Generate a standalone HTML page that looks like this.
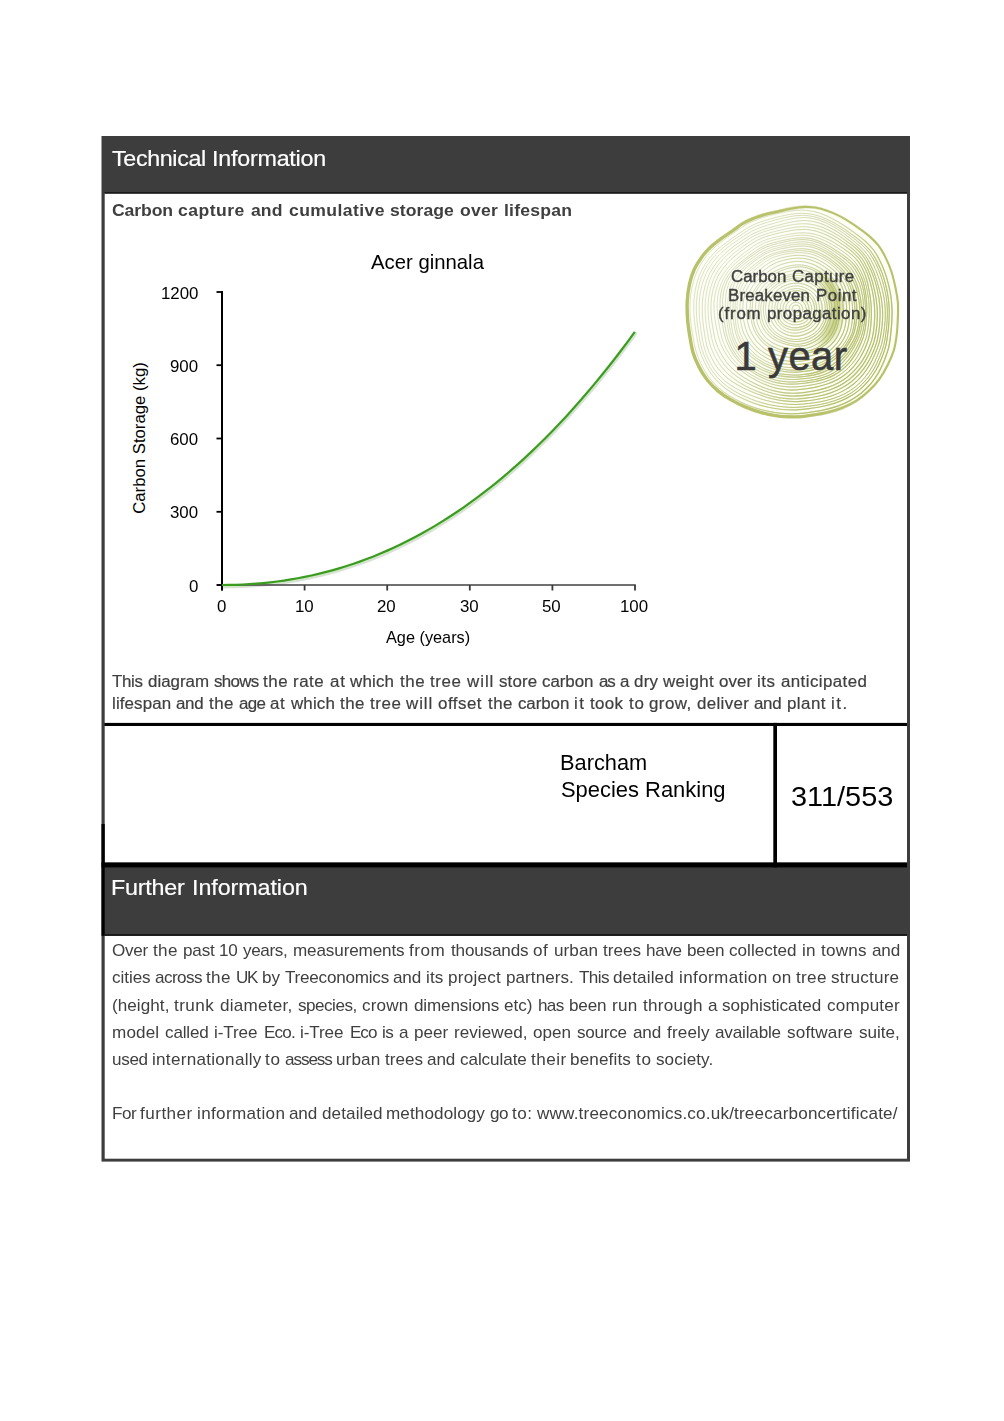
<!DOCTYPE html>
<html><head><meta charset="utf-8"><title>Technical Information</title>
<style>
html,body{margin:0;padding:0;background:#fff;}
body{width:1004px;height:1421px;position:relative;overflow:hidden;font-family:"Liberation Sans", sans-serif;}
.b{position:absolute;}
.t{position:absolute;white-space:nowrap;font-family:"Liberation Sans", sans-serif;}
</style></head><body>
<svg class="b" style="left:0;top:0" width="1004" height="1421" viewBox="0 0 1004 1421">
<rect x="101.50" y="136.00" width="808.50" height="1025.60" fill="#3d3d3d"/>
<rect x="104.70" y="193.60" width="802.30" height="529.40" fill="#fff"/>
<rect x="104.70" y="726.00" width="668.80" height="136.60" fill="#fff"/>
<rect x="777.00" y="726.00" width="130.00" height="136.60" fill="#fff"/>
<rect x="104.70" y="935.80" width="802.30" height="222.90" fill="#fff"/>
<rect x="104.70" y="192.00" width="802.30" height="1.60" fill="#1a1a1a"/>
<rect x="104.70" y="722.90" width="802.30" height="3.10" fill="#000"/>
<rect x="773.50" y="722.90" width="3.50" height="144.50" fill="#000"/>
<rect x="101.50" y="862.50" width="805.50" height="4.90" fill="#000"/>
<rect x="101.50" y="824.00" width="3.20" height="111.80" fill="#000"/>
<rect x="104.70" y="934.20" width="802.30" height="1.60" fill="#111"/>
</svg>
<div class="t" style="left:111.60px;top:148.47px;font-size:22.6px;line-height:22.6px;color:#fff;letter-spacing:-0.340px;transform-origin:0 0;transform:scaleX(1.03);-webkit-text-stroke:0.2px #fff;">Technical</div>
<div class="t" style="left:212.05px;top:148.47px;font-size:22.6px;line-height:22.6px;color:#fff;letter-spacing:-0.211px;transform-origin:0 0;transform:scaleX(1.03);-webkit-text-stroke:0.2px #fff;">Information</div>
<div class="t" style="left:111.20px;top:876.67px;font-size:22.6px;line-height:22.6px;color:#fff;letter-spacing:-0.189px;transform-origin:0 0;transform:scaleX(1.03);-webkit-text-stroke:0.2px #fff;">Further</div>
<div class="t" style="left:191.51px;top:876.67px;font-size:22.6px;line-height:22.6px;color:#fff;letter-spacing:-0.067px;transform-origin:0 0;transform:scaleX(1.03);-webkit-text-stroke:0.2px #fff;">Information</div>
<div class="t" style="left:111.60px;top:203.15px;font-size:16.6px;line-height:16.6px;color:#3f3f3f;letter-spacing:-0.086px;transform-origin:0 0;transform:scaleX(1.06);font-weight:bold;">Carbon</div>
<div class="t" style="left:178.47px;top:203.15px;font-size:16.6px;line-height:16.6px;color:#3f3f3f;letter-spacing:0.445px;transform-origin:0 0;transform:scaleX(1.06);font-weight:bold;">capture</div>
<div class="t" style="left:251.16px;top:203.15px;font-size:16.6px;line-height:16.6px;color:#3f3f3f;letter-spacing:0.077px;transform-origin:0 0;transform:scaleX(1.06);font-weight:bold;">and</div>
<div class="t" style="left:288.52px;top:203.15px;font-size:16.6px;line-height:16.6px;color:#3f3f3f;letter-spacing:0.377px;transform-origin:0 0;transform:scaleX(1.06);font-weight:bold;">cumulative</div>
<div class="t" style="left:390.26px;top:203.15px;font-size:16.6px;line-height:16.6px;color:#3f3f3f;letter-spacing:0.043px;transform-origin:0 0;transform:scaleX(1.06);font-weight:bold;">storage</div>
<div class="t" style="left:459.98px;top:203.15px;font-size:16.6px;line-height:16.6px;color:#3f3f3f;letter-spacing:0.190px;transform-origin:0 0;transform:scaleX(1.06);font-weight:bold;">over</div>
<div class="t" style="left:503.78px;top:203.15px;font-size:16.6px;line-height:16.6px;color:#3f3f3f;letter-spacing:0.216px;transform-origin:0 0;transform:scaleX(1.06);font-weight:bold;">lifespan</div>
<div class="t" style="left:371.20px;top:251.60px;font-size:20.2px;line-height:20.2px;color:#000;transform-origin:0 0;transform:scaleX(1.0063);">Acer ginnala</div>
<svg class="b" style="left:0;top:0" width="1004" height="1421" viewBox="0 0 1004 1421">
<path d="M222.00,585.00 L228.88,584.95 L235.77,584.79 L242.65,584.52 L249.53,584.14 L256.42,583.65 L263.30,583.05 L270.18,582.33 L277.07,581.49 L283.95,580.54 L290.83,579.46 L297.72,578.26 L304.60,576.93 L311.48,575.48 L318.37,573.90 L325.25,572.19 L332.13,570.34 L339.02,568.37 L345.90,566.25 L352.78,564.00 L359.67,561.61 L366.55,559.08 L373.43,556.40 L380.32,553.58 L387.20,550.62 L394.08,547.50 L400.97,544.24 L407.85,540.82 L414.73,537.25 L421.62,533.53 L428.50,529.65 L435.38,525.60 L442.27,521.40 L449.15,517.04 L456.03,512.51 L462.92,507.82 L469.80,502.96 L476.68,497.93 L483.57,492.73 L490.45,487.35 L497.33,481.81 L504.22,476.08 L511.10,470.18 L517.98,464.10 L524.87,457.84 L531.75,451.39 L538.63,444.77 L545.52,437.95 L552.40,430.95 L559.28,423.76 L566.17,416.38 L573.05,408.80 L579.93,401.04 L586.82,393.07 L593.70,384.91 L600.58,376.55 L607.47,367.99 L614.35,359.22 L621.23,350.26 L628.12,341.08 L634.80,331.80" transform="translate(1.0,2.2)" stroke="#dedede" stroke-width="2.4" fill="none" stroke-linecap="round"/>
<path d="M222.00,585.00 L228.88,584.95 L235.77,584.79 L242.65,584.52 L249.53,584.14 L256.42,583.65 L263.30,583.05 L270.18,582.33 L277.07,581.49 L283.95,580.54 L290.83,579.46 L297.72,578.26 L304.60,576.93 L311.48,575.48 L318.37,573.90 L325.25,572.19 L332.13,570.34 L339.02,568.37 L345.90,566.25 L352.78,564.00 L359.67,561.61 L366.55,559.08 L373.43,556.40 L380.32,553.58 L387.20,550.62 L394.08,547.50 L400.97,544.24 L407.85,540.82 L414.73,537.25 L421.62,533.53 L428.50,529.65 L435.38,525.60 L442.27,521.40 L449.15,517.04 L456.03,512.51 L462.92,507.82 L469.80,502.96 L476.68,497.93 L483.57,492.73 L490.45,487.35 L497.33,481.81 L504.22,476.08 L511.10,470.18 L517.98,464.10 L524.87,457.84 L531.75,451.39 L538.63,444.77 L545.52,437.95 L552.40,430.95 L559.28,423.76 L566.17,416.38 L573.05,408.80 L579.93,401.04 L586.82,393.07 L593.70,384.91 L600.58,376.55 L607.47,367.99 L614.35,359.22 L621.23,350.26 L628.12,341.08 L634.80,331.80" transform="translate(0.5,1.2)" stroke="#cfe8c4" stroke-width="2.6" fill="none" stroke-linecap="round"/>
<path d="M217.0,585.0 H635.8 " stroke="#404040" stroke-width="1.7" fill="none"/>
<path d="M222.0,585.0 V590.5" stroke="#3a3a3a" stroke-width="1.8" fill="none"/>
<path d="M304.6,585.0 V590.5" stroke="#3a3a3a" stroke-width="1.8" fill="none"/>
<path d="M387.2,585.0 V590.5" stroke="#3a3a3a" stroke-width="1.8" fill="none"/>
<path d="M469.8,585.0 V590.5" stroke="#3a3a3a" stroke-width="1.8" fill="none"/>
<path d="M552.4,585.0 V590.5" stroke="#3a3a3a" stroke-width="1.8" fill="none"/>
<path d="M635.0,585.0 V590.5" stroke="#3a3a3a" stroke-width="1.8" fill="none"/>
<path d="M222.0,291.1 V590.5" stroke="#000" stroke-width="2" fill="none"/>
<path d="M216.5,585.0 H222.0" stroke="#000" stroke-width="1.8" fill="none"/>
<path d="M216.5,511.8 H222.0" stroke="#000" stroke-width="1.8" fill="none"/>
<path d="M216.5,438.5 H222.0" stroke="#000" stroke-width="1.8" fill="none"/>
<path d="M216.5,365.2 H222.0" stroke="#000" stroke-width="1.8" fill="none"/>
<path d="M216.5,292.0 H222.0" stroke="#000" stroke-width="1.8" fill="none"/>
<path d="M222.00,585.00 L228.88,584.95 L235.77,584.79 L242.65,584.52 L249.53,584.14 L256.42,583.65 L263.30,583.05 L270.18,582.33 L277.07,581.49 L283.95,580.54 L290.83,579.46 L297.72,578.26 L304.60,576.93 L311.48,575.48 L318.37,573.90 L325.25,572.19 L332.13,570.34 L339.02,568.37 L345.90,566.25 L352.78,564.00 L359.67,561.61 L366.55,559.08 L373.43,556.40 L380.32,553.58 L387.20,550.62 L394.08,547.50 L400.97,544.24 L407.85,540.82 L414.73,537.25 L421.62,533.53 L428.50,529.65 L435.38,525.60 L442.27,521.40 L449.15,517.04 L456.03,512.51 L462.92,507.82 L469.80,502.96 L476.68,497.93 L483.57,492.73 L490.45,487.35 L497.33,481.81 L504.22,476.08 L511.10,470.18 L517.98,464.10 L524.87,457.84 L531.75,451.39 L538.63,444.77 L545.52,437.95 L552.40,430.95 L559.28,423.76 L566.17,416.38 L573.05,408.80 L579.93,401.04 L586.82,393.07 L593.70,384.91 L600.58,376.55 L607.47,367.99 L614.35,359.22 L621.23,350.26 L628.12,341.08 L634.80,331.80" stroke="#3c9c22" stroke-width="2.2" fill="none" stroke-linecap="butt"/>
</svg>
<div class="t" style="left:188.92px;top:577.50px;font-size:16.3px;line-height:16.3px;color:#000;transform-origin:0 0;transform:scaleX(1.0350);">0</div>
<div class="t" style="left:170.15px;top:504.25px;font-size:16.3px;line-height:16.3px;color:#000;transform-origin:0 0;transform:scaleX(1.0350);">300</div>
<div class="t" style="left:170.15px;top:431.00px;font-size:16.3px;line-height:16.3px;color:#000;transform-origin:0 0;transform:scaleX(1.0350);">600</div>
<div class="t" style="left:170.15px;top:357.75px;font-size:16.3px;line-height:16.3px;color:#000;transform-origin:0 0;transform:scaleX(1.0350);">900</div>
<div class="t" style="left:160.77px;top:284.50px;font-size:16.3px;line-height:16.3px;color:#000;transform-origin:0 0;transform:scaleX(1.0350);">1200</div>
<div class="t" style="left:216.71px;top:598.10px;font-size:16.3px;line-height:16.3px;color:#000;transform-origin:0 0;transform:scaleX(1.0350);">0</div>
<div class="t" style="left:294.62px;top:598.10px;font-size:16.3px;line-height:16.3px;color:#000;transform-origin:0 0;transform:scaleX(1.0350);">10</div>
<div class="t" style="left:377.22px;top:598.10px;font-size:16.3px;line-height:16.3px;color:#000;transform-origin:0 0;transform:scaleX(1.0350);">20</div>
<div class="t" style="left:459.82px;top:598.10px;font-size:16.3px;line-height:16.3px;color:#000;transform-origin:0 0;transform:scaleX(1.0350);">30</div>
<div class="t" style="left:542.42px;top:598.10px;font-size:16.3px;line-height:16.3px;color:#000;transform-origin:0 0;transform:scaleX(1.0350);">50</div>
<div class="t" style="left:620.33px;top:598.10px;font-size:16.3px;line-height:16.3px;color:#000;transform-origin:0 0;transform:scaleX(1.0350);">100</div>
<div class="t" style="left:385.70px;top:628.89px;font-size:16.2px;line-height:16.2px;color:#000;transform-origin:0 0;transform:scaleX(1.0056);">Age (years)</div>
<div class="t" style="left:139.6px;top:438.3px;font-size:16.0px;line-height:16.0px;color:#000;transform:translate(-50%,-50%) rotate(-90deg) scaleX(1.0451);">Carbon Storage (kg)</div>
<svg class="b" style="left:0;top:0" width="1004" height="1421" viewBox="0 0 1004 1421">
<defs><linearGradient id="lg" gradientUnits="userSpaceOnUse" x1="715" y1="255" x2="885" y2="355"><stop offset="0" stop-color="#000"/><stop offset="0.25" stop-color="#0a0a0a"/><stop offset="0.5" stop-color="#555"/><stop offset="0.72" stop-color="#ccc"/><stop offset="1" stop-color="#fff"/></linearGradient>
<radialGradient id="rg" gradientUnits="userSpaceOnUse" cx="796" cy="309" r="60"><stop offset="0.50" stop-color="#b3bd63" stop-opacity="0"/><stop offset="0.68" stop-color="#b3bd63" stop-opacity="0.75"/><stop offset="0.84" stop-color="#b3bd63" stop-opacity="0"/></radialGradient>
<mask id="mk" maskUnits="userSpaceOnUse" x="680" y="200" width="230" height="225"><rect x="680" y="200" width="230" height="225" fill="url(#lg)"/></mask>
<linearGradient id="lo" gradientUnits="userSpaceOnUse" x1="700" y1="330" x2="890" y2="280"><stop offset="0" stop-color="#fff"/><stop offset="0.45" stop-color="#ddd"/><stop offset="0.75" stop-color="#222"/><stop offset="1" stop-color="#000"/></linearGradient>
<mask id="mo" maskUnits="userSpaceOnUse" x="680" y="200" width="230" height="225"><rect x="680" y="200" width="230" height="225" fill="url(#lo)"/></mask>
<mask id="mb" maskUnits="userSpaceOnUse" x="680" y="200" width="230" height="225"><path d="M818,309 L822,268 L846,272 L858,309 L846,348 L822,346 Z" fill="#fff" filter="url(#bl)"/></mask>
<filter id="bl" x="-50%" y="-50%" width="200%" height="200%"><feGaussianBlur stdDeviation="6"/></filter></defs>
<path d="M799.5,207.2C796.0,207.6 791.6,208.4 787.6,209.2C783.6,210.0 779.6,211.1 775.6,212.0C771.6,212.9 767.7,213.7 763.7,214.9C759.7,216.1 755.3,217.6 751.7,219.1C748.1,220.6 745.1,222.1 742.1,223.9C739.1,225.7 737.2,227.5 733.8,229.9C730.4,232.3 725.8,235.2 721.8,238.2C717.8,241.2 713.3,244.6 709.9,247.8C706.5,251.0 704.1,253.8 701.5,257.4C698.9,261.0 696.3,264.9 694.3,269.3C692.3,273.7 690.8,278.3 689.6,283.7C688.4,289.1 687.5,295.7 687.2,301.6C686.9,307.5 687.2,313.8 687.6,319.3C688.0,324.9 688.7,329.3 689.6,334.9C690.5,340.5 691.5,347.4 693.1,352.8C694.7,358.2 696.7,362.5 699.1,367.1C701.5,371.7 704.3,376.3 707.5,380.3C710.7,384.3 714.4,387.9 718.2,391.1C722.0,394.3 725.8,396.8 730.2,399.4C734.6,402.0 739.3,404.4 744.5,406.6C749.7,408.8 756.1,411.1 761.3,412.6C766.5,414.1 771.2,414.9 775.6,415.6C780.0,416.3 783.6,416.5 787.6,416.7C791.6,416.9 796.0,416.9 799.5,416.7C803.0,416.5 804.4,416.3 808.9,415.6C813.4,414.9 821.2,413.9 826.8,412.6C832.4,411.3 837.4,409.8 842.4,407.8C847.4,405.8 852.3,403.4 856.7,400.6C861.1,397.8 864.9,394.7 868.7,391.1C872.5,387.5 876.2,383.5 879.4,379.1C882.6,374.7 885.4,369.6 887.8,364.8C890.2,360.0 892.3,355.4 893.8,350.4C895.3,345.4 896.0,340.5 896.7,334.9C897.4,329.3 897.7,322.4 897.9,317.0C898.1,311.6 898.3,307.4 897.9,302.6C897.5,297.8 896.7,293.4 895.6,288.2C894.5,283.0 893.1,276.7 891.4,271.5C889.7,266.3 887.6,261.5 885.4,257.1C883.2,252.7 881.0,248.8 878.2,245.2C875.4,241.6 872.3,238.7 868.7,235.6C865.1,232.5 860.7,229.5 856.7,226.7C852.7,223.9 848.8,221.2 844.8,218.9C840.8,216.6 836.8,214.6 832.8,212.9C828.8,211.2 824.9,209.7 820.9,208.7C816.9,207.7 812.5,207.2 808.9,207.0C805.3,206.8 803.0,206.8 799.5,207.2Z" fill="#fdfef5" stroke="none"/>
<g fill="none" stroke="#ccd0a8">
<path d="M799.9,309.0C799.9,309.2 799.9,309.3 799.9,309.5C799.9,309.7 799.9,309.9 799.9,310.0C799.8,310.2 799.8,310.4 799.7,310.5C799.6,310.7 799.6,310.9 799.5,311.0C799.4,311.2 799.3,311.3 799.2,311.4C799.1,311.6 799.0,311.7 798.8,311.8C798.7,311.9 798.6,312.1 798.4,312.2C798.3,312.3 798.1,312.4 798.0,312.4C797.8,312.5 797.7,312.6 797.5,312.6C797.3,312.7 797.2,312.8 797.0,312.8C796.8,312.8 796.7,312.9 796.5,312.9C796.3,312.9 796.2,312.9 796.0,313.0C795.8,313.0 795.7,313.0 795.5,312.9C795.3,312.9 795.1,312.9 795.0,312.8C794.8,312.8 794.6,312.7 794.5,312.7C794.3,312.6 794.2,312.5 794.0,312.4C793.9,312.3 793.7,312.3 793.6,312.2C793.4,312.1 793.3,312.0 793.1,311.9C793.0,311.8 792.9,311.6 792.7,311.5C792.6,311.4 792.5,311.2 792.4,311.1C792.3,310.9 792.3,310.7 792.2,310.6C792.2,310.4 792.1,310.2 792.1,310.0C792.1,309.9 792.0,309.7 792.0,309.5C792.0,309.3 792.0,309.2 792.0,309.0C792.0,308.8 792.0,308.7 792.1,308.5C792.1,308.3 792.1,308.1 792.2,308.0C792.3,307.8 792.3,307.7 792.4,307.5C792.5,307.4 792.6,307.2 792.6,307.1C792.7,306.9 792.8,306.8 792.9,306.6C793.0,306.5 793.1,306.4 793.3,306.3C793.4,306.1 793.5,306.0 793.6,305.9C793.8,305.8 793.9,305.7 794.0,305.6C794.2,305.5 794.4,305.5 794.5,305.4C794.7,305.4 794.8,305.3 795.0,305.3C795.2,305.2 795.3,305.2 795.5,305.2C795.7,305.2 795.8,305.1 796.0,305.1C796.2,305.1 796.3,305.1 796.5,305.1C796.7,305.1 796.9,305.1 797.0,305.2C797.2,305.2 797.3,305.3 797.5,305.4C797.7,305.4 797.8,305.5 798.0,305.6C798.1,305.7 798.2,305.8 798.4,305.9C798.5,306.0 798.6,306.1 798.8,306.2C798.9,306.4 799.0,306.5 799.1,306.6C799.2,306.8 799.3,306.9 799.3,307.1C799.4,307.2 799.5,307.4 799.5,307.5C799.6,307.7 799.6,307.9 799.7,308.0C799.7,308.2 799.8,308.3 799.8,308.5C799.8,308.7 799.9,308.8 799.9,309.0Z" stroke-width="0.72"/>
<path d="M802.7,309.0C802.8,309.3 802.8,309.6 802.7,309.9C802.7,310.2 802.7,310.5 802.6,310.8C802.5,311.1 802.5,311.4 802.3,311.6C802.2,311.9 802.1,312.2 801.9,312.4C801.8,312.7 801.6,312.9 801.4,313.2C801.3,313.4 801.1,313.6 800.9,313.9C800.7,314.1 800.4,314.3 800.2,314.5C800.0,314.6 799.7,314.8 799.4,315.0C799.2,315.1 798.9,315.2 798.6,315.3C798.3,315.4 798.1,315.5 797.8,315.6C797.5,315.7 797.2,315.7 796.9,315.7C796.6,315.8 796.3,315.8 796.0,315.8C795.7,315.8 795.4,315.8 795.1,315.8C794.8,315.8 794.5,315.7 794.2,315.6C793.9,315.5 793.7,315.4 793.4,315.3C793.1,315.2 792.8,315.1 792.6,315.0C792.3,314.8 792.0,314.7 791.8,314.5C791.5,314.3 791.3,314.2 791.0,314.0C790.8,313.8 790.6,313.5 790.4,313.3C790.2,313.1 790.0,312.8 789.9,312.5C789.7,312.3 789.6,312.0 789.5,311.7C789.4,311.4 789.4,311.1 789.3,310.8C789.3,310.5 789.2,310.2 789.2,309.9C789.2,309.6 789.2,309.3 789.2,309.0C789.2,308.7 789.2,308.4 789.2,308.1C789.3,307.8 789.3,307.5 789.4,307.2C789.5,306.9 789.6,306.7 789.7,306.4C789.8,306.1 790.0,305.9 790.1,305.6C790.3,305.4 790.5,305.1 790.6,304.9C790.8,304.7 791.0,304.4 791.2,304.2C791.5,304.0 791.7,303.9 791.9,303.7C792.1,303.5 792.4,303.3 792.6,303.2C792.9,303.1 793.2,302.9 793.4,302.8C793.7,302.7 794.0,302.7 794.3,302.6C794.6,302.5 794.8,302.5 795.1,302.4C795.4,302.4 795.7,302.3 796.0,302.3C796.3,302.3 796.6,302.3 796.9,302.3C797.2,302.3 797.5,302.4 797.8,302.5C798.0,302.5 798.3,302.6 798.6,302.8C798.8,302.9 799.1,303.0 799.4,303.2C799.6,303.3 799.8,303.5 800.1,303.7C800.3,303.9 800.5,304.1 800.7,304.3C800.9,304.5 801.1,304.7 801.3,304.9C801.5,305.2 801.6,305.4 801.8,305.7C801.9,305.9 802.0,306.2 802.1,306.5C802.2,306.7 802.3,307.0 802.4,307.3C802.5,307.6 802.6,307.8 802.6,308.1C802.7,308.4 802.7,308.7 802.7,309.0Z" stroke-width="0.60"/>
<path d="M806.2,309.0C806.2,309.4 806.2,309.9 806.2,310.3C806.1,310.8 806.0,311.2 805.9,311.7C805.8,312.1 805.7,312.5 805.5,312.9C805.4,313.4 805.1,313.8 804.9,314.2C804.7,314.5 804.5,314.9 804.2,315.3C803.9,315.7 803.7,316.0 803.3,316.3C803.0,316.7 802.7,317.0 802.3,317.3C802.0,317.5 801.6,317.8 801.2,318.0C800.8,318.2 800.4,318.4 800.0,318.6C799.5,318.7 799.1,318.8 798.7,319.0C798.2,319.1 797.8,319.1 797.3,319.2C796.9,319.3 796.4,319.3 796.0,319.3C795.6,319.3 795.1,319.3 794.6,319.3C794.2,319.2 793.8,319.1 793.3,319.0C792.9,318.9 792.4,318.8 792.0,318.6C791.6,318.4 791.2,318.2 790.8,318.0C790.4,317.8 790.0,317.6 789.6,317.4C789.2,317.1 788.8,316.8 788.5,316.5C788.1,316.2 787.8,315.9 787.5,315.5C787.2,315.1 787.0,314.7 786.8,314.3C786.6,313.9 786.4,313.5 786.3,313.0C786.1,312.6 786.0,312.1 786.0,311.7C785.9,311.2 785.8,310.8 785.8,310.3C785.7,309.9 785.7,309.4 785.7,309.0C785.7,308.6 785.7,308.1 785.8,307.7C785.8,307.2 785.9,306.8 786.0,306.3C786.1,305.9 786.3,305.5 786.5,305.0C786.6,304.6 786.9,304.2 787.1,303.9C787.3,303.5 787.6,303.1 787.9,302.8C788.2,302.4 788.5,302.1 788.8,301.8C789.1,301.5 789.5,301.2 789.8,301.0C790.2,300.7 790.6,300.5 791.0,300.3C791.3,300.1 791.8,299.9 792.2,299.7C792.6,299.6 793.0,299.5 793.4,299.4C793.8,299.2 794.3,299.1 794.7,299.1C795.1,299.0 795.6,298.9 796.0,298.9C796.4,298.9 796.9,298.8 797.3,298.9C797.8,298.9 798.2,299.0 798.6,299.1C799.1,299.3 799.5,299.4 799.9,299.6C800.3,299.8 800.7,300.0 801.0,300.3C801.4,300.5 801.8,300.7 802.1,301.0C802.5,301.3 802.8,301.6 803.1,301.9C803.5,302.2 803.8,302.5 804.0,302.8C804.3,303.2 804.5,303.6 804.7,304.0C805.0,304.3 805.1,304.7 805.3,305.1C805.5,305.6 805.6,306.0 805.7,306.4C805.9,306.8 806.0,307.2 806.0,307.7C806.1,308.1 806.2,308.6 806.2,309.0Z" stroke-width="0.70"/>
<path d="M809.0,309.0C809.0,309.6 809.0,310.1 808.9,310.7C808.9,311.3 808.7,311.8 808.6,312.4C808.4,312.9 808.2,313.5 808.0,314.0C807.8,314.5 807.5,315.0 807.2,315.5C806.9,316.0 806.6,316.5 806.3,316.9C806.0,317.4 805.6,317.8 805.3,318.3C804.9,318.7 804.5,319.1 804.0,319.4C803.6,319.8 803.1,320.1 802.6,320.4C802.1,320.6 801.5,320.9 801.0,321.1C800.5,321.2 799.9,321.4 799.4,321.5C798.8,321.7 798.3,321.8 797.7,321.8C797.1,321.9 796.6,322.0 796.0,322.0C795.4,322.0 794.9,322.0 794.3,321.9C793.7,321.9 793.2,321.8 792.6,321.6C792.1,321.5 791.5,321.3 791.0,321.2C790.4,321.0 789.9,320.7 789.4,320.5C788.8,320.3 788.3,320.0 787.8,319.7C787.3,319.4 786.8,319.0 786.4,318.6C785.9,318.2 785.5,317.8 785.2,317.3C784.8,316.8 784.6,316.3 784.3,315.7C784.1,315.2 783.9,314.6 783.8,314.1C783.6,313.5 783.5,312.9 783.4,312.4C783.3,311.8 783.2,311.2 783.2,310.7C783.1,310.1 783.1,309.6 783.1,309.0C783.0,308.4 783.1,307.9 783.1,307.3C783.2,306.7 783.3,306.2 783.4,305.6C783.5,305.1 783.7,304.5 783.9,304.0C784.2,303.5 784.4,303.0 784.7,302.5C785.0,302.0 785.4,301.5 785.7,301.1C786.1,300.7 786.5,300.3 786.9,299.9C787.3,299.5 787.7,299.2 788.2,298.8C788.7,298.5 789.1,298.2 789.6,298.0C790.1,297.7 790.6,297.5 791.2,297.3C791.7,297.1 792.2,297.0 792.7,296.8C793.3,296.7 793.8,296.5 794.3,296.4C794.9,296.3 795.4,296.2 796.0,296.1C796.6,296.1 797.1,296.1 797.7,296.2C798.2,296.2 798.8,296.4 799.3,296.5C799.9,296.7 800.4,297.0 800.9,297.2C801.4,297.5 801.8,297.8 802.3,298.1C802.8,298.4 803.2,298.7 803.7,299.0C804.1,299.4 804.5,299.7 804.9,300.1C805.3,300.4 805.7,300.8 806.1,301.3C806.4,301.7 806.7,302.2 807.0,302.6C807.3,303.1 807.5,303.6 807.8,304.1C808.0,304.6 808.2,305.2 808.4,305.7C808.5,306.2 808.7,306.8 808.8,307.3C808.9,307.9 809.0,308.4 809.0,309.0Z" stroke-width="0.63"/>
<path d="M811.8,309.0C811.8,309.7 811.7,310.4 811.6,311.1C811.5,311.7 811.3,312.4 811.2,313.1C811.0,313.7 810.7,314.4 810.5,315.0C810.2,315.6 809.9,316.2 809.6,316.8C809.3,317.4 808.9,318.0 808.5,318.6C808.2,319.2 807.7,319.8 807.3,320.3C806.8,320.8 806.3,321.3 805.7,321.7C805.2,322.1 804.6,322.5 804.0,322.8C803.4,323.1 802.7,323.4 802.1,323.6C801.4,323.9 800.7,324.0 800.1,324.2C799.4,324.4 798.7,324.5 798.1,324.6C797.4,324.7 796.7,324.8 796.0,324.8C795.3,324.8 794.6,324.8 793.9,324.8C793.2,324.7 792.5,324.6 791.9,324.4C791.2,324.3 790.5,324.1 789.9,323.8C789.2,323.6 788.5,323.4 787.9,323.1C787.2,322.7 786.6,322.4 786.0,322.0C785.4,321.6 784.8,321.2 784.3,320.7C783.8,320.2 783.3,319.6 782.9,319.0C782.5,318.4 782.2,317.8 781.9,317.1C781.7,316.5 781.4,315.8 781.3,315.1C781.1,314.4 780.9,313.7 780.8,313.1C780.7,312.4 780.6,311.7 780.5,311.0C780.4,310.4 780.3,309.7 780.2,309.0C780.2,308.3 780.2,307.6 780.3,306.9C780.3,306.2 780.4,305.5 780.6,304.9C780.8,304.2 781.0,303.5 781.3,302.9C781.6,302.3 781.9,301.7 782.3,301.1C782.6,300.5 783.0,299.9 783.5,299.4C783.9,298.9 784.4,298.4 784.9,297.9C785.5,297.5 786.0,297.1 786.6,296.7C787.1,296.3 787.7,295.9 788.3,295.6C788.9,295.3 789.5,295.1 790.1,294.8C790.8,294.6 791.4,294.4 792.0,294.2C792.7,294.0 793.3,293.8 794.0,293.7C794.6,293.6 795.3,293.4 796.0,293.4C796.7,293.4 797.4,293.4 798.0,293.5C798.7,293.6 799.4,293.7 800.0,294.0C800.7,294.2 801.3,294.5 801.9,294.8C802.5,295.1 803.1,295.5 803.6,295.8C804.2,296.2 804.7,296.5 805.3,296.9C805.8,297.3 806.4,297.7 806.9,298.1C807.4,298.6 807.9,299.0 808.3,299.6C808.7,300.1 809.1,300.6 809.5,301.2C809.8,301.8 810.1,302.4 810.4,303.0C810.7,303.7 810.9,304.3 811.1,305.0C811.3,305.6 811.5,306.3 811.6,306.9C811.7,307.6 811.8,308.3 811.8,309.0Z" stroke-width="0.55"/>
<path d="M814.6,309.0C814.6,309.8 814.5,310.6 814.4,311.4C814.2,312.2 814.0,313.0 813.8,313.8C813.6,314.6 813.4,315.3 813.1,316.1C812.8,316.8 812.4,317.6 812.1,318.3C811.7,319.0 811.3,319.7 810.9,320.4C810.4,321.1 809.9,321.8 809.4,322.4C808.8,323.0 808.2,323.6 807.6,324.1C806.9,324.6 806.2,325.0 805.4,325.3C804.7,325.7 803.9,326.0 803.2,326.3C802.4,326.6 801.6,326.8 800.8,327.0C800.0,327.2 799.2,327.3 798.4,327.5C797.6,327.6 796.8,327.8 796.0,327.8C795.2,327.8 794.4,327.8 793.5,327.8C792.7,327.7 791.9,327.6 791.1,327.4C790.3,327.2 789.5,327.0 788.7,326.7C787.9,326.4 787.1,326.1 786.3,325.7C785.6,325.3 784.8,324.9 784.1,324.5C783.4,324.0 782.8,323.4 782.2,322.8C781.6,322.2 781.1,321.5 780.6,320.8C780.2,320.1 779.8,319.3 779.5,318.5C779.1,317.8 778.9,317.0 778.6,316.2C778.4,315.4 778.2,314.6 778.0,313.8C777.9,313.0 777.7,312.2 777.5,311.4C777.4,310.6 777.3,309.8 777.2,309.0C777.2,308.2 777.2,307.3 777.2,306.5C777.3,305.7 777.5,304.9 777.7,304.1C777.9,303.3 778.2,302.5 778.5,301.8C778.8,301.0 779.3,300.3 779.7,299.6C780.1,298.9 780.6,298.2 781.2,297.6C781.7,297.0 782.3,296.4 782.9,295.9C783.5,295.4 784.2,294.9 784.8,294.4C785.5,294.0 786.2,293.5 786.9,293.2C787.6,292.8 788.3,292.5 789.0,292.2C789.8,291.9 790.5,291.7 791.3,291.4C792.1,291.2 792.8,291.0 793.6,290.9C794.4,290.7 795.2,290.6 796.0,290.6C796.8,290.5 797.6,290.6 798.4,290.7C799.2,290.8 800.0,291.1 800.7,291.3C801.5,291.6 802.2,292.0 802.9,292.3C803.6,292.7 804.3,293.0 805.0,293.4C805.7,293.8 806.3,294.2 807.0,294.7C807.7,295.1 808.3,295.5 809.0,296.0C809.6,296.6 810.2,297.1 810.7,297.7C811.2,298.3 811.7,299.0 812.1,299.7C812.5,300.4 812.8,301.1 813.2,301.9C813.5,302.6 813.7,303.4 813.9,304.2C814.2,305.0 814.3,305.8 814.5,306.6C814.6,307.4 814.6,308.2 814.6,309.0Z" stroke-width="0.64"/>
<path d="M816.7,309.0C816.6,309.9 816.6,310.8 816.4,311.7C816.3,312.6 816.1,313.5 815.9,314.3C815.7,315.2 815.5,316.1 815.2,316.9C814.9,317.8 814.5,318.6 814.1,319.5C813.7,320.3 813.3,321.1 812.7,321.8C812.2,322.6 811.7,323.3 811.0,324.0C810.4,324.7 809.7,325.3 808.9,325.9C808.2,326.4 807.4,326.9 806.6,327.3C805.8,327.7 804.9,328.1 804.0,328.4C803.2,328.7 802.3,329.0 801.4,329.2C800.5,329.5 799.6,329.7 798.7,329.8C797.8,330.0 796.9,330.1 796.0,330.1C795.1,330.2 794.1,330.2 793.2,330.1C792.3,330.0 791.4,329.8 790.5,329.6C789.6,329.4 788.7,329.1 787.8,328.8C786.9,328.5 786.1,328.1 785.2,327.7C784.4,327.2 783.6,326.7 782.8,326.2C782.1,325.6 781.3,325.0 780.7,324.3C780.0,323.7 779.4,322.9 778.9,322.1C778.4,321.4 777.9,320.5 777.5,319.7C777.1,318.8 776.8,318.0 776.5,317.1C776.2,316.2 775.9,315.3 775.7,314.4C775.5,313.5 775.3,312.7 775.1,311.7C775.0,310.8 774.8,309.9 774.8,309.0C774.8,308.1 774.8,307.1 774.9,306.2C775.0,305.3 775.2,304.4 775.4,303.5C775.7,302.6 776.0,301.7 776.4,300.9C776.8,300.0 777.3,299.2 777.8,298.5C778.3,297.7 778.8,297.0 779.4,296.3C780.0,295.6 780.7,295.0 781.4,294.4C782.1,293.8 782.8,293.3 783.5,292.7C784.3,292.2 785.0,291.7 785.8,291.3C786.6,290.9 787.4,290.5 788.2,290.2C789.0,289.9 789.9,289.6 790.7,289.4C791.6,289.1 792.5,288.9 793.3,288.8C794.2,288.6 795.1,288.5 796.0,288.5C796.9,288.5 797.8,288.5 798.7,288.6C799.6,288.8 800.4,289.0 801.3,289.3C802.1,289.5 803.0,289.9 803.8,290.2C804.6,290.6 805.4,291.0 806.2,291.4C806.9,291.8 807.7,292.3 808.4,292.8C809.2,293.3 809.9,293.8 810.6,294.4C811.3,295.0 812.0,295.6 812.5,296.3C813.1,297.0 813.6,297.8 814.0,298.6C814.5,299.4 814.8,300.2 815.2,301.1C815.5,301.9 815.8,302.8 816.0,303.6C816.2,304.5 816.4,305.4 816.5,306.3C816.6,307.2 816.7,308.1 816.7,309.0Z" stroke-width="0.56"/>
<path d="M819.3,309.0C819.3,310.0 819.2,311.0 819.1,312.0C818.9,313.0 818.7,314.0 818.5,315.0C818.3,316.0 818.0,317.0 817.7,318.0C817.4,319.0 817.0,319.9 816.5,320.8C816.1,321.8 815.6,322.7 815.0,323.6C814.4,324.4 813.8,325.3 813.0,326.0C812.3,326.8 811.5,327.5 810.6,328.1C809.8,328.7 808.9,329.2 807.9,329.7C807.0,330.2 806.1,330.6 805.1,330.9C804.1,331.3 803.1,331.7 802.1,331.9C801.2,332.2 800.1,332.5 799.1,332.7C798.1,332.9 797.0,333.1 796.0,333.1C795.0,333.2 793.9,333.2 792.8,333.1C791.8,333.0 790.7,332.8 789.7,332.5C788.7,332.3 787.7,331.9 786.7,331.5C785.7,331.1 784.7,330.7 783.8,330.1C782.9,329.6 781.9,329.1 781.1,328.4C780.2,327.8 779.4,327.1 778.7,326.3C778.0,325.5 777.3,324.7 776.7,323.8C776.1,322.9 775.6,322.0 775.2,321.0C774.7,320.1 774.3,319.1 773.9,318.1C773.6,317.2 773.3,316.2 773.0,315.2C772.7,314.2 772.4,313.2 772.2,312.1C772.0,311.1 771.9,310.0 771.8,309.0C771.8,308.0 771.9,306.9 772.0,305.8C772.1,304.8 772.4,303.8 772.7,302.7C773.0,301.7 773.3,300.7 773.8,299.8C774.2,298.8 774.8,297.9 775.3,297.1C775.9,296.2 776.5,295.4 777.2,294.6C777.9,293.8 778.7,293.1 779.4,292.4C780.2,291.8 781.0,291.1 781.8,290.6C782.7,290.0 783.5,289.4 784.4,288.9C785.3,288.4 786.2,288.0 787.2,287.7C788.1,287.3 789.1,287.0 790.0,286.8C791.0,286.5 792.0,286.3 793.0,286.2C794.0,286.0 795.0,285.9 796.0,285.9C797.0,285.9 798.0,285.9 799.0,286.1C800.0,286.2 801.0,286.5 802.0,286.8C802.9,287.1 803.8,287.5 804.8,287.8C805.7,288.2 806.6,288.6 807.5,289.1C808.4,289.5 809.3,290.0 810.2,290.5C811.0,291.1 811.9,291.6 812.7,292.3C813.5,293.0 814.2,293.7 814.9,294.5C815.5,295.3 816.0,296.2 816.5,297.1C817.0,298.1 817.4,299.0 817.8,300.0C818.1,301.0 818.4,301.9 818.6,302.9C818.9,303.9 819.1,304.9 819.2,305.9C819.3,307.0 819.3,308.0 819.3,309.0Z" stroke-width="0.60"/>
<path d="M822.2,309.0C822.2,310.1 822.1,311.3 822.0,312.4C821.8,313.6 821.6,314.7 821.4,315.8C821.2,316.9 820.9,318.1 820.5,319.2C820.2,320.3 819.7,321.3 819.2,322.4C818.7,323.4 818.1,324.5 817.4,325.4C816.7,326.4 816.0,327.3 815.2,328.2C814.3,329.0 813.4,329.8 812.5,330.5C811.5,331.2 810.5,331.8 809.5,332.4C808.5,332.9 807.4,333.4 806.3,333.8C805.2,334.3 804.1,334.7 803.0,335.0C801.8,335.3 800.7,335.6 799.5,335.8C798.4,336.0 797.2,336.2 796.0,336.2C794.8,336.2 793.6,336.2 792.4,336.0C791.3,335.9 790.1,335.7 788.9,335.4C787.8,335.0 786.7,334.7 785.6,334.2C784.5,333.8 783.4,333.2 782.3,332.7C781.3,332.1 780.3,331.5 779.3,330.8C778.3,330.1 777.4,329.3 776.6,328.4C775.7,327.6 775.0,326.7 774.3,325.7C773.6,324.7 772.9,323.7 772.4,322.6C771.8,321.6 771.3,320.5 770.9,319.4C770.5,318.3 770.1,317.2 769.8,316.0C769.5,314.9 769.3,313.7 769.1,312.5C768.9,311.4 768.8,310.2 768.8,309.0C768.8,307.8 768.8,306.6 769.0,305.4C769.2,304.3 769.4,303.1 769.8,302.0C770.1,300.8 770.5,299.7 771.0,298.6C771.5,297.6 772.1,296.5 772.7,295.6C773.4,294.6 774.1,293.7 774.9,292.8C775.6,291.9 776.5,291.1 777.4,290.4C778.2,289.6 779.2,288.9 780.1,288.3C781.0,287.6 782.0,287.0 783.0,286.4C784.0,285.9 785.0,285.5 786.1,285.1C787.1,284.7 788.2,284.4 789.3,284.1C790.4,283.8 791.5,283.6 792.6,283.4C793.7,283.2 794.9,283.1 796.0,283.1C797.1,283.0 798.3,283.1 799.4,283.2C800.5,283.3 801.6,283.6 802.7,283.9C803.8,284.2 804.9,284.5 806.0,285.0C807.0,285.4 808.1,285.8 809.1,286.4C810.1,286.9 811.1,287.5 812.0,288.1C813.0,288.7 814.0,289.4 814.8,290.2C815.7,291.0 816.5,291.8 817.2,292.7C817.9,293.7 818.5,294.7 819.0,295.7C819.5,296.8 820.0,297.8 820.3,298.9C820.7,300.0 821.0,301.1 821.3,302.2C821.6,303.3 821.8,304.5 822.0,305.6C822.1,306.7 822.2,307.9 822.2,309.0Z" stroke-width="0.74"/>
<path d="M825.3,309.0C825.3,310.3 825.3,311.6 825.1,312.8C825.0,314.1 824.8,315.4 824.5,316.6C824.3,317.9 824.0,319.2 823.6,320.4C823.2,321.7 822.6,322.9 822.0,324.0C821.4,325.2 820.8,326.4 820.0,327.4C819.3,328.5 818.4,329.6 817.5,330.5C816.6,331.4 815.6,332.3 814.5,333.1C813.5,333.9 812.3,334.6 811.2,335.3C810.0,335.9 808.8,336.5 807.6,337.0C806.4,337.5 805.1,337.9 803.8,338.3C802.6,338.6 801.3,338.9 800.0,339.1C798.7,339.3 797.3,339.5 796.0,339.5C794.7,339.5 793.3,339.4 792.0,339.3C790.7,339.1 789.4,338.8 788.1,338.5C786.8,338.1 785.6,337.7 784.3,337.2C783.1,336.7 781.9,336.1 780.7,335.5C779.5,334.9 778.4,334.2 777.3,333.4C776.2,332.6 775.1,331.8 774.2,330.8C773.2,329.9 772.3,328.9 771.5,327.8C770.7,326.7 770.0,325.6 769.4,324.4C768.7,323.2 768.1,322.0 767.7,320.7C767.2,319.5 766.8,318.2 766.5,316.9C766.2,315.6 765.9,314.3 765.7,313.0C765.6,311.7 765.5,310.3 765.5,309.0C765.5,307.7 765.6,306.3 765.8,305.0C765.9,303.7 766.2,302.4 766.6,301.1C766.9,299.8 767.4,298.6 767.9,297.4C768.5,296.2 769.1,295.0 769.9,293.9C770.6,292.8 771.4,291.8 772.3,290.8C773.2,289.8 774.1,289.0 775.1,288.1C776.1,287.3 777.2,286.5 778.2,285.8C779.3,285.1 780.3,284.4 781.4,283.8C782.6,283.2 783.7,282.7 784.9,282.2C786.1,281.8 787.3,281.5 788.5,281.2C789.8,280.8 791.0,280.6 792.2,280.4C793.5,280.2 794.7,280.0 796.0,279.9C797.3,279.9 798.6,279.9 799.8,280.0C801.1,280.1 802.4,280.4 803.6,280.7C804.8,281.0 806.0,281.4 807.2,281.9C808.4,282.4 809.6,282.9 810.7,283.5C811.9,284.1 813.0,284.8 814.0,285.5C815.1,286.3 816.1,287.0 817.1,287.9C818.0,288.8 818.9,289.8 819.7,290.8C820.5,291.9 821.1,293.0 821.7,294.2C822.3,295.3 822.8,296.5 823.2,297.7C823.6,298.9 824.0,300.2 824.3,301.4C824.6,302.7 824.9,303.9 825.0,305.2C825.2,306.4 825.3,307.7 825.3,309.0Z" stroke-width="0.60"/>
<path d="M827.4,309.0C827.4,310.4 827.3,311.7 827.2,313.1C827.0,314.5 826.8,315.8 826.6,317.2C826.3,318.5 826.0,319.9 825.5,321.2C825.1,322.5 824.5,323.8 823.9,325.1C823.2,326.3 822.5,327.6 821.7,328.7C820.9,329.9 820.0,331.0 819.0,332.0C818.0,333.0 817.0,334.0 815.8,334.8C814.7,335.7 813.5,336.5 812.3,337.2C811.1,337.9 809.8,338.5 808.5,339.1C807.1,339.6 805.8,340.1 804.4,340.4C803.1,340.8 801.7,341.1 800.2,341.3C798.8,341.5 797.4,341.6 796.0,341.6C794.6,341.6 793.2,341.5 791.7,341.3C790.3,341.1 788.9,340.8 787.6,340.4C786.2,340.0 784.9,339.6 783.5,339.1C782.2,338.5 780.9,338.0 779.7,337.3C778.4,336.6 777.2,335.9 776.0,335.1C774.8,334.3 773.7,333.4 772.6,332.4C771.6,331.4 770.6,330.3 769.7,329.2C768.8,328.0 768.1,326.8 767.4,325.5C766.7,324.3 766.1,323.0 765.6,321.6C765.1,320.3 764.7,318.9 764.4,317.5C764.0,316.1 763.8,314.7 763.6,313.3C763.4,311.9 763.3,310.4 763.3,309.0C763.4,307.6 763.5,306.1 763.7,304.7C763.9,303.3 764.1,301.9 764.5,300.6C764.9,299.2 765.4,297.8 765.9,296.6C766.5,295.3 767.2,294.0 768.0,292.8C768.8,291.7 769.7,290.5 770.6,289.5C771.6,288.5 772.6,287.6 773.7,286.7C774.8,285.8 775.9,285.0 777.0,284.2C778.1,283.5 779.3,282.7 780.5,282.1C781.7,281.4 782.9,280.9 784.2,280.5C785.4,280.0 786.7,279.6 788.0,279.3C789.3,278.9 790.6,278.7 792.0,278.4C793.3,278.2 794.6,278.0 796.0,277.9C797.4,277.8 798.7,277.8 800.1,277.9C801.4,278.0 802.8,278.3 804.1,278.6C805.5,278.9 806.8,279.4 808.1,279.9C809.3,280.4 810.6,281.0 811.8,281.6C813.0,282.3 814.2,283.0 815.3,283.9C816.4,284.7 817.5,285.5 818.5,286.5C819.5,287.4 820.5,288.5 821.3,289.6C822.1,290.7 822.8,292.0 823.4,293.2C824.0,294.4 824.5,295.7 825.0,297.0C825.5,298.3 825.9,299.6 826.2,300.9C826.6,302.2 826.9,303.6 827.1,304.9C827.2,306.3 827.3,307.6 827.4,309.0Z" stroke-width="0.71"/>
<path d="M829.7,309.0C829.8,310.5 829.6,311.9 829.5,313.4C829.3,314.9 829.1,316.3 828.8,317.8C828.5,319.2 828.2,320.7 827.7,322.1C827.2,323.5 826.6,324.9 825.9,326.3C825.3,327.6 824.5,329.0 823.7,330.2C822.8,331.5 821.8,332.7 820.8,333.8C819.7,334.9 818.6,335.9 817.4,336.9C816.2,337.8 814.9,338.7 813.6,339.5C812.3,340.2 810.9,341.0 809.5,341.6C808.1,342.2 806.6,342.7 805.1,343.1C803.7,343.5 802.1,343.8 800.6,344.0C799.1,344.1 797.5,344.2 796.0,344.2C794.5,344.2 792.9,343.9 791.4,343.7C789.9,343.4 788.4,343.0 787.0,342.6C785.5,342.2 784.1,341.7 782.7,341.2C781.3,340.6 779.9,340.0 778.5,339.3C777.1,338.6 775.8,337.9 774.5,337.0C773.2,336.2 772.0,335.2 770.8,334.2C769.7,333.1 768.6,332.0 767.7,330.7C766.7,329.5 765.9,328.2 765.1,326.8C764.4,325.5 763.7,324.1 763.1,322.6C762.6,321.2 762.2,319.7 761.8,318.2C761.5,316.7 761.2,315.1 761.0,313.6C760.8,312.1 760.8,310.5 760.8,309.0C760.8,307.5 761.0,305.9 761.2,304.4C761.4,302.9 761.7,301.4 762.1,299.9C762.5,298.4 763.0,297.0 763.6,295.6C764.2,294.2 764.9,292.8 765.7,291.5C766.6,290.3 767.5,289.1 768.6,288.0C769.6,286.9 770.8,285.9 772.0,285.0C773.1,284.0 774.4,283.2 775.6,282.4C776.9,281.6 778.1,280.9 779.4,280.2C780.7,279.6 782.0,279.0 783.4,278.5C784.7,278.0 786.1,277.6 787.5,277.2C788.9,276.9 790.3,276.5 791.7,276.2C793.1,276.0 794.5,275.7 796.0,275.6C797.5,275.5 798.9,275.4 800.4,275.5C801.9,275.6 803.4,275.9 804.8,276.2C806.2,276.5 807.7,277.0 809.1,277.5C810.4,278.0 811.8,278.6 813.1,279.3C814.4,280.1 815.7,280.9 816.9,281.8C818.1,282.7 819.2,283.7 820.3,284.7C821.3,285.8 822.3,286.9 823.1,288.2C824.0,289.4 824.7,290.7 825.3,292.1C826.0,293.4 826.6,294.7 827.1,296.1C827.6,297.5 828.1,298.9 828.5,300.3C828.9,301.7 829.2,303.2 829.4,304.6C829.6,306.1 829.7,307.5 829.7,309.0Z" stroke-width="0.64"/>
<path d="M831.8,309.0C831.8,310.6 831.6,312.1 831.5,313.7C831.3,315.2 831.0,316.8 830.7,318.3C830.4,319.8 830.1,321.4 829.6,322.9C829.1,324.4 828.4,325.9 827.7,327.3C827.0,328.8 826.3,330.2 825.4,331.5C824.5,332.9 823.5,334.2 822.4,335.4C821.3,336.5 820.0,337.7 818.8,338.7C817.5,339.7 816.2,340.7 814.8,341.5C813.4,342.3 811.9,343.1 810.4,343.7C808.9,344.3 807.3,344.9 805.7,345.3C804.1,345.6 802.5,345.9 800.9,346.0C799.3,346.2 797.6,346.2 796.0,346.2C794.4,346.1 792.8,345.8 791.2,345.5C789.6,345.2 788.0,344.9 786.5,344.4C785.0,344.0 783.4,343.5 781.9,343.0C780.4,342.4 778.9,341.8 777.4,341.1C776.0,340.4 774.5,339.7 773.1,338.8C771.8,337.9 770.4,336.9 769.2,335.8C768.0,334.7 766.8,333.4 765.8,332.1C764.8,330.8 763.9,329.4 763.1,328.0C762.3,326.5 761.6,325.0 761.0,323.5C760.5,321.9 760.1,320.3 759.7,318.7C759.3,317.1 759.1,315.5 758.9,313.9C758.7,312.3 758.6,310.6 758.7,309.0C758.7,307.4 758.8,305.7 759.1,304.1C759.3,302.5 759.6,300.9 760.0,299.4C760.4,297.8 760.9,296.2 761.5,294.7C762.2,293.2 762.9,291.8 763.8,290.4C764.7,289.1 765.8,287.8 766.9,286.7C768.0,285.5 769.3,284.5 770.6,283.6C771.9,282.7 773.2,281.8 774.5,281.0C775.8,280.2 777.1,279.4 778.5,278.7C779.8,278.0 781.3,277.4 782.7,276.8C784.1,276.3 785.5,275.8 787.0,275.4C788.4,274.9 789.9,274.5 791.4,274.2C792.9,273.9 794.5,273.6 796.0,273.4C797.5,273.3 799.1,273.2 800.7,273.3C802.3,273.4 803.8,273.6 805.4,274.0C806.9,274.3 808.4,274.8 809.9,275.4C811.4,276.0 812.8,276.7 814.2,277.5C815.6,278.3 816.9,279.2 818.1,280.2C819.4,281.2 820.6,282.2 821.6,283.4C822.7,284.5 823.8,285.7 824.6,287.0C825.5,288.3 826.3,289.7 827.0,291.1C827.7,292.5 828.4,293.9 829.0,295.4C829.5,296.8 830.0,298.3 830.5,299.8C830.9,301.3 831.2,302.8 831.5,304.3C831.7,305.9 831.8,307.4 831.8,309.0Z" stroke-width="0.58"/>
<path d="M835.0,309.0C835.0,310.7 834.8,312.4 834.7,314.1C834.5,315.8 834.2,317.5 833.9,319.2C833.6,320.8 833.2,322.6 832.7,324.2C832.2,325.9 831.5,327.5 830.7,329.0C830.0,330.6 829.1,332.2 828.1,333.6C827.1,335.1 826.0,336.5 824.8,337.8C823.6,339.1 822.3,340.3 820.9,341.4C819.5,342.5 818.0,343.5 816.4,344.4C814.9,345.3 813.3,346.0 811.6,346.7C809.9,347.3 808.2,347.8 806.5,348.2C804.8,348.6 803.0,348.8 801.3,349.0C799.5,349.2 797.8,349.3 796.0,349.2C794.2,349.2 792.5,349.0 790.8,348.8C789.0,348.6 787.3,348.2 785.6,347.8C783.9,347.4 782.2,346.9 780.5,346.3C778.9,345.8 777.2,345.1 775.6,344.3C774.0,343.5 772.4,342.7 770.9,341.7C769.4,340.7 768.0,339.6 766.6,338.4C765.3,337.1 764.1,335.8 763.0,334.3C761.9,332.9 761.0,331.3 760.1,329.7C759.3,328.1 758.5,326.5 757.9,324.8C757.3,323.1 756.9,321.3 756.5,319.6C756.2,317.8 755.9,316.1 755.7,314.3C755.5,312.5 755.4,310.8 755.4,309.0C755.4,307.2 755.5,305.5 755.7,303.7C755.9,301.9 756.3,300.2 756.7,298.5C757.2,296.8 757.7,295.0 758.4,293.4C759.2,291.8 760.1,290.3 761.1,288.8C762.1,287.4 763.3,286.1 764.5,284.8C765.7,283.6 767.1,282.5 768.5,281.5C769.8,280.4 771.2,279.5 772.6,278.5C774.0,277.6 775.4,276.6 776.8,275.8C778.3,275.0 779.8,274.3 781.4,273.7C782.9,273.1 784.5,272.6 786.1,272.1C787.7,271.6 789.3,271.2 791.0,270.9C792.6,270.6 794.3,270.2 796.0,270.1C797.7,270.0 799.4,269.9 801.1,270.0C802.8,270.2 804.6,270.5 806.2,270.9C807.9,271.3 809.5,271.9 811.1,272.6C812.7,273.3 814.2,274.1 815.7,274.9C817.1,275.8 818.5,276.8 819.9,277.9C821.2,278.9 822.6,280.0 823.8,281.2C825.0,282.4 826.2,283.7 827.2,285.1C828.2,286.4 829.1,287.9 829.9,289.4C830.7,290.9 831.4,292.5 832.0,294.1C832.7,295.7 833.2,297.3 833.6,298.9C834.1,300.6 834.4,302.2 834.6,303.9C834.9,305.6 835.0,307.3 835.0,309.0Z" stroke-width="0.63"/>
<path d="M837.9,309.0C837.9,310.8 837.7,312.6 837.6,314.5C837.4,316.3 837.1,318.1 836.8,319.9C836.5,321.8 836.1,323.6 835.6,325.4C835.0,327.2 834.3,328.9 833.5,330.7C832.7,332.4 831.8,334.1 830.7,335.7C829.7,337.2 828.5,338.8 827.2,340.2C825.9,341.6 824.4,342.9 822.9,344.1C821.4,345.2 819.8,346.3 818.1,347.2C816.4,348.2 814.6,349.0 812.8,349.6C811.0,350.3 809.2,350.8 807.3,351.2C805.4,351.6 803.5,351.8 801.7,352.0C799.8,352.1 797.9,352.2 796.0,352.2C794.1,352.2 792.2,352.0 790.4,351.7C788.5,351.5 786.6,351.2 784.8,350.8C783.0,350.4 781.1,349.9 779.3,349.3C777.5,348.7 775.7,348.0 774.0,347.2C772.2,346.4 770.5,345.4 768.9,344.4C767.3,343.3 765.7,342.1 764.3,340.7C762.9,339.4 761.5,337.9 760.4,336.3C759.2,334.8 758.2,333.1 757.3,331.4C756.4,329.6 755.5,327.8 754.9,326.0C754.3,324.2 753.8,322.3 753.4,320.4C753.0,318.5 752.7,316.6 752.5,314.7C752.3,312.8 752.2,310.9 752.2,309.0C752.2,307.1 752.3,305.2 752.5,303.3C752.8,301.4 753.1,299.5 753.6,297.6C754.1,295.8 754.7,293.9 755.5,292.2C756.3,290.5 757.3,288.8 758.4,287.3C759.5,285.8 760.8,284.3 762.2,283.0C763.5,281.7 765.0,280.6 766.5,279.5C767.9,278.3 769.4,277.3 770.9,276.3C772.4,275.3 773.9,274.2 775.4,273.4C777.0,272.5 778.6,271.7 780.3,271.0C781.9,270.3 783.6,269.7 785.3,269.2C787.0,268.6 788.8,268.2 790.6,267.8C792.4,267.4 794.2,267.1 796.0,267.0C797.8,266.8 799.7,266.8 801.5,266.9C803.4,267.1 805.2,267.4 807.0,267.9C808.8,268.4 810.5,269.1 812.2,269.8C813.9,270.5 815.6,271.4 817.1,272.4C818.7,273.3 820.2,274.4 821.7,275.6C823.1,276.7 824.5,277.9 825.9,279.1C827.2,280.4 828.4,281.8 829.5,283.3C830.6,284.7 831.6,286.3 832.5,287.9C833.3,289.6 834.1,291.2 834.8,292.9C835.5,294.6 836.1,296.4 836.5,298.1C837.0,299.9 837.4,301.7 837.6,303.5C837.8,305.3 837.9,307.2 837.9,309.0Z" stroke-width="0.74"/>
<path d="M839.8,309.0C839.8,310.9 839.6,312.8 839.5,314.7C839.3,316.6 839.1,318.5 838.7,320.5C838.4,322.4 838.1,324.3 837.5,326.2C837.0,328.1 836.3,330.0 835.4,331.8C834.6,333.6 833.6,335.3 832.5,337.0C831.4,338.7 830.1,340.2 828.7,341.7C827.3,343.2 825.8,344.5 824.2,345.7C822.6,347.0 820.9,348.1 819.1,349.0C817.3,349.9 815.5,350.7 813.6,351.4C811.7,352.1 809.7,352.6 807.8,353.0C805.8,353.4 803.9,353.6 801.9,353.8C799.9,354.0 798.0,354.1 796.0,354.1C794.0,354.1 792.1,353.9 790.1,353.7C788.2,353.5 786.2,353.2 784.3,352.8C782.3,352.5 780.4,352.0 778.5,351.4C776.6,350.7 774.7,350.0 772.8,349.1C771.0,348.3 769.2,347.3 767.5,346.1C765.8,345.0 764.2,343.7 762.7,342.3C761.3,340.8 759.9,339.3 758.7,337.6C757.5,336.0 756.4,334.2 755.4,332.4C754.5,330.6 753.6,328.7 752.9,326.8C752.3,324.9 751.8,322.9 751.4,321.0C751.0,319.0 750.6,317.0 750.4,315.0C750.2,313.0 750.1,311.0 750.1,309.0C750.1,307.0 750.2,305.0 750.5,303.0C750.7,301.0 751.1,299.0 751.6,297.1C752.1,295.2 752.8,293.3 753.6,291.5C754.5,289.7 755.6,287.9 756.8,286.3C757.9,284.8 759.3,283.3 760.7,281.9C762.1,280.6 763.7,279.4 765.2,278.2C766.7,277.0 768.2,275.9 769.8,274.8C771.3,273.7 772.8,272.6 774.4,271.6C776.0,270.7 777.7,269.8 779.5,269.1C781.2,268.3 783.0,267.7 784.8,267.1C786.6,266.6 788.4,266.1 790.3,265.7C792.2,265.4 794.1,265.1 796.0,264.9C797.9,264.8 799.9,264.8 801.8,265.0C803.7,265.2 805.6,265.5 807.5,266.0C809.4,266.6 811.2,267.3 813.0,268.1C814.7,268.9 816.4,269.8 818.1,270.8C819.7,271.8 821.3,272.9 822.8,274.1C824.3,275.3 825.8,276.5 827.2,277.8C828.6,279.1 829.9,280.5 831.1,282.1C832.3,283.6 833.3,285.3 834.2,286.9C835.1,288.6 836.0,290.4 836.7,292.2C837.4,293.9 838.0,295.8 838.4,297.6C838.9,299.5 839.3,301.4 839.5,303.3C839.7,305.2 839.8,307.1 839.8,309.0Z" stroke-width="0.73"/>
<path d="M843.2,309.0C843.2,311.1 843.1,313.1 842.9,315.2C842.7,317.2 842.6,319.3 842.2,321.4C841.9,323.5 841.6,325.6 841.0,327.7C840.5,329.7 839.7,331.7 838.7,333.7C837.8,335.6 836.8,337.5 835.5,339.3C834.3,341.1 832.9,342.8 831.4,344.4C829.8,345.9 828.2,347.3 826.4,348.6C824.7,349.9 822.8,351.1 820.9,352.1C819.0,353.1 816.9,353.9 814.9,354.6C812.9,355.3 810.8,355.9 808.7,356.3C806.6,356.8 804.5,357.0 802.4,357.2C800.2,357.5 798.1,357.6 796.0,357.6C793.9,357.7 791.8,357.6 789.6,357.4C787.5,357.2 785.4,356.9 783.3,356.5C781.2,356.1 779.0,355.6 777.0,354.9C774.9,354.3 772.9,353.4 770.9,352.5C768.9,351.5 767.0,350.4 765.2,349.2C763.4,347.9 761.6,346.5 760.1,344.9C758.5,343.4 757.0,341.7 755.7,339.9C754.4,338.2 753.2,336.3 752.2,334.3C751.1,332.4 750.2,330.4 749.4,328.3C748.7,326.2 748.2,324.1 747.7,321.9C747.3,319.8 746.9,317.6 746.7,315.5C746.5,313.3 746.3,311.2 746.4,309.0C746.4,306.8 746.5,304.7 746.8,302.5C747.1,300.4 747.5,298.2 748.1,296.2C748.7,294.1 749.4,292.0 750.4,290.1C751.3,288.2 752.5,286.3 753.8,284.6C755.0,282.9 756.5,281.3 758.0,279.9C759.5,278.4 761.2,277.1 762.8,275.8C764.4,274.5 766.1,273.3 767.7,272.1C769.3,270.9 770.9,269.6 772.7,268.6C774.4,267.5 776.2,266.6 778.1,265.7C779.9,264.9 781.9,264.2 783.9,263.7C785.8,263.1 787.8,262.6 789.8,262.2C791.9,261.9 793.9,261.6 796.0,261.4C798.1,261.3 800.2,261.3 802.2,261.6C804.3,261.8 806.4,262.2 808.4,262.8C810.4,263.3 812.4,264.1 814.2,264.9C816.1,265.8 818.0,266.8 819.8,267.8C821.5,268.9 823.2,270.1 824.9,271.4C826.5,272.6 828.1,273.9 829.6,275.4C831.2,276.8 832.6,278.3 833.9,279.9C835.2,281.6 836.2,283.4 837.2,285.2C838.3,287.0 839.1,288.9 839.9,290.8C840.6,292.7 841.2,294.7 841.7,296.7C842.2,298.7 842.6,300.8 842.8,302.8C843.1,304.9 843.1,306.9 843.2,309.0Z" stroke-width="0.72"/>
<path d="M846.7,309.0C846.7,311.2 846.6,313.4 846.5,315.6C846.3,317.9 846.1,320.1 845.8,322.3C845.4,324.6 845.1,326.9 844.4,329.1C843.8,331.2 842.9,333.4 841.8,335.5C840.8,337.5 839.7,339.6 838.3,341.5C837.0,343.4 835.4,345.2 833.8,346.8C832.2,348.5 830.4,350.0 828.5,351.4C826.7,352.8 824.7,354.0 822.6,355.1C820.6,356.2 818.4,357.1 816.2,357.9C814.1,358.7 811.8,359.3 809.6,359.8C807.4,360.3 805.1,360.6 802.8,360.9C800.6,361.1 798.3,361.4 796.0,361.4C793.7,361.5 791.4,361.4 789.1,361.2C786.8,361.0 784.5,360.7 782.3,360.2C780.0,359.8 777.7,359.2 775.5,358.4C773.3,357.7 771.1,356.7 769.0,355.7C767.0,354.6 764.9,353.4 763.0,352.1C761.0,350.7 759.1,349.2 757.4,347.6C755.7,345.9 754.1,344.1 752.7,342.2C751.3,340.3 750.0,338.3 748.9,336.2C747.7,334.1 746.7,332.0 746.0,329.7C745.2,327.5 744.7,325.2 744.2,322.9C743.7,320.6 743.3,318.3 743.1,316.0C742.9,313.6 742.8,311.3 742.8,309.0C742.8,306.7 743.0,304.4 743.3,302.1C743.6,299.8 744.1,297.5 744.7,295.3C745.3,293.0 746.1,290.8 747.1,288.7C748.1,286.7 749.3,284.7 750.7,282.8C752.0,281.0 753.6,279.3 755.2,277.7C756.8,276.1 758.5,274.7 760.3,273.3C762.0,271.8 763.7,270.5 765.5,269.2C767.2,267.9 769.0,266.5 770.8,265.4C772.7,264.3 774.7,263.3 776.7,262.5C778.8,261.7 780.9,261.0 783.0,260.4C785.1,259.9 787.3,259.4 789.4,259.0C791.6,258.7 793.8,258.3 796.0,258.2C798.2,258.1 800.5,258.1 802.7,258.3C804.9,258.5 807.1,258.9 809.3,259.5C811.4,260.1 813.5,260.9 815.5,261.8C817.6,262.7 819.6,263.8 821.5,264.9C823.4,266.0 825.2,267.3 827.0,268.6C828.7,270.0 830.5,271.3 832.1,272.9C833.8,274.4 835.4,276.0 836.7,277.8C838.1,279.5 839.2,281.5 840.3,283.4C841.4,285.4 842.3,287.4 843.1,289.5C843.9,291.6 844.5,293.7 845.0,295.9C845.5,298.0 845.9,300.2 846.2,302.4C846.5,304.6 846.6,306.8 846.7,309.0Z" stroke-width="0.75"/>
<path d="M849.6,309.0C849.7,311.3 849.6,313.7 849.5,316.0C849.4,318.4 849.2,320.8 848.9,323.2C848.5,325.5 848.1,328.0 847.4,330.3C846.7,332.6 845.7,334.9 844.6,337.1C843.5,339.3 842.2,341.4 840.8,343.4C839.3,345.3 837.7,347.2 835.9,348.9C834.2,350.7 832.3,352.3 830.3,353.7C828.4,355.2 826.3,356.5 824.1,357.7C821.9,358.8 819.7,359.8 817.4,360.6C815.1,361.5 812.7,362.1 810.4,362.7C808.0,363.2 805.6,363.6 803.2,363.9C800.8,364.2 798.4,364.5 796.0,364.6C793.6,364.6 791.1,364.6 788.7,364.4C786.3,364.2 783.8,363.9 781.4,363.4C779.0,362.9 776.6,362.2 774.3,361.4C772.0,360.6 769.7,359.6 767.4,358.5C765.2,357.3 763.1,356.0 761.0,354.6C759.0,353.2 757.0,351.6 755.2,349.8C753.3,348.1 751.6,346.2 750.1,344.2C748.6,342.2 747.2,340.1 746.0,337.9C744.8,335.7 743.7,333.4 742.9,331.0C742.1,328.6 741.5,326.2 741.1,323.7C740.6,321.3 740.2,318.8 740.0,316.4C739.8,313.9 739.7,311.4 739.8,309.0C739.8,306.6 740.0,304.1 740.4,301.7C740.7,299.3 741.2,296.8 741.8,294.5C742.5,292.1 743.3,289.8 744.3,287.6C745.4,285.4 746.7,283.3 748.1,281.4C749.5,279.4 751.2,277.6 752.8,275.9C754.5,274.2 756.3,272.6 758.1,271.1C759.9,269.6 761.8,268.2 763.6,266.8C765.5,265.4 767.3,263.9 769.3,262.7C771.3,261.6 773.4,260.5 775.6,259.7C777.7,258.8 780.0,258.2 782.2,257.6C784.5,257.0 786.8,256.6 789.0,256.2C791.3,255.8 793.7,255.5 796.0,255.4C798.3,255.3 800.7,255.3 803.0,255.5C805.4,255.7 807.7,256.1 810.0,256.8C812.3,257.4 814.5,258.2 816.7,259.1C818.8,260.1 820.9,261.2 822.9,262.4C824.9,263.6 826.9,264.9 828.7,266.3C830.6,267.7 832.5,269.2 834.2,270.8C835.9,272.4 837.6,274.1 839.1,276.0C840.5,277.8 841.7,279.9 842.8,282.0C843.9,284.0 844.9,286.2 845.7,288.4C846.6,290.6 847.2,292.9 847.8,295.1C848.3,297.4 848.8,299.7 849.1,302.0C849.4,304.3 849.5,306.7 849.6,309.0Z" stroke-width="0.70"/>
<path d="M852.6,309.0C852.7,311.5 852.7,313.9 852.5,316.4C852.4,318.9 852.2,321.5 851.8,324.0C851.5,326.5 851.0,329.0 850.3,331.5C849.5,333.9 848.4,336.3 847.2,338.6C846.0,340.8 844.6,343.1 843.1,345.1C841.5,347.2 839.8,349.1 838.0,351.0C836.1,352.8 834.1,354.5 832.1,356.0C830.0,357.6 827.8,359.0 825.6,360.2C823.3,361.5 820.9,362.5 818.5,363.4C816.1,364.3 813.7,365.1 811.2,365.7C808.7,366.2 806.2,366.6 803.6,367.0C801.1,367.3 798.6,367.6 796.0,367.7C793.4,367.8 790.9,367.7 788.3,367.5C785.7,367.3 783.1,366.9 780.6,366.4C778.1,365.9 775.5,365.2 773.1,364.3C770.6,363.4 768.2,362.3 765.9,361.1C763.6,359.9 761.3,358.6 759.1,357.1C756.9,355.6 754.8,353.9 752.9,352.1C751.0,350.3 749.1,348.3 747.5,346.2C745.9,344.1 744.4,341.8 743.2,339.5C741.9,337.2 740.8,334.7 739.9,332.2C739.1,329.7 738.6,327.1 738.1,324.5C737.6,321.9 737.3,319.3 737.1,316.8C736.9,314.2 736.8,311.6 736.9,309.0C736.9,306.4 737.1,303.8 737.5,301.3C737.8,298.8 738.3,296.2 739.0,293.7C739.7,291.2 740.5,288.8 741.6,286.5C742.6,284.1 744.0,281.9 745.5,279.8C746.9,277.8 748.6,275.8 750.4,274.0C752.1,272.2 754.1,270.6 756.0,269.0C757.9,267.4 759.8,265.9 761.8,264.4C763.8,262.9 765.7,261.4 767.8,260.2C769.9,258.9 772.2,257.9 774.5,257.0C776.8,256.2 779.1,255.5 781.5,254.9C783.9,254.4 786.3,253.9 788.7,253.6C791.1,253.2 793.5,252.9 796.0,252.7C798.5,252.6 800.9,252.5 803.4,252.8C805.9,253.0 808.3,253.4 810.7,254.0C813.1,254.6 815.5,255.5 817.8,256.5C820.0,257.5 822.2,258.6 824.4,259.9C826.5,261.1 828.5,262.6 830.5,264.1C832.5,265.5 834.4,267.1 836.2,268.8C838.0,270.5 839.8,272.3 841.3,274.2C842.8,276.2 844.1,278.4 845.3,280.5C846.5,282.7 847.5,285.0 848.4,287.3C849.2,289.6 849.9,292.0 850.5,294.4C851.1,296.8 851.6,299.2 852.0,301.6C852.3,304.1 852.5,306.5 852.6,309.0Z" stroke-width="0.56"/>
<path d="M854.9,309.0C855.0,311.6 855.0,314.2 854.9,316.8C854.8,319.3 854.6,322.0 854.1,324.6C853.7,327.2 853.2,329.9 852.4,332.4C851.5,334.9 850.3,337.3 849.0,339.6C847.8,342.0 846.3,344.2 844.6,346.3C843.0,348.4 841.2,350.4 839.3,352.3C837.4,354.2 835.4,356.0 833.3,357.6C831.2,359.2 829.0,360.8 826.6,362.1C824.3,363.4 821.9,364.6 819.4,365.5C816.9,366.5 814.4,367.3 811.8,367.9C809.2,368.5 806.6,369.0 803.9,369.3C801.3,369.7 798.7,370.0 796.0,370.1C793.3,370.2 790.7,370.1 788.0,369.9C785.3,369.6 782.6,369.3 780.0,368.7C777.4,368.1 774.7,367.4 772.2,366.5C769.7,365.5 767.1,364.4 764.7,363.2C762.3,361.9 759.9,360.5 757.7,358.9C755.4,357.4 753.2,355.7 751.2,353.8C749.2,351.9 747.2,349.9 745.5,347.7C743.8,345.6 742.3,343.2 741.0,340.8C739.7,338.3 738.5,335.8 737.7,333.2C736.8,330.6 736.4,327.8 735.9,325.1C735.5,322.4 735.2,319.7 735.0,317.0C734.9,314.3 734.8,311.7 734.9,309.0C735.0,306.3 735.2,303.7 735.5,301.0C735.9,298.4 736.3,295.8 736.9,293.2C737.6,290.6 738.4,288.0 739.5,285.6C740.6,283.2 741.9,280.8 743.4,278.7C744.9,276.5 746.7,274.4 748.5,272.6C750.3,270.7 752.3,269.0 754.3,267.3C756.3,265.6 758.3,264.1 760.4,262.6C762.4,261.0 764.4,259.4 766.7,258.2C768.9,256.9 771.3,255.9 773.6,255.0C776.0,254.2 778.5,253.6 781.0,253.0C783.5,252.4 786.0,252.0 788.5,251.7C791.0,251.3 793.5,251.0 796.0,250.8C798.5,250.6 801.1,250.6 803.7,250.8C806.2,250.9 808.8,251.3 811.3,251.9C813.8,252.6 816.2,253.5 818.6,254.5C820.9,255.5 823.2,256.7 825.4,258.0C827.6,259.4 829.7,260.9 831.7,262.4C833.8,264.0 835.8,265.6 837.6,267.4C839.5,269.1 841.3,271.0 842.9,273.0C844.5,275.0 845.8,277.3 847.1,279.5C848.3,281.8 849.4,284.1 850.3,286.5C851.2,288.9 852.0,291.4 852.6,293.8C853.3,296.3 853.8,298.8 854.2,301.3C854.6,303.9 854.8,306.4 854.9,309.0Z" stroke-width="0.60"/>
<path d="M856.9,309.0C857.0,311.7 856.9,314.3 856.8,317.0C856.6,319.7 856.3,322.4 855.8,325.0C855.4,327.7 854.8,330.4 853.9,333.0C853.0,335.6 851.8,338.0 850.5,340.4C849.2,342.8 847.7,345.2 846.0,347.4C844.4,349.6 842.6,351.7 840.7,353.7C838.8,355.7 836.7,357.6 834.6,359.3C832.4,361.0 830.1,362.6 827.8,364.0C825.4,365.4 822.8,366.6 820.3,367.6C817.7,368.6 815.0,369.4 812.4,370.0C809.7,370.7 806.9,371.1 804.2,371.4C801.5,371.8 798.7,372.1 796.0,372.2C793.3,372.2 790.5,372.1 787.7,371.9C785.0,371.6 782.2,371.2 779.5,370.6C776.8,370.0 774.1,369.2 771.4,368.3C768.8,367.3 766.2,366.2 763.7,364.9C761.2,363.6 758.7,362.2 756.4,360.6C754.1,359.0 751.7,357.3 749.6,355.4C747.5,353.4 745.5,351.3 743.8,349.1C742.1,346.8 740.5,344.3 739.2,341.8C737.9,339.3 736.7,336.6 735.9,333.9C735.1,331.2 734.6,328.3 734.2,325.6C733.7,322.8 733.4,320.0 733.2,317.3C733.0,314.5 732.9,311.8 733.0,309.0C733.0,306.2 733.1,303.5 733.4,300.8C733.7,298.0 734.1,295.3 734.8,292.6C735.4,289.9 736.2,287.2 737.4,284.7C738.5,282.2 739.9,279.8 741.5,277.5C743.1,275.3 744.9,273.2 746.8,271.2C748.7,269.3 750.8,267.6 752.9,265.9C754.9,264.2 757.1,262.6 759.2,261.1C761.4,259.5 763.5,257.9 765.8,256.7C768.1,255.4 770.6,254.4 773.0,253.5C775.5,252.7 778.1,252.1 780.6,251.5C783.1,250.9 785.7,250.4 788.2,250.0C790.8,249.6 793.4,249.2 796.0,249.0C798.6,248.8 801.3,248.6 803.9,248.8C806.6,249.0 809.2,249.4 811.8,250.0C814.4,250.7 816.9,251.6 819.3,252.7C821.7,253.8 824.1,255.1 826.3,256.4C828.6,257.8 830.7,259.4 832.8,261.0C834.9,262.6 837.0,264.2 839.0,266.0C840.9,267.8 842.8,269.7 844.5,271.8C846.1,273.9 847.5,276.2 848.8,278.5C850.1,280.8 851.2,283.3 852.2,285.7C853.1,288.2 853.9,290.7 854.6,293.3C855.3,295.9 855.8,298.5 856.2,301.1C856.6,303.7 856.8,306.3 856.9,309.0Z" stroke-width="0.64"/>
<path d="M859.7,309.0C859.8,311.8 859.7,314.6 859.4,317.4C859.2,320.1 858.9,322.9 858.4,325.7C857.8,328.5 857.2,331.3 856.3,334.0C855.3,336.6 854.0,339.2 852.7,341.7C851.3,344.2 849.8,346.7 848.1,349.0C846.4,351.3 844.6,353.6 842.7,355.7C840.7,357.8 838.6,359.8 836.4,361.7C834.2,363.5 831.8,365.2 829.3,366.7C826.8,368.2 824.2,369.4 821.5,370.5C818.8,371.5 815.9,372.3 813.1,373.0C810.3,373.6 807.5,374.0 804.6,374.3C801.7,374.7 798.9,375.0 796.0,375.1C793.1,375.1 790.2,375.0 787.3,374.7C784.5,374.5 781.6,374.1 778.7,373.5C775.9,372.8 773.1,372.0 770.3,371.0C767.5,370.1 764.8,368.9 762.2,367.5C759.6,366.2 757.0,364.7 754.5,363.1C752.1,361.4 749.6,359.6 747.4,357.6C745.2,355.5 743.1,353.3 741.3,350.9C739.5,348.6 737.9,346.0 736.6,343.3C735.2,340.6 734.1,337.8 733.3,335.0C732.4,332.1 732.0,329.2 731.6,326.3C731.1,323.4 730.8,320.5 730.6,317.6C730.4,314.7 730.2,311.9 730.2,309.0C730.2,306.1 730.2,303.2 730.5,300.4C730.8,297.5 731.1,294.6 731.8,291.8C732.4,289.0 733.2,286.1 734.4,283.5C735.6,280.8 737.1,278.3 738.8,276.0C740.4,273.6 742.4,271.4 744.4,269.4C746.4,267.4 748.7,265.6 750.9,263.9C753.1,262.1 755.3,260.5 757.6,258.9C759.9,257.4 762.1,255.7 764.5,254.4C766.9,253.1 769.5,252.1 772.1,251.2C774.6,250.3 777.3,249.7 779.9,249.1C782.6,248.5 785.2,248.0 787.9,247.5C790.6,247.0 793.3,246.5 796.0,246.3C798.7,246.1 801.5,245.9 804.3,246.1C807.0,246.2 809.8,246.7 812.5,247.3C815.2,248.0 817.8,249.1 820.4,250.2C822.9,251.4 825.3,252.7 827.6,254.2C830.0,255.7 832.2,257.3 834.4,259.0C836.6,260.6 838.8,262.3 840.8,264.2C842.8,266.1 844.9,268.0 846.6,270.2C848.3,272.3 849.8,274.7 851.2,277.1C852.6,279.5 853.8,282.1 854.8,284.6C855.8,287.2 856.7,289.9 857.4,292.6C858.1,295.2 858.6,298.0 859.0,300.7C859.4,303.4 859.6,306.2 859.7,309.0Z" stroke-width="0.66"/>
<path d="M861.4,309.0C861.5,311.9 861.3,314.7 861.1,317.6C860.9,320.4 860.5,323.3 860.0,326.1C859.4,329.0 858.9,331.9 857.9,334.6C857.0,337.4 855.7,340.1 854.3,342.7C853.0,345.3 851.5,347.9 849.8,350.3C848.2,352.8 846.3,355.1 844.3,357.3C842.3,359.5 840.2,361.7 837.9,363.6C835.6,365.5 833.1,367.2 830.5,368.7C827.9,370.2 825.1,371.5 822.3,372.5C819.5,373.6 816.6,374.3 813.7,375.0C810.8,375.6 807.8,376.0 804.9,376.4C801.9,376.7 799.0,377.1 796.0,377.1C793.0,377.2 790.0,377.1 787.1,376.8C784.1,376.5 781.1,376.1 778.2,375.5C775.3,374.8 772.3,374.0 769.5,373.0C766.7,372.0 763.9,370.8 761.1,369.4C758.4,368.0 755.7,366.5 753.2,364.8C750.7,363.1 748.2,361.2 745.9,359.1C743.7,357.0 741.5,354.7 739.7,352.2C737.8,349.8 736.2,347.0 734.9,344.3C733.5,341.6 732.3,338.7 731.5,335.7C730.6,332.8 730.1,329.8 729.6,326.8C729.1,323.8 728.7,320.9 728.4,317.9C728.1,314.9 727.9,312.0 727.8,309.0C727.8,306.0 727.8,303.0 728.1,300.1C728.3,297.1 728.7,294.1 729.4,291.2C730.1,288.3 731.0,285.3 732.3,282.6C733.5,279.9 735.2,277.3 736.9,274.9C738.7,272.5 740.8,270.3 742.9,268.2C745.0,266.2 747.3,264.4 749.6,262.6C751.9,260.8 754.2,259.2 756.5,257.6C758.9,256.0 761.2,254.3 763.6,252.9C766.1,251.6 768.8,250.6 771.4,249.6C774.0,248.7 776.8,248.0 779.5,247.3C782.2,246.6 784.9,246.1 787.6,245.6C790.4,245.1 793.2,244.5 796.0,244.3C798.8,244.0 801.7,243.8 804.6,244.0C807.4,244.2 810.3,244.7 813.0,245.4C815.8,246.2 818.5,247.3 821.1,248.5C823.7,249.7 826.2,251.1 828.6,252.6C831.0,254.1 833.3,255.7 835.6,257.4C837.8,259.1 840.1,260.8 842.3,262.7C844.4,264.6 846.5,266.6 848.3,268.9C850.1,271.1 851.6,273.6 853.0,276.1C854.4,278.6 855.7,281.2 856.7,283.9C857.7,286.5 858.5,289.3 859.2,292.1C859.9,294.8 860.5,297.6 860.8,300.5C861.2,303.3 861.4,306.1 861.4,309.0Z" stroke-width="0.58"/>
<path d="M863.5,309.0C863.5,311.9 863.3,314.9 863.1,317.8C862.8,320.8 862.4,323.7 861.8,326.6C861.2,329.6 860.6,332.5 859.6,335.4C858.6,338.2 857.3,340.9 855.9,343.6C854.6,346.3 853.1,349.0 851.4,351.5C849.7,354.1 847.9,356.6 845.9,358.9C843.9,361.2 841.7,363.5 839.4,365.5C837.0,367.6 834.5,369.4 831.8,371.0C829.1,372.6 826.2,373.8 823.3,374.9C820.4,375.9 817.3,376.7 814.3,377.3C811.3,377.9 808.2,378.3 805.2,378.6C802.1,379.0 799.1,379.3 796.0,379.4C792.9,379.5 789.8,379.5 786.8,379.2C783.7,379.0 780.6,378.6 777.5,378.0C774.5,377.3 771.4,376.5 768.5,375.4C765.5,374.4 762.6,373.1 759.8,371.6C757.0,370.2 754.3,368.6 751.7,366.8C749.1,365.0 746.5,363.0 744.2,360.8C741.9,358.6 739.7,356.2 737.8,353.6C736.0,351.1 734.3,348.2 733.0,345.4C731.6,342.5 730.5,339.5 729.6,336.5C728.7,333.5 728.3,330.3 727.8,327.3C727.3,324.2 726.8,321.2 726.5,318.2C726.1,315.1 725.7,312.1 725.6,309.0C725.4,305.9 725.3,302.8 725.5,299.7C725.7,296.6 726.0,293.5 726.7,290.4C727.4,287.4 728.4,284.3 729.7,281.5C731.0,278.7 732.8,276.0 734.6,273.6C736.5,271.1 738.7,268.9 741.0,266.8C743.2,264.7 745.7,262.8 748.0,261.0C750.4,259.2 752.8,257.6 755.3,255.9C757.7,254.3 760.0,252.5 762.6,251.2C765.2,249.8 767.9,248.7 770.6,247.7C773.4,246.8 776.2,246.1 779.0,245.4C781.8,244.7 784.6,244.2 787.4,243.6C790.2,243.1 793.1,242.5 796.0,242.2C798.9,241.9 801.9,241.7 804.8,241.9C807.8,242.1 810.7,242.6 813.6,243.4C816.4,244.2 819.2,245.4 821.8,246.6C824.5,247.9 827.0,249.4 829.5,250.9C832.0,252.5 834.3,254.2 836.7,256.0C839.1,257.7 841.5,259.4 843.7,261.3C846.0,263.2 848.2,265.2 850.2,267.4C852.1,269.7 853.8,272.2 855.2,274.8C856.7,277.4 858.0,280.1 859.1,282.9C860.1,285.6 860.9,288.5 861.6,291.4C862.3,294.3 862.8,297.2 863.1,300.2C863.4,303.1 863.5,306.1 863.5,309.0Z" stroke-width="0.60"/>
<path d="M865.4,309.0C865.4,312.0 865.2,315.0 864.9,318.1C864.6,321.1 864.3,324.1 863.7,327.1C863.2,330.2 862.6,333.2 861.6,336.2C860.7,339.1 859.4,342.0 858.0,344.8C856.7,347.6 855.2,350.4 853.5,353.1C851.8,355.8 849.9,358.4 847.8,360.8C845.8,363.3 843.5,365.6 841.0,367.7C838.6,369.8 835.9,371.7 833.1,373.2C830.3,374.8 827.2,376.1 824.2,377.1C821.2,378.2 818.0,378.9 814.9,379.6C811.8,380.2 808.6,380.6 805.5,381.0C802.3,381.3 799.2,381.7 796.0,381.9C792.8,382.0 789.6,382.0 786.4,381.7C783.2,381.5 780.0,381.1 776.9,380.4C773.7,379.7 770.6,378.8 767.5,377.7C764.5,376.6 761.5,375.2 758.6,373.7C755.8,372.2 752.9,370.5 750.2,368.6C747.6,366.8 744.9,364.7 742.6,362.4C740.2,360.2 738.0,357.7 736.0,355.0C734.1,352.4 732.4,349.5 731.0,346.5C729.5,343.6 728.3,340.5 727.4,337.4C726.4,334.3 725.9,331.1 725.3,327.9C724.7,324.8 724.2,321.7 723.8,318.5C723.3,315.4 722.9,312.2 722.7,309.0C722.6,305.8 722.5,302.6 722.7,299.3C722.9,296.1 723.3,292.9 724.1,289.7C724.9,286.6 726.0,283.5 727.4,280.6C728.8,277.7 730.7,275.0 732.7,272.4C734.7,269.9 737.0,267.6 739.3,265.5C741.6,263.4 744.2,261.5 746.6,259.6C749.1,257.7 751.5,256.0 754.0,254.3C756.5,252.6 758.9,250.8 761.5,249.3C764.2,247.9 767.0,246.8 769.8,245.8C772.6,244.8 775.5,244.0 778.4,243.3C781.3,242.6 784.2,242.0 787.1,241.4C790.0,240.8 793.0,240.2 796.0,239.9C799.0,239.7 802.1,239.5 805.1,239.7C808.1,239.9 811.2,240.5 814.1,241.3C817.1,242.1 819.9,243.4 822.6,244.7C825.4,246.0 828.0,247.5 830.6,249.1C833.2,250.6 835.6,252.4 838.1,254.1C840.6,255.9 843.1,257.6 845.5,259.5C847.8,261.5 850.2,263.5 852.2,265.9C854.2,268.2 855.9,270.9 857.3,273.6C858.8,276.3 860.1,279.1 861.1,282.0C862.2,284.9 862.9,287.9 863.6,290.9C864.2,293.9 864.6,296.9 864.9,299.9C865.2,302.9 865.4,306.0 865.4,309.0Z" stroke-width="0.74"/>
<path d="M866.8,309.0C866.8,312.1 866.7,315.2 866.4,318.3C866.2,321.4 865.9,324.5 865.4,327.6C864.9,330.7 864.3,333.9 863.4,336.9C862.4,339.9 861.1,342.9 859.8,345.8C858.4,348.8 856.9,351.7 855.2,354.4C853.5,357.2 851.6,359.9 849.5,362.5C847.3,365.0 845.0,367.4 842.4,369.5C839.9,371.6 837.1,373.5 834.2,375.1C831.3,376.7 828.1,377.9 825.0,379.0C821.9,380.1 818.6,380.8 815.4,381.5C812.2,382.1 809.0,382.5 805.7,383.0C802.5,383.4 799.3,383.9 796.0,384.0C792.7,384.2 789.4,384.2 786.1,384.0C782.8,383.7 779.5,383.3 776.3,382.6C773.0,381.9 769.8,380.9 766.7,379.7C763.6,378.5 760.6,377.0 757.7,375.4C754.7,373.8 751.8,372.0 749.1,370.1C746.4,368.2 743.7,366.0 741.3,363.7C738.8,361.4 736.5,358.9 734.5,356.2C732.6,353.5 730.8,350.5 729.3,347.5C727.8,344.5 726.5,341.4 725.5,338.2C724.5,335.0 723.9,331.7 723.2,328.5C722.5,325.3 721.9,322.1 721.4,318.8C720.9,315.6 720.4,312.3 720.2,309.0C720.0,305.7 719.9,302.3 720.2,299.0C720.5,295.7 721.0,292.3 721.8,289.1C722.7,285.9 723.9,282.7 725.5,279.8C727.0,276.8 729.0,274.1 731.1,271.5C733.2,269.0 735.6,266.6 737.9,264.4C740.3,262.3 742.9,260.3 745.4,258.4C747.9,256.5 750.4,254.7 752.9,252.9C755.5,251.1 757.9,249.2 760.6,247.7C763.3,246.2 766.2,245.1 769.1,244.0C772.0,243.0 775.0,242.3 777.9,241.5C780.9,240.8 783.9,240.2 786.9,239.6C789.9,239.1 792.9,238.4 796.0,238.1C799.1,237.9 802.3,237.7 805.4,237.9C808.5,238.1 811.6,238.7 814.6,239.6C817.6,240.4 820.5,241.7 823.3,243.0C826.2,244.3 828.9,245.8 831.5,247.4C834.2,249.0 836.8,250.7 839.4,252.5C841.9,254.2 844.6,256.0 847.0,258.0C849.5,260.0 852.0,262.1 854.0,264.5C856.0,266.9 857.7,269.7 859.2,272.5C860.7,275.3 861.9,278.3 862.9,281.3C863.9,284.3 864.5,287.4 865.1,290.5C865.7,293.6 866.1,296.6 866.4,299.7C866.7,302.8 866.8,305.9 866.8,309.0Z" stroke-width="0.73"/>
<path d="M869.2,309.0C869.3,312.2 869.2,315.4 869.0,318.6C868.8,321.8 868.5,325.1 868.0,328.3C867.5,331.5 867.0,334.9 866.1,338.0C865.1,341.2 863.8,344.3 862.4,347.3C861.0,350.4 859.5,353.4 857.6,356.3C855.8,359.2 853.8,362.0 851.5,364.5C849.3,367.1 846.8,369.6 844.1,371.7C841.4,373.8 838.5,375.8 835.5,377.4C832.5,379.0 829.2,380.3 826.0,381.4C822.8,382.6 819.4,383.4 816.1,384.1C812.8,384.8 809.5,385.3 806.1,385.8C802.8,386.3 799.4,386.7 796.0,386.9C792.6,387.0 789.2,387.0 785.8,386.7C782.4,386.4 778.9,385.9 775.6,385.1C772.3,384.3 769.0,383.3 765.7,382.0C762.5,380.8 759.4,379.3 756.3,377.7C753.3,376.1 750.3,374.3 747.4,372.3C744.6,370.3 741.7,368.2 739.2,365.8C736.6,363.4 734.2,360.8 732.1,358.0C730.0,355.3 728.1,352.2 726.5,349.1C724.9,346.0 723.5,342.8 722.4,339.5C721.3,336.2 720.7,332.7 720.0,329.4C719.3,326.0 718.7,322.6 718.2,319.2C717.7,315.8 717.3,312.4 717.2,309.0C717.1,305.6 717.2,302.1 717.5,298.7C717.9,295.3 718.5,291.8 719.5,288.5C720.4,285.2 721.7,281.9 723.3,278.9C724.9,275.8 726.9,273.0 729.0,270.3C731.1,267.6 733.5,265.2 735.9,262.9C738.3,260.6 741.0,258.6 743.5,256.5C746.1,254.5 748.7,252.7 751.4,250.8C754.0,249.0 756.5,247.0 759.3,245.5C762.1,243.9 765.1,242.7 768.1,241.7C771.1,240.6 774.2,239.8 777.3,239.1C780.3,238.3 783.4,237.6 786.5,237.0C789.7,236.5 792.8,235.8 796.0,235.5C799.2,235.2 802.5,235.1 805.7,235.3C808.9,235.6 812.2,236.2 815.3,237.0C818.4,237.9 821.4,239.2 824.4,240.5C827.3,241.8 830.2,243.4 832.9,245.0C835.7,246.7 838.4,248.5 841.0,250.3C843.7,252.1 846.4,254.0 848.9,256.1C851.4,258.2 853.9,260.5 855.9,263.1C857.9,265.6 859.5,268.6 861.0,271.5C862.5,274.4 863.7,277.5 864.7,280.5C865.7,283.6 866.4,286.8 867.1,290.0C867.7,293.1 868.2,296.3 868.6,299.4C868.9,302.6 869.2,305.8 869.2,309.0Z" stroke-width="0.57"/>
<path d="M871.3,309.0C871.4,312.3 871.4,315.6 871.3,318.9C871.1,322.2 870.9,325.6 870.4,328.9C870.0,332.3 869.5,335.7 868.5,339.0C867.6,342.3 866.2,345.5 864.8,348.7C863.3,351.9 861.7,355.0 859.9,358.0C858.0,361.0 855.9,363.9 853.6,366.6C851.3,369.3 848.7,371.8 845.9,374.0C843.1,376.2 840.1,378.2 836.9,379.9C833.8,381.6 830.4,382.9 827.1,384.0C823.7,385.2 820.3,386.1 816.9,386.8C813.4,387.6 810.0,388.1 806.5,388.7C803.0,389.2 799.5,389.7 796.0,389.9C792.5,390.1 788.9,390.0 785.4,389.7C781.9,389.3 778.3,388.7 774.9,387.9C771.4,387.0 768.0,385.8 764.8,384.4C761.5,383.1 758.3,381.5 755.2,379.7C752.0,378.0 748.9,376.2 746.0,374.2C743.0,372.1 740.1,370.0 737.4,367.6C734.7,365.2 732.1,362.6 729.9,359.7C727.7,356.9 725.7,353.8 724.0,350.6C722.2,347.4 720.7,344.1 719.6,340.7C718.4,337.3 717.7,333.7 717.0,330.2C716.2,326.7 715.5,323.2 715.0,319.7C714.5,316.1 714.1,312.6 714.0,309.0C713.9,305.4 714.0,301.8 714.5,298.3C714.9,294.7 715.6,291.1 716.7,287.7C717.7,284.3 719.1,281.0 720.8,277.9C722.5,274.7 724.7,271.8 726.9,269.1C729.0,266.3 731.5,263.8 734.0,261.4C736.5,259.0 739.1,256.9 741.8,254.8C744.4,252.7 747.1,250.7 749.8,248.8C752.5,246.9 755.1,244.8 758.0,243.3C760.9,241.7 764.1,240.5 767.2,239.4C770.3,238.4 773.5,237.6 776.7,236.9C779.8,236.1 783.0,235.4 786.2,234.8C789.5,234.2 792.7,233.5 796.0,233.2C799.3,232.9 802.7,232.6 806.0,232.9C809.3,233.1 812.7,233.7 815.9,234.5C819.2,235.4 822.3,236.7 825.4,238.1C828.4,239.4 831.4,241.0 834.3,242.7C837.2,244.4 840.0,246.2 842.7,248.1C845.5,250.0 848.4,251.9 850.9,254.1C853.5,256.3 856.0,258.7 858.1,261.4C860.1,264.1 861.8,267.2 863.2,270.2C864.6,273.3 865.7,276.5 866.7,279.7C867.7,282.9 868.3,286.2 868.9,289.5C869.6,292.7 870.1,295.9 870.5,299.2C870.9,302.5 871.2,305.7 871.3,309.0Z" stroke-width="0.60"/>
<path d="M874.6,309.0C874.8,312.4 874.8,315.9 874.6,319.3C874.4,322.8 874.2,326.3 873.7,329.8C873.2,333.3 872.6,336.9 871.6,340.3C870.6,343.8 869.2,347.1 867.7,350.4C866.2,353.7 864.5,357.0 862.6,360.1C860.6,363.2 858.4,366.2 855.9,368.9C853.5,371.7 850.8,374.3 847.9,376.6C845.0,379.0 841.9,381.0 838.6,382.8C835.3,384.5 831.9,386.0 828.4,387.2C824.9,388.4 821.3,389.4 817.8,390.2C814.2,391.0 810.6,391.6 806.9,392.1C803.3,392.6 799.7,393.1 796.0,393.2C792.3,393.3 788.6,393.2 785.0,392.8C781.3,392.4 777.6,391.7 774.1,390.9C770.5,390.0 766.9,388.8 763.5,387.5C760.0,386.1 756.7,384.6 753.3,382.9C750.0,381.2 746.7,379.4 743.6,377.3C740.4,375.3 737.3,373.0 734.5,370.5C731.6,368.0 728.9,365.2 726.6,362.3C724.3,359.3 722.2,356.0 720.4,352.6C718.7,349.3 717.1,345.7 716.0,342.2C714.8,338.6 714.1,334.8 713.4,331.1C712.7,327.5 712.1,323.8 711.7,320.1C711.2,316.4 710.9,312.7 710.9,309.0C710.9,305.3 711.0,301.5 711.5,297.9C712.0,294.2 712.7,290.5 713.8,287.0C714.8,283.4 716.2,279.9 717.8,276.6C719.5,273.4 721.7,270.3 723.9,267.4C726.1,264.5 728.6,261.8 731.2,259.3C733.8,256.8 736.6,254.6 739.4,252.4C742.2,250.2 745.0,248.2 747.8,246.2C750.7,244.3 753.5,242.2 756.5,240.6C759.5,239.0 762.8,237.7 766.0,236.6C769.2,235.4 772.5,234.6 775.9,233.8C779.2,233.0 782.4,232.2 785.8,231.6C789.2,230.9 792.6,230.2 796.0,229.8C799.4,229.5 803.0,229.3 806.5,229.5C809.9,229.8 813.4,230.4 816.8,231.4C820.2,232.3 823.4,233.7 826.6,235.1C829.8,236.6 832.8,238.2 835.8,240.0C838.8,241.8 841.7,243.8 844.5,245.8C847.3,247.8 850.2,249.9 852.8,252.2C855.4,254.5 857.9,257.1 860.0,259.9C862.1,262.7 863.8,265.9 865.3,269.0C866.8,272.1 868.0,275.4 869.1,278.7C870.2,282.0 871.0,285.3 871.8,288.7C872.6,292.0 873.2,295.4 873.7,298.8C874.2,302.2 874.5,305.6 874.6,309.0Z" stroke-width="0.71"/>
<path d="M877.2,309.0C877.4,312.5 877.4,316.1 877.2,319.7C877.1,323.3 876.8,326.9 876.2,330.5C875.7,334.1 875.2,337.8 874.1,341.4C873.1,344.9 871.6,348.4 870.1,351.8C868.5,355.2 866.8,358.6 864.8,361.8C862.8,365.0 860.5,368.1 858.0,371.0C855.5,373.9 852.7,376.6 849.7,379.0C846.7,381.4 843.5,383.5 840.1,385.4C836.7,387.2 833.1,388.7 829.5,390.0C825.9,391.2 822.2,392.2 818.5,393.1C814.8,393.9 811.1,394.5 807.3,395.0C803.6,395.5 799.8,395.9 796.0,396.0C792.2,396.1 788.4,395.9 784.6,395.5C780.8,395.1 777.1,394.4 773.4,393.5C769.7,392.5 766.0,391.3 762.5,390.0C758.9,388.6 755.4,387.1 751.9,385.4C748.5,383.7 745.0,381.8 741.7,379.7C738.4,377.7 735.1,375.4 732.2,372.8C729.2,370.3 726.4,367.4 723.9,364.3C721.5,361.2 719.4,357.8 717.6,354.3C715.7,350.8 714.2,347.1 713.0,343.4C711.8,339.7 711.2,335.7 710.5,331.9C709.7,328.1 709.1,324.3 708.7,320.5C708.3,316.7 708.0,312.8 708.0,309.0C708.0,305.2 708.2,301.3 708.7,297.5C709.2,293.7 710.0,289.9 711.1,286.2C712.2,282.6 713.5,278.9 715.2,275.6C717.0,272.2 719.1,268.9 721.4,265.9C723.7,262.9 726.3,260.1 729.0,257.6C731.6,255.0 734.6,252.7 737.5,250.5C740.3,248.2 743.3,246.2 746.2,244.1C749.2,242.1 752.1,240.0 755.2,238.3C758.3,236.7 761.7,235.4 765.0,234.3C768.4,233.1 771.8,232.3 775.2,231.4C778.6,230.5 782.0,229.7 785.5,229.0C788.9,228.3 792.4,227.5 796.0,227.1C799.6,226.8 803.2,226.5 806.8,226.8C810.4,227.0 814.1,227.7 817.5,228.7C821.0,229.6 824.4,231.1 827.6,232.6C830.9,234.1 834.1,235.9 837.1,237.8C840.2,239.6 843.1,241.7 846.0,243.8C848.9,246.0 851.8,248.1 854.5,250.5C857.1,253.0 859.7,255.6 861.9,258.5C864.0,261.4 865.7,264.7 867.2,267.9C868.8,271.1 870.0,274.5 871.2,277.9C872.3,281.2 873.2,284.7 874.0,288.1C874.9,291.5 875.6,295.0 876.1,298.5C876.6,301.9 877.0,305.5 877.2,309.0Z" stroke-width="0.59"/>
<path d="M880.0,309.0C880.2,312.7 880.1,316.3 879.9,320.0C879.7,323.7 879.4,327.5 878.9,331.2C878.3,334.9 877.7,338.8 876.7,342.4C875.6,346.1 874.1,349.7 872.6,353.2C871.0,356.7 869.2,360.3 867.2,363.6C865.1,366.9 862.7,370.2 860.2,373.2C857.6,376.1 854.7,379.0 851.6,381.5C848.5,384.0 845.1,386.2 841.7,388.1C838.2,390.0 834.5,391.5 830.7,392.9C827.0,394.2 823.2,395.2 819.3,396.0C815.5,396.9 811.6,397.4 807.7,397.9C803.8,398.4 799.9,398.9 796.0,399.0C792.1,399.1 788.1,398.8 784.2,398.4C780.3,398.0 776.4,397.3 772.6,396.4C768.8,395.5 765.0,394.3 761.2,392.9C757.5,391.6 753.8,390.0 750.2,388.3C746.6,386.6 743.0,384.7 739.6,382.6C736.1,380.4 732.7,378.1 729.6,375.4C726.5,372.7 723.6,369.7 721.1,366.5C718.6,363.2 716.5,359.6 714.6,356.0C712.8,352.4 711.2,348.5 710.0,344.6C708.8,340.8 708.2,336.7 707.5,332.7C706.8,328.8 706.2,324.8 705.8,320.9C705.4,316.9 705.1,313.0 705.1,309.0C705.1,305.0 705.3,301.0 705.8,297.1C706.3,293.2 707.0,289.2 708.1,285.5C709.2,281.7 710.6,277.9 712.3,274.3C714.1,270.8 716.3,267.5 718.7,264.4C721.0,261.2 723.7,258.4 726.5,255.7C729.3,253.0 732.4,250.7 735.4,248.4C738.4,246.1 741.5,244.0 744.5,241.9C747.6,239.9 750.6,237.7 753.8,236.0C757.1,234.2 760.5,232.9 764.0,231.7C767.4,230.5 770.9,229.6 774.5,228.6C778.0,227.7 781.5,226.9 785.1,226.1C788.7,225.4 792.3,224.5 796.0,224.2C799.7,223.8 803.5,223.6 807.2,223.8C810.9,224.1 814.7,224.9 818.3,225.9C821.8,227.0 825.3,228.5 828.7,230.1C832.0,231.7 835.3,233.6 838.4,235.6C841.5,237.5 844.5,239.7 847.5,241.9C850.4,244.1 853.5,246.3 856.2,248.8C858.9,251.3 861.6,254.0 863.8,257.0C866.0,260.0 867.7,263.3 869.3,266.7C871.0,270.0 872.4,273.4 873.6,276.9C874.8,280.3 875.8,283.9 876.7,287.4C877.5,290.9 878.3,294.5 878.9,298.1C879.4,301.7 879.8,305.3 880.0,309.0Z" stroke-width="0.60"/>
<path d="M882.5,309.0C882.8,312.8 882.7,316.6 882.5,320.4C882.3,324.2 881.9,328.0 881.3,331.9C880.8,335.7 880.1,339.6 879.0,343.4C877.9,347.2 876.4,350.8 874.8,354.5C873.2,358.1 871.5,361.8 869.4,365.3C867.3,368.8 865.0,372.2 862.3,375.3C859.7,378.5 856.8,381.4 853.6,384.0C850.4,386.6 846.9,388.9 843.3,390.9C839.7,392.8 835.8,394.4 831.9,395.7C828.0,397.0 824.0,398.0 820.1,398.8C816.1,399.7 812.1,400.2 808.1,400.7C804.1,401.1 800.0,401.6 796.0,401.6C792.0,401.7 787.9,401.4 783.9,400.9C779.9,400.4 775.9,399.6 772.0,398.7C768.0,397.7 764.2,396.5 760.3,395.1C756.5,393.8 752.7,392.3 748.9,390.6C745.1,388.9 741.3,387.1 737.7,385.0C734.0,382.9 730.4,380.6 727.1,377.9C723.9,375.1 720.8,372.0 718.2,368.7C715.6,365.3 713.4,361.6 711.5,357.8C709.6,354.0 708.1,349.9 706.9,345.9C705.8,341.8 705.2,337.6 704.5,333.5C703.9,329.4 703.3,325.3 702.9,321.3C702.5,317.2 702.2,313.1 702.2,309.0C702.2,304.9 702.4,300.8 702.9,296.7C703.5,292.7 704.3,288.6 705.4,284.7C706.6,280.8 708.0,276.9 709.8,273.3C711.6,269.7 713.9,266.2 716.3,263.0C718.8,259.8 721.5,256.8 724.4,254.1C727.3,251.3 730.4,248.9 733.5,246.5C736.6,244.2 739.8,242.1 743.0,240.0C746.2,237.9 749.3,235.7 752.7,233.9C756.0,232.2 759.6,230.9 763.1,229.6C766.7,228.4 770.3,227.4 773.9,226.4C777.5,225.4 781.1,224.4 784.7,223.5C788.4,222.7 792.2,221.7 796.0,221.2C799.8,220.7 803.8,220.4 807.6,220.7C811.5,221.0 815.4,221.8 819.1,223.0C822.7,224.1 826.3,225.8 829.7,227.6C833.2,229.3 836.5,231.3 839.7,233.4C842.8,235.5 845.9,237.8 848.9,240.1C851.9,242.4 855.0,244.7 857.7,247.3C860.5,249.9 863.2,252.7 865.4,255.8C867.6,258.8 869.4,262.3 871.0,265.7C872.7,269.1 874.1,272.6 875.3,276.1C876.6,279.7 877.7,283.2 878.6,286.9C879.6,290.5 880.5,294.1 881.2,297.8C881.8,301.5 882.3,305.2 882.5,309.0Z" stroke-width="0.67"/>
<path d="M885.2,309.0C885.4,312.9 885.3,316.8 885.1,320.7C884.8,324.6 884.4,328.6 883.8,332.5C883.2,336.5 882.6,340.5 881.5,344.4C880.4,348.3 878.9,352.1 877.3,355.9C875.7,359.7 874.0,363.6 871.9,367.2C869.8,370.8 867.4,374.4 864.7,377.7C861.9,380.9 858.9,384.0 855.6,386.7C852.3,389.3 848.6,391.7 844.9,393.7C841.1,395.6 837.1,397.2 833.1,398.5C829.1,399.9 824.9,400.8 820.8,401.7C816.7,402.5 812.6,403.0 808.4,403.5C804.3,404.0 800.2,404.4 796.0,404.5C791.8,404.5 787.7,404.3 783.5,403.8C779.4,403.3 775.3,402.6 771.2,401.7C767.1,400.8 763.0,399.6 759.0,398.3C755.0,397.0 751.0,395.5 747.1,393.8C743.1,392.1 739.1,390.2 735.3,388.0C731.6,385.8 727.8,383.4 724.4,380.6C721.1,377.7 718.0,374.4 715.3,370.9C712.7,367.4 710.5,363.4 708.6,359.4C706.8,355.5 705.2,351.3 704.1,347.1C702.9,342.9 702.3,338.5 701.6,334.3C701.0,330.0 700.3,325.9 699.9,321.7C699.5,317.4 699.1,313.2 699.1,309.0C699.1,304.8 699.3,300.5 699.8,296.3C700.4,292.2 701.2,287.9 702.3,283.9C703.5,279.9 705.0,275.8 706.8,272.1C708.7,268.3 711.1,264.7 713.6,261.4C716.1,258.1 719.0,255.0 722.0,252.2C725.0,249.4 728.3,246.9 731.5,244.5C734.8,242.1 738.1,240.0 741.4,237.8C744.7,235.7 747.8,233.4 751.3,231.6C754.7,229.7 758.4,228.3 762.0,227.0C765.7,225.6 769.4,224.6 773.1,223.5C776.8,222.4 780.5,221.3 784.3,220.4C788.2,219.5 792.1,218.5 796.0,218.0C799.9,217.6 804.1,217.3 808.0,217.7C812.0,218.1 816.0,219.1 819.8,220.3C823.5,221.6 827.2,223.4 830.7,225.3C834.2,227.1 837.5,229.3 840.8,231.4C844.0,233.6 847.1,235.9 850.2,238.3C853.3,240.7 856.5,243.0 859.3,245.7C862.2,248.4 865.0,251.2 867.3,254.3C869.6,257.4 871.4,261.0 873.2,264.4C874.9,267.9 876.4,271.5 877.8,275.1C879.1,278.7 880.3,282.4 881.3,286.1C882.3,289.9 883.3,293.6 883.9,297.4C884.6,301.2 885.0,305.1 885.2,309.0Z" stroke-width="0.59"/>
<path d="M887.3,309.0C887.5,313.0 887.3,317.0 887.1,321.0C886.9,325.0 886.5,329.0 885.9,333.1C885.4,337.1 884.8,341.3 883.7,345.3C882.7,349.4 881.2,353.3 879.5,357.2C877.9,361.1 876.1,365.1 874.0,368.8C871.8,372.5 869.3,376.2 866.5,379.5C863.7,382.8 860.5,386.0 857.1,388.7C853.8,391.4 850.0,393.8 846.2,395.9C842.3,397.9 838.2,399.5 834.1,400.9C830.0,402.3 825.7,403.4 821.5,404.2C817.3,405.1 813.1,405.7 808.8,406.2C804.5,406.7 800.3,407.2 796.0,407.4C791.7,407.5 787.4,407.3 783.1,406.8C778.8,406.4 774.5,405.8 770.3,404.9C766.1,404.0 761.9,402.8 757.7,401.5C753.5,400.1 749.4,398.5 745.4,396.7C741.3,394.9 737.3,392.9 733.4,390.5C729.6,388.2 725.8,385.5 722.5,382.5C719.1,379.5 716.0,376.1 713.3,372.5C710.6,368.8 708.4,364.8 706.4,360.7C704.5,356.6 702.9,352.4 701.6,348.1C700.4,343.8 699.8,339.3 699.0,335.0C698.3,330.6 697.6,326.3 697.1,322.0C696.7,317.7 696.3,313.3 696.3,309.0C696.3,304.7 696.4,300.3 697.0,296.0C697.5,291.7 698.3,287.3 699.5,283.1C700.7,279.0 702.2,274.8 704.1,270.9C706.0,267.1 708.5,263.4 711.1,260.0C713.7,256.6 716.7,253.4 719.8,250.6C722.9,247.7 726.4,245.2 729.7,242.7C733.0,240.2 736.4,238.0 739.8,235.8C743.2,233.5 746.4,231.1 749.9,229.2C753.4,227.3 757.2,225.7 760.9,224.4C764.7,223.0 768.5,221.9 772.4,220.8C776.2,219.7 780.1,218.7 784.0,217.9C787.9,217.0 792.0,216.1 796.0,215.7C800.0,215.4 804.2,215.2 808.3,215.7C812.3,216.2 816.4,217.2 820.3,218.5C824.1,219.8 827.8,221.6 831.4,223.5C835.0,225.4 838.4,227.5 841.8,229.7C845.2,231.9 848.3,234.2 851.5,236.6C854.7,239.0 858.0,241.4 860.9,244.1C863.9,246.8 866.8,249.6 869.3,252.8C871.7,256.0 873.6,259.6 875.5,263.1C877.3,266.7 878.9,270.4 880.2,274.1C881.6,277.8 882.7,281.7 883.7,285.5C884.7,289.3 885.6,293.2 886.2,297.1C886.8,301.0 887.2,305.0 887.3,309.0Z" stroke-width="0.64"/>
<path d="M889.2,309.0C889.3,313.1 889.2,317.1 889.0,321.2C888.7,325.3 888.4,329.5 887.8,333.6C887.3,337.8 886.8,342.0 885.7,346.2C884.7,350.3 883.2,354.4 881.5,358.4C879.9,362.4 878.1,366.5 875.9,370.3C873.7,374.1 871.1,377.8 868.2,381.2C865.3,384.6 862.1,387.8 858.6,390.6C855.1,393.4 851.3,395.8 847.3,397.9C843.4,400.0 839.2,401.7 835.0,403.1C830.8,404.5 826.4,405.6 822.1,406.5C817.8,407.4 813.5,408.0 809.1,408.6C804.8,409.2 800.4,409.7 796.0,409.9C791.6,410.0 787.2,409.9 782.8,409.5C778.4,409.1 774.0,408.4 769.6,407.5C765.2,406.6 760.9,405.5 756.6,404.1C752.3,402.7 748.1,401.0 744.0,399.1C739.8,397.2 735.7,395.2 731.8,392.7C727.9,390.3 724.0,387.5 720.6,384.4C717.2,381.3 714.0,377.7 711.3,374.0C708.6,370.3 706.3,366.1 704.3,361.9C702.3,357.8 700.6,353.4 699.3,349.0C698.1,344.7 697.4,340.1 696.6,335.6C695.8,331.2 695.1,326.8 694.6,322.3C694.1,317.9 693.7,313.5 693.7,309.0C693.7,304.5 693.9,300.1 694.4,295.6C695.0,291.2 695.8,286.8 697.0,282.5C698.2,278.2 699.8,273.9 701.8,270.0C703.8,266.0 706.3,262.2 709.0,258.8C711.7,255.3 714.8,252.1 718.0,249.1C721.2,246.2 724.7,243.6 728.1,241.1C731.5,238.6 735.0,236.3 738.4,233.9C741.8,231.6 745.1,229.1 748.7,227.1C752.3,225.2 756.2,223.6 760.0,222.1C763.9,220.7 767.8,219.6 771.8,218.5C775.7,217.4 779.7,216.4 783.7,215.6C787.7,214.8 791.9,213.9 796.0,213.6C800.1,213.3 804.4,213.2 808.5,213.7C812.7,214.2 816.8,215.3 820.8,216.6C824.7,218.0 828.5,219.9 832.1,221.8C835.8,223.7 839.3,225.9 842.7,228.1C846.2,230.3 849.4,232.7 852.7,235.1C856.0,237.5 859.3,239.9 862.4,242.6C865.4,245.4 868.4,248.3 870.9,251.5C873.4,254.8 875.4,258.4 877.3,262.1C879.1,265.7 880.8,269.5 882.2,273.3C883.6,277.1 884.7,281.0 885.7,285.0C886.7,288.9 887.6,292.9 888.1,296.9C888.7,300.9 889.1,304.9 889.2,309.0Z" stroke-width="0.62"/>
<path d="M892.0,309.0C892.1,313.2 892.0,317.4 891.8,321.6C891.5,325.8 891.2,330.1 890.7,334.4C890.2,338.7 889.7,343.1 888.7,347.4C887.6,351.7 886.1,355.9 884.5,360.1C882.8,364.2 880.9,368.5 878.7,372.4C876.4,376.4 873.7,380.2 870.8,383.8C867.8,387.3 864.4,390.6 860.8,393.5C857.2,396.3 853.2,398.9 849.1,401.1C845.1,403.2 840.7,404.9 836.4,406.5C832.0,408.0 827.5,409.1 823.1,410.1C818.6,411.1 814.1,411.7 809.6,412.3C805.1,412.9 800.6,413.6 796.0,413.7C791.4,413.9 786.8,413.8 782.3,413.4C777.7,413.0 773.1,412.3 768.6,411.4C764.0,410.5 759.5,409.3 755.1,407.8C750.6,406.3 746.2,404.6 742.0,402.6C737.7,400.6 733.4,398.4 729.4,395.9C725.3,393.3 721.4,390.4 717.8,387.2C714.3,383.9 711.0,380.2 708.2,376.4C705.4,372.5 703.0,368.2 701.0,363.9C698.9,359.6 697.1,355.1 695.8,350.5C694.4,346.0 693.7,341.2 692.9,336.6C692.1,332.0 691.3,327.5 690.8,322.8C690.3,318.2 689.9,313.6 689.9,309.0C689.9,304.4 690.1,299.7 690.7,295.1C691.3,290.6 692.1,285.9 693.4,281.5C694.6,277.1 696.2,272.6 698.3,268.5C700.4,264.4 703.0,260.5 705.8,256.9C708.6,253.3 711.8,250.0 715.1,246.9C718.4,243.9 722.1,241.2 725.6,238.6C729.1,236.0 732.7,233.6 736.3,231.2C739.9,228.8 743.3,226.1 747.0,224.1C750.7,222.1 754.7,220.4 758.7,218.9C762.7,217.5 766.8,216.3 770.9,215.2C775.0,214.2 779.1,213.2 783.3,212.4C787.5,211.6 791.7,210.7 796.0,210.4C800.3,210.1 804.7,210.1 808.9,210.7C813.2,211.2 817.5,212.3 821.5,213.8C825.6,215.2 829.4,217.2 833.2,219.1C837.0,221.1 840.6,223.3 844.2,225.6C847.7,227.9 851.1,230.3 854.5,232.8C857.8,235.3 861.3,237.7 864.5,240.5C867.6,243.4 870.7,246.4 873.3,249.7C875.9,253.0 877.9,256.8 879.8,260.6C881.8,264.3 883.4,268.3 884.8,272.2C886.3,276.1 887.4,280.2 888.4,284.2C889.4,288.3 890.3,292.4 890.9,296.5C891.5,300.6 891.8,304.8 892.0,309.0Z" stroke-width="0.62"/>
</g>
<g fill="none" stroke="#b4be66" mask="url(#mk)">
<path d="M799.9,309.0C799.9,309.2 799.9,309.3 799.9,309.5C799.9,309.7 799.9,309.9 799.9,310.0C799.8,310.2 799.8,310.4 799.7,310.5C799.6,310.7 799.6,310.9 799.5,311.0C799.4,311.2 799.3,311.3 799.2,311.4C799.1,311.6 799.0,311.7 798.8,311.8C798.7,311.9 798.6,312.1 798.4,312.2C798.3,312.3 798.1,312.4 798.0,312.4C797.8,312.5 797.7,312.6 797.5,312.6C797.3,312.7 797.2,312.8 797.0,312.8C796.8,312.8 796.7,312.9 796.5,312.9C796.3,312.9 796.2,312.9 796.0,313.0C795.8,313.0 795.7,313.0 795.5,312.9C795.3,312.9 795.1,312.9 795.0,312.8C794.8,312.8 794.6,312.7 794.5,312.7C794.3,312.6 794.2,312.5 794.0,312.4C793.9,312.3 793.7,312.3 793.6,312.2C793.4,312.1 793.3,312.0 793.1,311.9C793.0,311.8 792.9,311.6 792.7,311.5C792.6,311.4 792.5,311.2 792.4,311.1C792.3,310.9 792.3,310.7 792.2,310.6C792.2,310.4 792.1,310.2 792.1,310.0C792.1,309.9 792.0,309.7 792.0,309.5C792.0,309.3 792.0,309.2 792.0,309.0C792.0,308.8 792.0,308.7 792.1,308.5C792.1,308.3 792.1,308.1 792.2,308.0C792.3,307.8 792.3,307.7 792.4,307.5C792.5,307.4 792.6,307.2 792.6,307.1C792.7,306.9 792.8,306.8 792.9,306.6C793.0,306.5 793.1,306.4 793.3,306.3C793.4,306.1 793.5,306.0 793.6,305.9C793.8,305.8 793.9,305.7 794.0,305.6C794.2,305.5 794.4,305.5 794.5,305.4C794.7,305.4 794.8,305.3 795.0,305.3C795.2,305.2 795.3,305.2 795.5,305.2C795.7,305.2 795.8,305.1 796.0,305.1C796.2,305.1 796.3,305.1 796.5,305.1C796.7,305.1 796.9,305.1 797.0,305.2C797.2,305.2 797.3,305.3 797.5,305.4C797.7,305.4 797.8,305.5 798.0,305.6C798.1,305.7 798.2,305.8 798.4,305.9C798.5,306.0 798.6,306.1 798.8,306.2C798.9,306.4 799.0,306.5 799.1,306.6C799.2,306.8 799.3,306.9 799.3,307.1C799.4,307.2 799.5,307.4 799.5,307.5C799.6,307.7 799.6,307.9 799.7,308.0C799.7,308.2 799.8,308.3 799.8,308.5C799.8,308.7 799.9,308.8 799.9,309.0Z" stroke-width="1.27"/>
<path d="M802.7,309.0C802.8,309.3 802.8,309.6 802.7,309.9C802.7,310.2 802.7,310.5 802.6,310.8C802.5,311.1 802.5,311.4 802.3,311.6C802.2,311.9 802.1,312.2 801.9,312.4C801.8,312.7 801.6,312.9 801.4,313.2C801.3,313.4 801.1,313.6 800.9,313.9C800.7,314.1 800.4,314.3 800.2,314.5C800.0,314.6 799.7,314.8 799.4,315.0C799.2,315.1 798.9,315.2 798.6,315.3C798.3,315.4 798.1,315.5 797.8,315.6C797.5,315.7 797.2,315.7 796.9,315.7C796.6,315.8 796.3,315.8 796.0,315.8C795.7,315.8 795.4,315.8 795.1,315.8C794.8,315.8 794.5,315.7 794.2,315.6C793.9,315.5 793.7,315.4 793.4,315.3C793.1,315.2 792.8,315.1 792.6,315.0C792.3,314.8 792.0,314.7 791.8,314.5C791.5,314.3 791.3,314.2 791.0,314.0C790.8,313.8 790.6,313.5 790.4,313.3C790.2,313.1 790.0,312.8 789.9,312.5C789.7,312.3 789.6,312.0 789.5,311.7C789.4,311.4 789.4,311.1 789.3,310.8C789.3,310.5 789.2,310.2 789.2,309.9C789.2,309.6 789.2,309.3 789.2,309.0C789.2,308.7 789.2,308.4 789.2,308.1C789.3,307.8 789.3,307.5 789.4,307.2C789.5,306.9 789.6,306.7 789.7,306.4C789.8,306.1 790.0,305.9 790.1,305.6C790.3,305.4 790.5,305.1 790.6,304.9C790.8,304.7 791.0,304.4 791.2,304.2C791.5,304.0 791.7,303.9 791.9,303.7C792.1,303.5 792.4,303.3 792.6,303.2C792.9,303.1 793.2,302.9 793.4,302.8C793.7,302.7 794.0,302.7 794.3,302.6C794.6,302.5 794.8,302.5 795.1,302.4C795.4,302.4 795.7,302.3 796.0,302.3C796.3,302.3 796.6,302.3 796.9,302.3C797.2,302.3 797.5,302.4 797.8,302.5C798.0,302.5 798.3,302.6 798.6,302.8C798.8,302.9 799.1,303.0 799.4,303.2C799.6,303.3 799.8,303.5 800.1,303.7C800.3,303.9 800.5,304.1 800.7,304.3C800.9,304.5 801.1,304.7 801.3,304.9C801.5,305.2 801.6,305.4 801.8,305.7C801.9,305.9 802.0,306.2 802.1,306.5C802.2,306.7 802.3,307.0 802.4,307.3C802.5,307.6 802.6,307.8 802.6,308.1C802.7,308.4 802.7,308.7 802.7,309.0Z" stroke-width="1.08"/>
<path d="M806.2,309.0C806.2,309.4 806.2,309.9 806.2,310.3C806.1,310.8 806.0,311.2 805.9,311.7C805.8,312.1 805.7,312.5 805.5,312.9C805.4,313.4 805.1,313.8 804.9,314.2C804.7,314.5 804.5,314.9 804.2,315.3C803.9,315.7 803.7,316.0 803.3,316.3C803.0,316.7 802.7,317.0 802.3,317.3C802.0,317.5 801.6,317.8 801.2,318.0C800.8,318.2 800.4,318.4 800.0,318.6C799.5,318.7 799.1,318.8 798.7,319.0C798.2,319.1 797.8,319.1 797.3,319.2C796.9,319.3 796.4,319.3 796.0,319.3C795.6,319.3 795.1,319.3 794.6,319.3C794.2,319.2 793.8,319.1 793.3,319.0C792.9,318.9 792.4,318.8 792.0,318.6C791.6,318.4 791.2,318.2 790.8,318.0C790.4,317.8 790.0,317.6 789.6,317.4C789.2,317.1 788.8,316.8 788.5,316.5C788.1,316.2 787.8,315.9 787.5,315.5C787.2,315.1 787.0,314.7 786.8,314.3C786.6,313.9 786.4,313.5 786.3,313.0C786.1,312.6 786.0,312.1 786.0,311.7C785.9,311.2 785.8,310.8 785.8,310.3C785.7,309.9 785.7,309.4 785.7,309.0C785.7,308.6 785.7,308.1 785.8,307.7C785.8,307.2 785.9,306.8 786.0,306.3C786.1,305.9 786.3,305.5 786.5,305.0C786.6,304.6 786.9,304.2 787.1,303.9C787.3,303.5 787.6,303.1 787.9,302.8C788.2,302.4 788.5,302.1 788.8,301.8C789.1,301.5 789.5,301.2 789.8,301.0C790.2,300.7 790.6,300.5 791.0,300.3C791.3,300.1 791.8,299.9 792.2,299.7C792.6,299.6 793.0,299.5 793.4,299.4C793.8,299.2 794.3,299.1 794.7,299.1C795.1,299.0 795.6,298.9 796.0,298.9C796.4,298.9 796.9,298.8 797.3,298.9C797.8,298.9 798.2,299.0 798.6,299.1C799.1,299.3 799.5,299.4 799.9,299.6C800.3,299.8 800.7,300.0 801.0,300.3C801.4,300.5 801.8,300.7 802.1,301.0C802.5,301.3 802.8,301.6 803.1,301.9C803.5,302.2 803.8,302.5 804.0,302.8C804.3,303.2 804.5,303.6 804.7,304.0C805.0,304.3 805.1,304.7 805.3,305.1C805.5,305.6 805.6,306.0 805.7,306.4C805.9,306.8 806.0,307.2 806.0,307.7C806.1,308.1 806.2,308.6 806.2,309.0Z" stroke-width="1.13"/>
<path d="M809.0,309.0C809.0,309.6 809.0,310.1 808.9,310.7C808.9,311.3 808.7,311.8 808.6,312.4C808.4,312.9 808.2,313.5 808.0,314.0C807.8,314.5 807.5,315.0 807.2,315.5C806.9,316.0 806.6,316.5 806.3,316.9C806.0,317.4 805.6,317.8 805.3,318.3C804.9,318.7 804.5,319.1 804.0,319.4C803.6,319.8 803.1,320.1 802.6,320.4C802.1,320.6 801.5,320.9 801.0,321.1C800.5,321.2 799.9,321.4 799.4,321.5C798.8,321.7 798.3,321.8 797.7,321.8C797.1,321.9 796.6,322.0 796.0,322.0C795.4,322.0 794.9,322.0 794.3,321.9C793.7,321.9 793.2,321.8 792.6,321.6C792.1,321.5 791.5,321.3 791.0,321.2C790.4,321.0 789.9,320.7 789.4,320.5C788.8,320.3 788.3,320.0 787.8,319.7C787.3,319.4 786.8,319.0 786.4,318.6C785.9,318.2 785.5,317.8 785.2,317.3C784.8,316.8 784.6,316.3 784.3,315.7C784.1,315.2 783.9,314.6 783.8,314.1C783.6,313.5 783.5,312.9 783.4,312.4C783.3,311.8 783.2,311.2 783.2,310.7C783.1,310.1 783.1,309.6 783.1,309.0C783.0,308.4 783.1,307.9 783.1,307.3C783.2,306.7 783.3,306.2 783.4,305.6C783.5,305.1 783.7,304.5 783.9,304.0C784.2,303.5 784.4,303.0 784.7,302.5C785.0,302.0 785.4,301.5 785.7,301.1C786.1,300.7 786.5,300.3 786.9,299.9C787.3,299.5 787.7,299.2 788.2,298.8C788.7,298.5 789.1,298.2 789.6,298.0C790.1,297.7 790.6,297.5 791.2,297.3C791.7,297.1 792.2,297.0 792.7,296.8C793.3,296.7 793.8,296.5 794.3,296.4C794.9,296.3 795.4,296.2 796.0,296.1C796.6,296.1 797.1,296.1 797.7,296.2C798.2,296.2 798.8,296.4 799.3,296.5C799.9,296.7 800.4,297.0 800.9,297.2C801.4,297.5 801.8,297.8 802.3,298.1C802.8,298.4 803.2,298.7 803.7,299.0C804.1,299.4 804.5,299.7 804.9,300.1C805.3,300.4 805.7,300.8 806.1,301.3C806.4,301.7 806.7,302.2 807.0,302.6C807.3,303.1 807.5,303.6 807.8,304.1C808.0,304.6 808.2,305.2 808.4,305.7C808.5,306.2 808.7,306.8 808.8,307.3C808.9,307.9 809.0,308.4 809.0,309.0Z" stroke-width="1.38"/>
<path d="M811.8,309.0C811.8,309.7 811.7,310.4 811.6,311.1C811.5,311.7 811.3,312.4 811.2,313.1C811.0,313.7 810.7,314.4 810.5,315.0C810.2,315.6 809.9,316.2 809.6,316.8C809.3,317.4 808.9,318.0 808.5,318.6C808.2,319.2 807.7,319.8 807.3,320.3C806.8,320.8 806.3,321.3 805.7,321.7C805.2,322.1 804.6,322.5 804.0,322.8C803.4,323.1 802.7,323.4 802.1,323.6C801.4,323.9 800.7,324.0 800.1,324.2C799.4,324.4 798.7,324.5 798.1,324.6C797.4,324.7 796.7,324.8 796.0,324.8C795.3,324.8 794.6,324.8 793.9,324.8C793.2,324.7 792.5,324.6 791.9,324.4C791.2,324.3 790.5,324.1 789.9,323.8C789.2,323.6 788.5,323.4 787.9,323.1C787.2,322.7 786.6,322.4 786.0,322.0C785.4,321.6 784.8,321.2 784.3,320.7C783.8,320.2 783.3,319.6 782.9,319.0C782.5,318.4 782.2,317.8 781.9,317.1C781.7,316.5 781.4,315.8 781.3,315.1C781.1,314.4 780.9,313.7 780.8,313.1C780.7,312.4 780.6,311.7 780.5,311.0C780.4,310.4 780.3,309.7 780.2,309.0C780.2,308.3 780.2,307.6 780.3,306.9C780.3,306.2 780.4,305.5 780.6,304.9C780.8,304.2 781.0,303.5 781.3,302.9C781.6,302.3 781.9,301.7 782.3,301.1C782.6,300.5 783.0,299.9 783.5,299.4C783.9,298.9 784.4,298.4 784.9,297.9C785.5,297.5 786.0,297.1 786.6,296.7C787.1,296.3 787.7,295.9 788.3,295.6C788.9,295.3 789.5,295.1 790.1,294.8C790.8,294.6 791.4,294.4 792.0,294.2C792.7,294.0 793.3,293.8 794.0,293.7C794.6,293.6 795.3,293.4 796.0,293.4C796.7,293.4 797.4,293.4 798.0,293.5C798.7,293.6 799.4,293.7 800.0,294.0C800.7,294.2 801.3,294.5 801.9,294.8C802.5,295.1 803.1,295.5 803.6,295.8C804.2,296.2 804.7,296.5 805.3,296.9C805.8,297.3 806.4,297.7 806.9,298.1C807.4,298.6 807.9,299.0 808.3,299.6C808.7,300.1 809.1,300.6 809.5,301.2C809.8,301.8 810.1,302.4 810.4,303.0C810.7,303.7 810.9,304.3 811.1,305.0C811.3,305.6 811.5,306.3 811.6,306.9C811.7,307.6 811.8,308.3 811.8,309.0Z" stroke-width="1.04"/>
<path d="M814.6,309.0C814.6,309.8 814.5,310.6 814.4,311.4C814.2,312.2 814.0,313.0 813.8,313.8C813.6,314.6 813.4,315.3 813.1,316.1C812.8,316.8 812.4,317.6 812.1,318.3C811.7,319.0 811.3,319.7 810.9,320.4C810.4,321.1 809.9,321.8 809.4,322.4C808.8,323.0 808.2,323.6 807.6,324.1C806.9,324.6 806.2,325.0 805.4,325.3C804.7,325.7 803.9,326.0 803.2,326.3C802.4,326.6 801.6,326.8 800.8,327.0C800.0,327.2 799.2,327.3 798.4,327.5C797.6,327.6 796.8,327.8 796.0,327.8C795.2,327.8 794.4,327.8 793.5,327.8C792.7,327.7 791.9,327.6 791.1,327.4C790.3,327.2 789.5,327.0 788.7,326.7C787.9,326.4 787.1,326.1 786.3,325.7C785.6,325.3 784.8,324.9 784.1,324.5C783.4,324.0 782.8,323.4 782.2,322.8C781.6,322.2 781.1,321.5 780.6,320.8C780.2,320.1 779.8,319.3 779.5,318.5C779.1,317.8 778.9,317.0 778.6,316.2C778.4,315.4 778.2,314.6 778.0,313.8C777.9,313.0 777.7,312.2 777.5,311.4C777.4,310.6 777.3,309.8 777.2,309.0C777.2,308.2 777.2,307.3 777.2,306.5C777.3,305.7 777.5,304.9 777.7,304.1C777.9,303.3 778.2,302.5 778.5,301.8C778.8,301.0 779.3,300.3 779.7,299.6C780.1,298.9 780.6,298.2 781.2,297.6C781.7,297.0 782.3,296.4 782.9,295.9C783.5,295.4 784.2,294.9 784.8,294.4C785.5,294.0 786.2,293.5 786.9,293.2C787.6,292.8 788.3,292.5 789.0,292.2C789.8,291.9 790.5,291.7 791.3,291.4C792.1,291.2 792.8,291.0 793.6,290.9C794.4,290.7 795.2,290.6 796.0,290.6C796.8,290.5 797.6,290.6 798.4,290.7C799.2,290.8 800.0,291.1 800.7,291.3C801.5,291.6 802.2,292.0 802.9,292.3C803.6,292.7 804.3,293.0 805.0,293.4C805.7,293.8 806.3,294.2 807.0,294.7C807.7,295.1 808.3,295.5 809.0,296.0C809.6,296.6 810.2,297.1 810.7,297.7C811.2,298.3 811.7,299.0 812.1,299.7C812.5,300.4 812.8,301.1 813.2,301.9C813.5,302.6 813.7,303.4 813.9,304.2C814.2,305.0 814.3,305.8 814.5,306.6C814.6,307.4 814.6,308.2 814.6,309.0Z" stroke-width="1.39"/>
<path d="M816.7,309.0C816.6,309.9 816.6,310.8 816.4,311.7C816.3,312.6 816.1,313.5 815.9,314.3C815.7,315.2 815.5,316.1 815.2,316.9C814.9,317.8 814.5,318.6 814.1,319.5C813.7,320.3 813.3,321.1 812.7,321.8C812.2,322.6 811.7,323.3 811.0,324.0C810.4,324.7 809.7,325.3 808.9,325.9C808.2,326.4 807.4,326.9 806.6,327.3C805.8,327.7 804.9,328.1 804.0,328.4C803.2,328.7 802.3,329.0 801.4,329.2C800.5,329.5 799.6,329.7 798.7,329.8C797.8,330.0 796.9,330.1 796.0,330.1C795.1,330.2 794.1,330.2 793.2,330.1C792.3,330.0 791.4,329.8 790.5,329.6C789.6,329.4 788.7,329.1 787.8,328.8C786.9,328.5 786.1,328.1 785.2,327.7C784.4,327.2 783.6,326.7 782.8,326.2C782.1,325.6 781.3,325.0 780.7,324.3C780.0,323.7 779.4,322.9 778.9,322.1C778.4,321.4 777.9,320.5 777.5,319.7C777.1,318.8 776.8,318.0 776.5,317.1C776.2,316.2 775.9,315.3 775.7,314.4C775.5,313.5 775.3,312.7 775.1,311.7C775.0,310.8 774.8,309.9 774.8,309.0C774.8,308.1 774.8,307.1 774.9,306.2C775.0,305.3 775.2,304.4 775.4,303.5C775.7,302.6 776.0,301.7 776.4,300.9C776.8,300.0 777.3,299.2 777.8,298.5C778.3,297.7 778.8,297.0 779.4,296.3C780.0,295.6 780.7,295.0 781.4,294.4C782.1,293.8 782.8,293.3 783.5,292.7C784.3,292.2 785.0,291.7 785.8,291.3C786.6,290.9 787.4,290.5 788.2,290.2C789.0,289.9 789.9,289.6 790.7,289.4C791.6,289.1 792.5,288.9 793.3,288.8C794.2,288.6 795.1,288.5 796.0,288.5C796.9,288.5 797.8,288.5 798.7,288.6C799.6,288.8 800.4,289.0 801.3,289.3C802.1,289.5 803.0,289.9 803.8,290.2C804.6,290.6 805.4,291.0 806.2,291.4C806.9,291.8 807.7,292.3 808.4,292.8C809.2,293.3 809.9,293.8 810.6,294.4C811.3,295.0 812.0,295.6 812.5,296.3C813.1,297.0 813.6,297.8 814.0,298.6C814.5,299.4 814.8,300.2 815.2,301.1C815.5,301.9 815.8,302.8 816.0,303.6C816.2,304.5 816.4,305.4 816.5,306.3C816.6,307.2 816.7,308.1 816.7,309.0Z" stroke-width="1.23"/>
<path d="M819.3,309.0C819.3,310.0 819.2,311.0 819.1,312.0C818.9,313.0 818.7,314.0 818.5,315.0C818.3,316.0 818.0,317.0 817.7,318.0C817.4,319.0 817.0,319.9 816.5,320.8C816.1,321.8 815.6,322.7 815.0,323.6C814.4,324.4 813.8,325.3 813.0,326.0C812.3,326.8 811.5,327.5 810.6,328.1C809.8,328.7 808.9,329.2 807.9,329.7C807.0,330.2 806.1,330.6 805.1,330.9C804.1,331.3 803.1,331.7 802.1,331.9C801.2,332.2 800.1,332.5 799.1,332.7C798.1,332.9 797.0,333.1 796.0,333.1C795.0,333.2 793.9,333.2 792.8,333.1C791.8,333.0 790.7,332.8 789.7,332.5C788.7,332.3 787.7,331.9 786.7,331.5C785.7,331.1 784.7,330.7 783.8,330.1C782.9,329.6 781.9,329.1 781.1,328.4C780.2,327.8 779.4,327.1 778.7,326.3C778.0,325.5 777.3,324.7 776.7,323.8C776.1,322.9 775.6,322.0 775.2,321.0C774.7,320.1 774.3,319.1 773.9,318.1C773.6,317.2 773.3,316.2 773.0,315.2C772.7,314.2 772.4,313.2 772.2,312.1C772.0,311.1 771.9,310.0 771.8,309.0C771.8,308.0 771.9,306.9 772.0,305.8C772.1,304.8 772.4,303.8 772.7,302.7C773.0,301.7 773.3,300.7 773.8,299.8C774.2,298.8 774.8,297.9 775.3,297.1C775.9,296.2 776.5,295.4 777.2,294.6C777.9,293.8 778.7,293.1 779.4,292.4C780.2,291.8 781.0,291.1 781.8,290.6C782.7,290.0 783.5,289.4 784.4,288.9C785.3,288.4 786.2,288.0 787.2,287.7C788.1,287.3 789.1,287.0 790.0,286.8C791.0,286.5 792.0,286.3 793.0,286.2C794.0,286.0 795.0,285.9 796.0,285.9C797.0,285.9 798.0,285.9 799.0,286.1C800.0,286.2 801.0,286.5 802.0,286.8C802.9,287.1 803.8,287.5 804.8,287.8C805.7,288.2 806.6,288.6 807.5,289.1C808.4,289.5 809.3,290.0 810.2,290.5C811.0,291.1 811.9,291.6 812.7,292.3C813.5,293.0 814.2,293.7 814.9,294.5C815.5,295.3 816.0,296.2 816.5,297.1C817.0,298.1 817.4,299.0 817.8,300.0C818.1,301.0 818.4,301.9 818.6,302.9C818.9,303.9 819.1,304.9 819.2,305.9C819.3,307.0 819.3,308.0 819.3,309.0Z" stroke-width="0.99"/>
<path d="M822.2,309.0C822.2,310.1 822.1,311.3 822.0,312.4C821.8,313.6 821.6,314.7 821.4,315.8C821.2,316.9 820.9,318.1 820.5,319.2C820.2,320.3 819.7,321.3 819.2,322.4C818.7,323.4 818.1,324.5 817.4,325.4C816.7,326.4 816.0,327.3 815.2,328.2C814.3,329.0 813.4,329.8 812.5,330.5C811.5,331.2 810.5,331.8 809.5,332.4C808.5,332.9 807.4,333.4 806.3,333.8C805.2,334.3 804.1,334.7 803.0,335.0C801.8,335.3 800.7,335.6 799.5,335.8C798.4,336.0 797.2,336.2 796.0,336.2C794.8,336.2 793.6,336.2 792.4,336.0C791.3,335.9 790.1,335.7 788.9,335.4C787.8,335.0 786.7,334.7 785.6,334.2C784.5,333.8 783.4,333.2 782.3,332.7C781.3,332.1 780.3,331.5 779.3,330.8C778.3,330.1 777.4,329.3 776.6,328.4C775.7,327.6 775.0,326.7 774.3,325.7C773.6,324.7 772.9,323.7 772.4,322.6C771.8,321.6 771.3,320.5 770.9,319.4C770.5,318.3 770.1,317.2 769.8,316.0C769.5,314.9 769.3,313.7 769.1,312.5C768.9,311.4 768.8,310.2 768.8,309.0C768.8,307.8 768.8,306.6 769.0,305.4C769.2,304.3 769.4,303.1 769.8,302.0C770.1,300.8 770.5,299.7 771.0,298.6C771.5,297.6 772.1,296.5 772.7,295.6C773.4,294.6 774.1,293.7 774.9,292.8C775.6,291.9 776.5,291.1 777.4,290.4C778.2,289.6 779.2,288.9 780.1,288.3C781.0,287.6 782.0,287.0 783.0,286.4C784.0,285.9 785.0,285.5 786.1,285.1C787.1,284.7 788.2,284.4 789.3,284.1C790.4,283.8 791.5,283.6 792.6,283.4C793.7,283.2 794.9,283.1 796.0,283.1C797.1,283.0 798.3,283.1 799.4,283.2C800.5,283.3 801.6,283.6 802.7,283.9C803.8,284.2 804.9,284.5 806.0,285.0C807.0,285.4 808.1,285.8 809.1,286.4C810.1,286.9 811.1,287.5 812.0,288.1C813.0,288.7 814.0,289.4 814.8,290.2C815.7,291.0 816.5,291.8 817.2,292.7C817.9,293.7 818.5,294.7 819.0,295.7C819.5,296.8 820.0,297.8 820.3,298.9C820.7,300.0 821.0,301.1 821.3,302.2C821.6,303.3 821.8,304.5 822.0,305.6C822.1,306.7 822.2,307.9 822.2,309.0Z" stroke-width="1.29"/>
<path d="M825.3,309.0C825.3,310.3 825.3,311.6 825.1,312.8C825.0,314.1 824.8,315.4 824.5,316.6C824.3,317.9 824.0,319.2 823.6,320.4C823.2,321.7 822.6,322.9 822.0,324.0C821.4,325.2 820.8,326.4 820.0,327.4C819.3,328.5 818.4,329.6 817.5,330.5C816.6,331.4 815.6,332.3 814.5,333.1C813.5,333.9 812.3,334.6 811.2,335.3C810.0,335.9 808.8,336.5 807.6,337.0C806.4,337.5 805.1,337.9 803.8,338.3C802.6,338.6 801.3,338.9 800.0,339.1C798.7,339.3 797.3,339.5 796.0,339.5C794.7,339.5 793.3,339.4 792.0,339.3C790.7,339.1 789.4,338.8 788.1,338.5C786.8,338.1 785.6,337.7 784.3,337.2C783.1,336.7 781.9,336.1 780.7,335.5C779.5,334.9 778.4,334.2 777.3,333.4C776.2,332.6 775.1,331.8 774.2,330.8C773.2,329.9 772.3,328.9 771.5,327.8C770.7,326.7 770.0,325.6 769.4,324.4C768.7,323.2 768.1,322.0 767.7,320.7C767.2,319.5 766.8,318.2 766.5,316.9C766.2,315.6 765.9,314.3 765.7,313.0C765.6,311.7 765.5,310.3 765.5,309.0C765.5,307.7 765.6,306.3 765.8,305.0C765.9,303.7 766.2,302.4 766.6,301.1C766.9,299.8 767.4,298.6 767.9,297.4C768.5,296.2 769.1,295.0 769.9,293.9C770.6,292.8 771.4,291.8 772.3,290.8C773.2,289.8 774.1,289.0 775.1,288.1C776.1,287.3 777.2,286.5 778.2,285.8C779.3,285.1 780.3,284.4 781.4,283.8C782.6,283.2 783.7,282.7 784.9,282.2C786.1,281.8 787.3,281.5 788.5,281.2C789.8,280.8 791.0,280.6 792.2,280.4C793.5,280.2 794.7,280.0 796.0,279.9C797.3,279.9 798.6,279.9 799.8,280.0C801.1,280.1 802.4,280.4 803.6,280.7C804.8,281.0 806.0,281.4 807.2,281.9C808.4,282.4 809.6,282.9 810.7,283.5C811.9,284.1 813.0,284.8 814.0,285.5C815.1,286.3 816.1,287.0 817.1,287.9C818.0,288.8 818.9,289.8 819.7,290.8C820.5,291.9 821.1,293.0 821.7,294.2C822.3,295.3 822.8,296.5 823.2,297.7C823.6,298.9 824.0,300.2 824.3,301.4C824.6,302.7 824.9,303.9 825.0,305.2C825.2,306.4 825.3,307.7 825.3,309.0Z" stroke-width="1.00"/>
<path d="M827.4,309.0C827.4,310.4 827.3,311.7 827.2,313.1C827.0,314.5 826.8,315.8 826.6,317.2C826.3,318.5 826.0,319.9 825.5,321.2C825.1,322.5 824.5,323.8 823.9,325.1C823.2,326.3 822.5,327.6 821.7,328.7C820.9,329.9 820.0,331.0 819.0,332.0C818.0,333.0 817.0,334.0 815.8,334.8C814.7,335.7 813.5,336.5 812.3,337.2C811.1,337.9 809.8,338.5 808.5,339.1C807.1,339.6 805.8,340.1 804.4,340.4C803.1,340.8 801.7,341.1 800.2,341.3C798.8,341.5 797.4,341.6 796.0,341.6C794.6,341.6 793.2,341.5 791.7,341.3C790.3,341.1 788.9,340.8 787.6,340.4C786.2,340.0 784.9,339.6 783.5,339.1C782.2,338.5 780.9,338.0 779.7,337.3C778.4,336.6 777.2,335.9 776.0,335.1C774.8,334.3 773.7,333.4 772.6,332.4C771.6,331.4 770.6,330.3 769.7,329.2C768.8,328.0 768.1,326.8 767.4,325.5C766.7,324.3 766.1,323.0 765.6,321.6C765.1,320.3 764.7,318.9 764.4,317.5C764.0,316.1 763.8,314.7 763.6,313.3C763.4,311.9 763.3,310.4 763.3,309.0C763.4,307.6 763.5,306.1 763.7,304.7C763.9,303.3 764.1,301.9 764.5,300.6C764.9,299.2 765.4,297.8 765.9,296.6C766.5,295.3 767.2,294.0 768.0,292.8C768.8,291.7 769.7,290.5 770.6,289.5C771.6,288.5 772.6,287.6 773.7,286.7C774.8,285.8 775.9,285.0 777.0,284.2C778.1,283.5 779.3,282.7 780.5,282.1C781.7,281.4 782.9,280.9 784.2,280.5C785.4,280.0 786.7,279.6 788.0,279.3C789.3,278.9 790.6,278.7 792.0,278.4C793.3,278.2 794.6,278.0 796.0,277.9C797.4,277.8 798.7,277.8 800.1,277.9C801.4,278.0 802.8,278.3 804.1,278.6C805.5,278.9 806.8,279.4 808.1,279.9C809.3,280.4 810.6,281.0 811.8,281.6C813.0,282.3 814.2,283.0 815.3,283.9C816.4,284.7 817.5,285.5 818.5,286.5C819.5,287.4 820.5,288.5 821.3,289.6C822.1,290.7 822.8,292.0 823.4,293.2C824.0,294.4 824.5,295.7 825.0,297.0C825.5,298.3 825.9,299.6 826.2,300.9C826.6,302.2 826.9,303.6 827.1,304.9C827.2,306.3 827.3,307.6 827.4,309.0Z" stroke-width="1.03"/>
<path d="M829.7,309.0C829.8,310.5 829.6,311.9 829.5,313.4C829.3,314.9 829.1,316.3 828.8,317.8C828.5,319.2 828.2,320.7 827.7,322.1C827.2,323.5 826.6,324.9 825.9,326.3C825.3,327.6 824.5,329.0 823.7,330.2C822.8,331.5 821.8,332.7 820.8,333.8C819.7,334.9 818.6,335.9 817.4,336.9C816.2,337.8 814.9,338.7 813.6,339.5C812.3,340.2 810.9,341.0 809.5,341.6C808.1,342.2 806.6,342.7 805.1,343.1C803.7,343.5 802.1,343.8 800.6,344.0C799.1,344.1 797.5,344.2 796.0,344.2C794.5,344.2 792.9,343.9 791.4,343.7C789.9,343.4 788.4,343.0 787.0,342.6C785.5,342.2 784.1,341.7 782.7,341.2C781.3,340.6 779.9,340.0 778.5,339.3C777.1,338.6 775.8,337.9 774.5,337.0C773.2,336.2 772.0,335.2 770.8,334.2C769.7,333.1 768.6,332.0 767.7,330.7C766.7,329.5 765.9,328.2 765.1,326.8C764.4,325.5 763.7,324.1 763.1,322.6C762.6,321.2 762.2,319.7 761.8,318.2C761.5,316.7 761.2,315.1 761.0,313.6C760.8,312.1 760.8,310.5 760.8,309.0C760.8,307.5 761.0,305.9 761.2,304.4C761.4,302.9 761.7,301.4 762.1,299.9C762.5,298.4 763.0,297.0 763.6,295.6C764.2,294.2 764.9,292.8 765.7,291.5C766.6,290.3 767.5,289.1 768.6,288.0C769.6,286.9 770.8,285.9 772.0,285.0C773.1,284.0 774.4,283.2 775.6,282.4C776.9,281.6 778.1,280.9 779.4,280.2C780.7,279.6 782.0,279.0 783.4,278.5C784.7,278.0 786.1,277.6 787.5,277.2C788.9,276.9 790.3,276.5 791.7,276.2C793.1,276.0 794.5,275.7 796.0,275.6C797.5,275.5 798.9,275.4 800.4,275.5C801.9,275.6 803.4,275.9 804.8,276.2C806.2,276.5 807.7,277.0 809.1,277.5C810.4,278.0 811.8,278.6 813.1,279.3C814.4,280.1 815.7,280.9 816.9,281.8C818.1,282.7 819.2,283.7 820.3,284.7C821.3,285.8 822.3,286.9 823.1,288.2C824.0,289.4 824.7,290.7 825.3,292.1C826.0,293.4 826.6,294.7 827.1,296.1C827.6,297.5 828.1,298.9 828.5,300.3C828.9,301.7 829.2,303.2 829.4,304.6C829.6,306.1 829.7,307.5 829.7,309.0Z" stroke-width="1.04"/>
<path d="M831.8,309.0C831.8,310.6 831.6,312.1 831.5,313.7C831.3,315.2 831.0,316.8 830.7,318.3C830.4,319.8 830.1,321.4 829.6,322.9C829.1,324.4 828.4,325.9 827.7,327.3C827.0,328.8 826.3,330.2 825.4,331.5C824.5,332.9 823.5,334.2 822.4,335.4C821.3,336.5 820.0,337.7 818.8,338.7C817.5,339.7 816.2,340.7 814.8,341.5C813.4,342.3 811.9,343.1 810.4,343.7C808.9,344.3 807.3,344.9 805.7,345.3C804.1,345.6 802.5,345.9 800.9,346.0C799.3,346.2 797.6,346.2 796.0,346.2C794.4,346.1 792.8,345.8 791.2,345.5C789.6,345.2 788.0,344.9 786.5,344.4C785.0,344.0 783.4,343.5 781.9,343.0C780.4,342.4 778.9,341.8 777.4,341.1C776.0,340.4 774.5,339.7 773.1,338.8C771.8,337.9 770.4,336.9 769.2,335.8C768.0,334.7 766.8,333.4 765.8,332.1C764.8,330.8 763.9,329.4 763.1,328.0C762.3,326.5 761.6,325.0 761.0,323.5C760.5,321.9 760.1,320.3 759.7,318.7C759.3,317.1 759.1,315.5 758.9,313.9C758.7,312.3 758.6,310.6 758.7,309.0C758.7,307.4 758.8,305.7 759.1,304.1C759.3,302.5 759.6,300.9 760.0,299.4C760.4,297.8 760.9,296.2 761.5,294.7C762.2,293.2 762.9,291.8 763.8,290.4C764.7,289.1 765.8,287.8 766.9,286.7C768.0,285.5 769.3,284.5 770.6,283.6C771.9,282.7 773.2,281.8 774.5,281.0C775.8,280.2 777.1,279.4 778.5,278.7C779.8,278.0 781.3,277.4 782.7,276.8C784.1,276.3 785.5,275.8 787.0,275.4C788.4,274.9 789.9,274.5 791.4,274.2C792.9,273.9 794.5,273.6 796.0,273.4C797.5,273.3 799.1,273.2 800.7,273.3C802.3,273.4 803.8,273.6 805.4,274.0C806.9,274.3 808.4,274.8 809.9,275.4C811.4,276.0 812.8,276.7 814.2,277.5C815.6,278.3 816.9,279.2 818.1,280.2C819.4,281.2 820.6,282.2 821.6,283.4C822.7,284.5 823.8,285.7 824.6,287.0C825.5,288.3 826.3,289.7 827.0,291.1C827.7,292.5 828.4,293.9 829.0,295.4C829.5,296.8 830.0,298.3 830.5,299.8C830.9,301.3 831.2,302.8 831.5,304.3C831.7,305.9 831.8,307.4 831.8,309.0Z" stroke-width="1.24"/>
<path d="M835.0,309.0C835.0,310.7 834.8,312.4 834.7,314.1C834.5,315.8 834.2,317.5 833.9,319.2C833.6,320.8 833.2,322.6 832.7,324.2C832.2,325.9 831.5,327.5 830.7,329.0C830.0,330.6 829.1,332.2 828.1,333.6C827.1,335.1 826.0,336.5 824.8,337.8C823.6,339.1 822.3,340.3 820.9,341.4C819.5,342.5 818.0,343.5 816.4,344.4C814.9,345.3 813.3,346.0 811.6,346.7C809.9,347.3 808.2,347.8 806.5,348.2C804.8,348.6 803.0,348.8 801.3,349.0C799.5,349.2 797.8,349.3 796.0,349.2C794.2,349.2 792.5,349.0 790.8,348.8C789.0,348.6 787.3,348.2 785.6,347.8C783.9,347.4 782.2,346.9 780.5,346.3C778.9,345.8 777.2,345.1 775.6,344.3C774.0,343.5 772.4,342.7 770.9,341.7C769.4,340.7 768.0,339.6 766.6,338.4C765.3,337.1 764.1,335.8 763.0,334.3C761.9,332.9 761.0,331.3 760.1,329.7C759.3,328.1 758.5,326.5 757.9,324.8C757.3,323.1 756.9,321.3 756.5,319.6C756.2,317.8 755.9,316.1 755.7,314.3C755.5,312.5 755.4,310.8 755.4,309.0C755.4,307.2 755.5,305.5 755.7,303.7C755.9,301.9 756.3,300.2 756.7,298.5C757.2,296.8 757.7,295.0 758.4,293.4C759.2,291.8 760.1,290.3 761.1,288.8C762.1,287.4 763.3,286.1 764.5,284.8C765.7,283.6 767.1,282.5 768.5,281.5C769.8,280.4 771.2,279.5 772.6,278.5C774.0,277.6 775.4,276.6 776.8,275.8C778.3,275.0 779.8,274.3 781.4,273.7C782.9,273.1 784.5,272.6 786.1,272.1C787.7,271.6 789.3,271.2 791.0,270.9C792.6,270.6 794.3,270.2 796.0,270.1C797.7,270.0 799.4,269.9 801.1,270.0C802.8,270.2 804.6,270.5 806.2,270.9C807.9,271.3 809.5,271.9 811.1,272.6C812.7,273.3 814.2,274.1 815.7,274.9C817.1,275.8 818.5,276.8 819.9,277.9C821.2,278.9 822.6,280.0 823.8,281.2C825.0,282.4 826.2,283.7 827.2,285.1C828.2,286.4 829.1,287.9 829.9,289.4C830.7,290.9 831.4,292.5 832.0,294.1C832.7,295.7 833.2,297.3 833.6,298.9C834.1,300.6 834.4,302.2 834.6,303.9C834.9,305.6 835.0,307.3 835.0,309.0Z" stroke-width="1.05"/>
<path d="M837.9,309.0C837.9,310.8 837.7,312.6 837.6,314.5C837.4,316.3 837.1,318.1 836.8,319.9C836.5,321.8 836.1,323.6 835.6,325.4C835.0,327.2 834.3,328.9 833.5,330.7C832.7,332.4 831.8,334.1 830.7,335.7C829.7,337.2 828.5,338.8 827.2,340.2C825.9,341.6 824.4,342.9 822.9,344.1C821.4,345.2 819.8,346.3 818.1,347.2C816.4,348.2 814.6,349.0 812.8,349.6C811.0,350.3 809.2,350.8 807.3,351.2C805.4,351.6 803.5,351.8 801.7,352.0C799.8,352.1 797.9,352.2 796.0,352.2C794.1,352.2 792.2,352.0 790.4,351.7C788.5,351.5 786.6,351.2 784.8,350.8C783.0,350.4 781.1,349.9 779.3,349.3C777.5,348.7 775.7,348.0 774.0,347.2C772.2,346.4 770.5,345.4 768.9,344.4C767.3,343.3 765.7,342.1 764.3,340.7C762.9,339.4 761.5,337.9 760.4,336.3C759.2,334.8 758.2,333.1 757.3,331.4C756.4,329.6 755.5,327.8 754.9,326.0C754.3,324.2 753.8,322.3 753.4,320.4C753.0,318.5 752.7,316.6 752.5,314.7C752.3,312.8 752.2,310.9 752.2,309.0C752.2,307.1 752.3,305.2 752.5,303.3C752.8,301.4 753.1,299.5 753.6,297.6C754.1,295.8 754.7,293.9 755.5,292.2C756.3,290.5 757.3,288.8 758.4,287.3C759.5,285.8 760.8,284.3 762.2,283.0C763.5,281.7 765.0,280.6 766.5,279.5C767.9,278.3 769.4,277.3 770.9,276.3C772.4,275.3 773.9,274.2 775.4,273.4C777.0,272.5 778.6,271.7 780.3,271.0C781.9,270.3 783.6,269.7 785.3,269.2C787.0,268.6 788.8,268.2 790.6,267.8C792.4,267.4 794.2,267.1 796.0,267.0C797.8,266.8 799.7,266.8 801.5,266.9C803.4,267.1 805.2,267.4 807.0,267.9C808.8,268.4 810.5,269.1 812.2,269.8C813.9,270.5 815.6,271.4 817.1,272.4C818.7,273.3 820.2,274.4 821.7,275.6C823.1,276.7 824.5,277.9 825.9,279.1C827.2,280.4 828.4,281.8 829.5,283.3C830.6,284.7 831.6,286.3 832.5,287.9C833.3,289.6 834.1,291.2 834.8,292.9C835.5,294.6 836.1,296.4 836.5,298.1C837.0,299.9 837.4,301.7 837.6,303.5C837.8,305.3 837.9,307.2 837.9,309.0Z" stroke-width="1.31"/>
<path d="M839.8,309.0C839.8,310.9 839.6,312.8 839.5,314.7C839.3,316.6 839.1,318.5 838.7,320.5C838.4,322.4 838.1,324.3 837.5,326.2C837.0,328.1 836.3,330.0 835.4,331.8C834.6,333.6 833.6,335.3 832.5,337.0C831.4,338.7 830.1,340.2 828.7,341.7C827.3,343.2 825.8,344.5 824.2,345.7C822.6,347.0 820.9,348.1 819.1,349.0C817.3,349.9 815.5,350.7 813.6,351.4C811.7,352.1 809.7,352.6 807.8,353.0C805.8,353.4 803.9,353.6 801.9,353.8C799.9,354.0 798.0,354.1 796.0,354.1C794.0,354.1 792.1,353.9 790.1,353.7C788.2,353.5 786.2,353.2 784.3,352.8C782.3,352.5 780.4,352.0 778.5,351.4C776.6,350.7 774.7,350.0 772.8,349.1C771.0,348.3 769.2,347.3 767.5,346.1C765.8,345.0 764.2,343.7 762.7,342.3C761.3,340.8 759.9,339.3 758.7,337.6C757.5,336.0 756.4,334.2 755.4,332.4C754.5,330.6 753.6,328.7 752.9,326.8C752.3,324.9 751.8,322.9 751.4,321.0C751.0,319.0 750.6,317.0 750.4,315.0C750.2,313.0 750.1,311.0 750.1,309.0C750.1,307.0 750.2,305.0 750.5,303.0C750.7,301.0 751.1,299.0 751.6,297.1C752.1,295.2 752.8,293.3 753.6,291.5C754.5,289.7 755.6,287.9 756.8,286.3C757.9,284.8 759.3,283.3 760.7,281.9C762.1,280.6 763.7,279.4 765.2,278.2C766.7,277.0 768.2,275.9 769.8,274.8C771.3,273.7 772.8,272.6 774.4,271.6C776.0,270.7 777.7,269.8 779.5,269.1C781.2,268.3 783.0,267.7 784.8,267.1C786.6,266.6 788.4,266.1 790.3,265.7C792.2,265.4 794.1,265.1 796.0,264.9C797.9,264.8 799.9,264.8 801.8,265.0C803.7,265.2 805.6,265.5 807.5,266.0C809.4,266.6 811.2,267.3 813.0,268.1C814.7,268.9 816.4,269.8 818.1,270.8C819.7,271.8 821.3,272.9 822.8,274.1C824.3,275.3 825.8,276.5 827.2,277.8C828.6,279.1 829.9,280.5 831.1,282.1C832.3,283.6 833.3,285.3 834.2,286.9C835.1,288.6 836.0,290.4 836.7,292.2C837.4,293.9 838.0,295.8 838.4,297.6C838.9,299.5 839.3,301.4 839.5,303.3C839.7,305.2 839.8,307.1 839.8,309.0Z" stroke-width="1.04"/>
<path d="M843.2,309.0C843.2,311.1 843.1,313.1 842.9,315.2C842.7,317.2 842.6,319.3 842.2,321.4C841.9,323.5 841.6,325.6 841.0,327.7C840.5,329.7 839.7,331.7 838.7,333.7C837.8,335.6 836.8,337.5 835.5,339.3C834.3,341.1 832.9,342.8 831.4,344.4C829.8,345.9 828.2,347.3 826.4,348.6C824.7,349.9 822.8,351.1 820.9,352.1C819.0,353.1 816.9,353.9 814.9,354.6C812.9,355.3 810.8,355.9 808.7,356.3C806.6,356.8 804.5,357.0 802.4,357.2C800.2,357.5 798.1,357.6 796.0,357.6C793.9,357.7 791.8,357.6 789.6,357.4C787.5,357.2 785.4,356.9 783.3,356.5C781.2,356.1 779.0,355.6 777.0,354.9C774.9,354.3 772.9,353.4 770.9,352.5C768.9,351.5 767.0,350.4 765.2,349.2C763.4,347.9 761.6,346.5 760.1,344.9C758.5,343.4 757.0,341.7 755.7,339.9C754.4,338.2 753.2,336.3 752.2,334.3C751.1,332.4 750.2,330.4 749.4,328.3C748.7,326.2 748.2,324.1 747.7,321.9C747.3,319.8 746.9,317.6 746.7,315.5C746.5,313.3 746.3,311.2 746.4,309.0C746.4,306.8 746.5,304.7 746.8,302.5C747.1,300.4 747.5,298.2 748.1,296.2C748.7,294.1 749.4,292.0 750.4,290.1C751.3,288.2 752.5,286.3 753.8,284.6C755.0,282.9 756.5,281.3 758.0,279.9C759.5,278.4 761.2,277.1 762.8,275.8C764.4,274.5 766.1,273.3 767.7,272.1C769.3,270.9 770.9,269.6 772.7,268.6C774.4,267.5 776.2,266.6 778.1,265.7C779.9,264.9 781.9,264.2 783.9,263.7C785.8,263.1 787.8,262.6 789.8,262.2C791.9,261.9 793.9,261.6 796.0,261.4C798.1,261.3 800.2,261.3 802.2,261.6C804.3,261.8 806.4,262.2 808.4,262.8C810.4,263.3 812.4,264.1 814.2,264.9C816.1,265.8 818.0,266.8 819.8,267.8C821.5,268.9 823.2,270.1 824.9,271.4C826.5,272.6 828.1,273.9 829.6,275.4C831.2,276.8 832.6,278.3 833.9,279.9C835.2,281.6 836.2,283.4 837.2,285.2C838.3,287.0 839.1,288.9 839.9,290.8C840.6,292.7 841.2,294.7 841.7,296.7C842.2,298.7 842.6,300.8 842.8,302.8C843.1,304.9 843.1,306.9 843.2,309.0Z" stroke-width="1.24"/>
<path d="M846.7,309.0C846.7,311.2 846.6,313.4 846.5,315.6C846.3,317.9 846.1,320.1 845.8,322.3C845.4,324.6 845.1,326.9 844.4,329.1C843.8,331.2 842.9,333.4 841.8,335.5C840.8,337.5 839.7,339.6 838.3,341.5C837.0,343.4 835.4,345.2 833.8,346.8C832.2,348.5 830.4,350.0 828.5,351.4C826.7,352.8 824.7,354.0 822.6,355.1C820.6,356.2 818.4,357.1 816.2,357.9C814.1,358.7 811.8,359.3 809.6,359.8C807.4,360.3 805.1,360.6 802.8,360.9C800.6,361.1 798.3,361.4 796.0,361.4C793.7,361.5 791.4,361.4 789.1,361.2C786.8,361.0 784.5,360.7 782.3,360.2C780.0,359.8 777.7,359.2 775.5,358.4C773.3,357.7 771.1,356.7 769.0,355.7C767.0,354.6 764.9,353.4 763.0,352.1C761.0,350.7 759.1,349.2 757.4,347.6C755.7,345.9 754.1,344.1 752.7,342.2C751.3,340.3 750.0,338.3 748.9,336.2C747.7,334.1 746.7,332.0 746.0,329.7C745.2,327.5 744.7,325.2 744.2,322.9C743.7,320.6 743.3,318.3 743.1,316.0C742.9,313.6 742.8,311.3 742.8,309.0C742.8,306.7 743.0,304.4 743.3,302.1C743.6,299.8 744.1,297.5 744.7,295.3C745.3,293.0 746.1,290.8 747.1,288.7C748.1,286.7 749.3,284.7 750.7,282.8C752.0,281.0 753.6,279.3 755.2,277.7C756.8,276.1 758.5,274.7 760.3,273.3C762.0,271.8 763.7,270.5 765.5,269.2C767.2,267.9 769.0,266.5 770.8,265.4C772.7,264.3 774.7,263.3 776.7,262.5C778.8,261.7 780.9,261.0 783.0,260.4C785.1,259.9 787.3,259.4 789.4,259.0C791.6,258.7 793.8,258.3 796.0,258.2C798.2,258.1 800.5,258.1 802.7,258.3C804.9,258.5 807.1,258.9 809.3,259.5C811.4,260.1 813.5,260.9 815.5,261.8C817.6,262.7 819.6,263.8 821.5,264.9C823.4,266.0 825.2,267.3 827.0,268.6C828.7,270.0 830.5,271.3 832.1,272.9C833.8,274.4 835.4,276.0 836.7,277.8C838.1,279.5 839.2,281.5 840.3,283.4C841.4,285.4 842.3,287.4 843.1,289.5C843.9,291.6 844.5,293.7 845.0,295.9C845.5,298.0 845.9,300.2 846.2,302.4C846.5,304.6 846.6,306.8 846.7,309.0Z" stroke-width="1.05"/>
<path d="M849.6,309.0C849.7,311.3 849.6,313.7 849.5,316.0C849.4,318.4 849.2,320.8 848.9,323.2C848.5,325.5 848.1,328.0 847.4,330.3C846.7,332.6 845.7,334.9 844.6,337.1C843.5,339.3 842.2,341.4 840.8,343.4C839.3,345.3 837.7,347.2 835.9,348.9C834.2,350.7 832.3,352.3 830.3,353.7C828.4,355.2 826.3,356.5 824.1,357.7C821.9,358.8 819.7,359.8 817.4,360.6C815.1,361.5 812.7,362.1 810.4,362.7C808.0,363.2 805.6,363.6 803.2,363.9C800.8,364.2 798.4,364.5 796.0,364.6C793.6,364.6 791.1,364.6 788.7,364.4C786.3,364.2 783.8,363.9 781.4,363.4C779.0,362.9 776.6,362.2 774.3,361.4C772.0,360.6 769.7,359.6 767.4,358.5C765.2,357.3 763.1,356.0 761.0,354.6C759.0,353.2 757.0,351.6 755.2,349.8C753.3,348.1 751.6,346.2 750.1,344.2C748.6,342.2 747.2,340.1 746.0,337.9C744.8,335.7 743.7,333.4 742.9,331.0C742.1,328.6 741.5,326.2 741.1,323.7C740.6,321.3 740.2,318.8 740.0,316.4C739.8,313.9 739.7,311.4 739.8,309.0C739.8,306.6 740.0,304.1 740.4,301.7C740.7,299.3 741.2,296.8 741.8,294.5C742.5,292.1 743.3,289.8 744.3,287.6C745.4,285.4 746.7,283.3 748.1,281.4C749.5,279.4 751.2,277.6 752.8,275.9C754.5,274.2 756.3,272.6 758.1,271.1C759.9,269.6 761.8,268.2 763.6,266.8C765.5,265.4 767.3,263.9 769.3,262.7C771.3,261.6 773.4,260.5 775.6,259.7C777.7,258.8 780.0,258.2 782.2,257.6C784.5,257.0 786.8,256.6 789.0,256.2C791.3,255.8 793.7,255.5 796.0,255.4C798.3,255.3 800.7,255.3 803.0,255.5C805.4,255.7 807.7,256.1 810.0,256.8C812.3,257.4 814.5,258.2 816.7,259.1C818.8,260.1 820.9,261.2 822.9,262.4C824.9,263.6 826.9,264.9 828.7,266.3C830.6,267.7 832.5,269.2 834.2,270.8C835.9,272.4 837.6,274.1 839.1,276.0C840.5,277.8 841.7,279.9 842.8,282.0C843.9,284.0 844.9,286.2 845.7,288.4C846.6,290.6 847.2,292.9 847.8,295.1C848.3,297.4 848.8,299.7 849.1,302.0C849.4,304.3 849.5,306.7 849.6,309.0Z" stroke-width="1.10"/>
<path d="M852.6,309.0C852.7,311.5 852.7,313.9 852.5,316.4C852.4,318.9 852.2,321.5 851.8,324.0C851.5,326.5 851.0,329.0 850.3,331.5C849.5,333.9 848.4,336.3 847.2,338.6C846.0,340.8 844.6,343.1 843.1,345.1C841.5,347.2 839.8,349.1 838.0,351.0C836.1,352.8 834.1,354.5 832.1,356.0C830.0,357.6 827.8,359.0 825.6,360.2C823.3,361.5 820.9,362.5 818.5,363.4C816.1,364.3 813.7,365.1 811.2,365.7C808.7,366.2 806.2,366.6 803.6,367.0C801.1,367.3 798.6,367.6 796.0,367.7C793.4,367.8 790.9,367.7 788.3,367.5C785.7,367.3 783.1,366.9 780.6,366.4C778.1,365.9 775.5,365.2 773.1,364.3C770.6,363.4 768.2,362.3 765.9,361.1C763.6,359.9 761.3,358.6 759.1,357.1C756.9,355.6 754.8,353.9 752.9,352.1C751.0,350.3 749.1,348.3 747.5,346.2C745.9,344.1 744.4,341.8 743.2,339.5C741.9,337.2 740.8,334.7 739.9,332.2C739.1,329.7 738.6,327.1 738.1,324.5C737.6,321.9 737.3,319.3 737.1,316.8C736.9,314.2 736.8,311.6 736.9,309.0C736.9,306.4 737.1,303.8 737.5,301.3C737.8,298.8 738.3,296.2 739.0,293.7C739.7,291.2 740.5,288.8 741.6,286.5C742.6,284.1 744.0,281.9 745.5,279.8C746.9,277.8 748.6,275.8 750.4,274.0C752.1,272.2 754.1,270.6 756.0,269.0C757.9,267.4 759.8,265.9 761.8,264.4C763.8,262.9 765.7,261.4 767.8,260.2C769.9,258.9 772.2,257.9 774.5,257.0C776.8,256.2 779.1,255.5 781.5,254.9C783.9,254.4 786.3,253.9 788.7,253.6C791.1,253.2 793.5,252.9 796.0,252.7C798.5,252.6 800.9,252.5 803.4,252.8C805.9,253.0 808.3,253.4 810.7,254.0C813.1,254.6 815.5,255.5 817.8,256.5C820.0,257.5 822.2,258.6 824.4,259.9C826.5,261.1 828.5,262.6 830.5,264.1C832.5,265.5 834.4,267.1 836.2,268.8C838.0,270.5 839.8,272.3 841.3,274.2C842.8,276.2 844.1,278.4 845.3,280.5C846.5,282.7 847.5,285.0 848.4,287.3C849.2,289.6 849.9,292.0 850.5,294.4C851.1,296.8 851.6,299.2 852.0,301.6C852.3,304.1 852.5,306.5 852.6,309.0Z" stroke-width="0.99"/>
<path d="M854.9,309.0C855.0,311.6 855.0,314.2 854.9,316.8C854.8,319.3 854.6,322.0 854.1,324.6C853.7,327.2 853.2,329.9 852.4,332.4C851.5,334.9 850.3,337.3 849.0,339.6C847.8,342.0 846.3,344.2 844.6,346.3C843.0,348.4 841.2,350.4 839.3,352.3C837.4,354.2 835.4,356.0 833.3,357.6C831.2,359.2 829.0,360.8 826.6,362.1C824.3,363.4 821.9,364.6 819.4,365.5C816.9,366.5 814.4,367.3 811.8,367.9C809.2,368.5 806.6,369.0 803.9,369.3C801.3,369.7 798.7,370.0 796.0,370.1C793.3,370.2 790.7,370.1 788.0,369.9C785.3,369.6 782.6,369.3 780.0,368.7C777.4,368.1 774.7,367.4 772.2,366.5C769.7,365.5 767.1,364.4 764.7,363.2C762.3,361.9 759.9,360.5 757.7,358.9C755.4,357.4 753.2,355.7 751.2,353.8C749.2,351.9 747.2,349.9 745.5,347.7C743.8,345.6 742.3,343.2 741.0,340.8C739.7,338.3 738.5,335.8 737.7,333.2C736.8,330.6 736.4,327.8 735.9,325.1C735.5,322.4 735.2,319.7 735.0,317.0C734.9,314.3 734.8,311.7 734.9,309.0C735.0,306.3 735.2,303.7 735.5,301.0C735.9,298.4 736.3,295.8 736.9,293.2C737.6,290.6 738.4,288.0 739.5,285.6C740.6,283.2 741.9,280.8 743.4,278.7C744.9,276.5 746.7,274.4 748.5,272.6C750.3,270.7 752.3,269.0 754.3,267.3C756.3,265.6 758.3,264.1 760.4,262.6C762.4,261.0 764.4,259.4 766.7,258.2C768.9,256.9 771.3,255.9 773.6,255.0C776.0,254.2 778.5,253.6 781.0,253.0C783.5,252.4 786.0,252.0 788.5,251.7C791.0,251.3 793.5,251.0 796.0,250.8C798.5,250.6 801.1,250.6 803.7,250.8C806.2,250.9 808.8,251.3 811.3,251.9C813.8,252.6 816.2,253.5 818.6,254.5C820.9,255.5 823.2,256.7 825.4,258.0C827.6,259.4 829.7,260.9 831.7,262.4C833.8,264.0 835.8,265.6 837.6,267.4C839.5,269.1 841.3,271.0 842.9,273.0C844.5,275.0 845.8,277.3 847.1,279.5C848.3,281.8 849.4,284.1 850.3,286.5C851.2,288.9 852.0,291.4 852.6,293.8C853.3,296.3 853.8,298.8 854.2,301.3C854.6,303.9 854.8,306.4 854.9,309.0Z" stroke-width="1.22"/>
<path d="M856.9,309.0C857.0,311.7 856.9,314.3 856.8,317.0C856.6,319.7 856.3,322.4 855.8,325.0C855.4,327.7 854.8,330.4 853.9,333.0C853.0,335.6 851.8,338.0 850.5,340.4C849.2,342.8 847.7,345.2 846.0,347.4C844.4,349.6 842.6,351.7 840.7,353.7C838.8,355.7 836.7,357.6 834.6,359.3C832.4,361.0 830.1,362.6 827.8,364.0C825.4,365.4 822.8,366.6 820.3,367.6C817.7,368.6 815.0,369.4 812.4,370.0C809.7,370.7 806.9,371.1 804.2,371.4C801.5,371.8 798.7,372.1 796.0,372.2C793.3,372.2 790.5,372.1 787.7,371.9C785.0,371.6 782.2,371.2 779.5,370.6C776.8,370.0 774.1,369.2 771.4,368.3C768.8,367.3 766.2,366.2 763.7,364.9C761.2,363.6 758.7,362.2 756.4,360.6C754.1,359.0 751.7,357.3 749.6,355.4C747.5,353.4 745.5,351.3 743.8,349.1C742.1,346.8 740.5,344.3 739.2,341.8C737.9,339.3 736.7,336.6 735.9,333.9C735.1,331.2 734.6,328.3 734.2,325.6C733.7,322.8 733.4,320.0 733.2,317.3C733.0,314.5 732.9,311.8 733.0,309.0C733.0,306.2 733.1,303.5 733.4,300.8C733.7,298.0 734.1,295.3 734.8,292.6C735.4,289.9 736.2,287.2 737.4,284.7C738.5,282.2 739.9,279.8 741.5,277.5C743.1,275.3 744.9,273.2 746.8,271.2C748.7,269.3 750.8,267.6 752.9,265.9C754.9,264.2 757.1,262.6 759.2,261.1C761.4,259.5 763.5,257.9 765.8,256.7C768.1,255.4 770.6,254.4 773.0,253.5C775.5,252.7 778.1,252.1 780.6,251.5C783.1,250.9 785.7,250.4 788.2,250.0C790.8,249.6 793.4,249.2 796.0,249.0C798.6,248.8 801.3,248.6 803.9,248.8C806.6,249.0 809.2,249.4 811.8,250.0C814.4,250.7 816.9,251.6 819.3,252.7C821.7,253.8 824.1,255.1 826.3,256.4C828.6,257.8 830.7,259.4 832.8,261.0C834.9,262.6 837.0,264.2 839.0,266.0C840.9,267.8 842.8,269.7 844.5,271.8C846.1,273.9 847.5,276.2 848.8,278.5C850.1,280.8 851.2,283.3 852.2,285.7C853.1,288.2 853.9,290.7 854.6,293.3C855.3,295.9 855.8,298.5 856.2,301.1C856.6,303.7 856.8,306.3 856.9,309.0Z" stroke-width="1.38"/>
<path d="M859.7,309.0C859.8,311.8 859.7,314.6 859.4,317.4C859.2,320.1 858.9,322.9 858.4,325.7C857.8,328.5 857.2,331.3 856.3,334.0C855.3,336.6 854.0,339.2 852.7,341.7C851.3,344.2 849.8,346.7 848.1,349.0C846.4,351.3 844.6,353.6 842.7,355.7C840.7,357.8 838.6,359.8 836.4,361.7C834.2,363.5 831.8,365.2 829.3,366.7C826.8,368.2 824.2,369.4 821.5,370.5C818.8,371.5 815.9,372.3 813.1,373.0C810.3,373.6 807.5,374.0 804.6,374.3C801.7,374.7 798.9,375.0 796.0,375.1C793.1,375.1 790.2,375.0 787.3,374.7C784.5,374.5 781.6,374.1 778.7,373.5C775.9,372.8 773.1,372.0 770.3,371.0C767.5,370.1 764.8,368.9 762.2,367.5C759.6,366.2 757.0,364.7 754.5,363.1C752.1,361.4 749.6,359.6 747.4,357.6C745.2,355.5 743.1,353.3 741.3,350.9C739.5,348.6 737.9,346.0 736.6,343.3C735.2,340.6 734.1,337.8 733.3,335.0C732.4,332.1 732.0,329.2 731.6,326.3C731.1,323.4 730.8,320.5 730.6,317.6C730.4,314.7 730.2,311.9 730.2,309.0C730.2,306.1 730.2,303.2 730.5,300.4C730.8,297.5 731.1,294.6 731.8,291.8C732.4,289.0 733.2,286.1 734.4,283.5C735.6,280.8 737.1,278.3 738.8,276.0C740.4,273.6 742.4,271.4 744.4,269.4C746.4,267.4 748.7,265.6 750.9,263.9C753.1,262.1 755.3,260.5 757.6,258.9C759.9,257.4 762.1,255.7 764.5,254.4C766.9,253.1 769.5,252.1 772.1,251.2C774.6,250.3 777.3,249.7 779.9,249.1C782.6,248.5 785.2,248.0 787.9,247.5C790.6,247.0 793.3,246.5 796.0,246.3C798.7,246.1 801.5,245.9 804.3,246.1C807.0,246.2 809.8,246.7 812.5,247.3C815.2,248.0 817.8,249.1 820.4,250.2C822.9,251.4 825.3,252.7 827.6,254.2C830.0,255.7 832.2,257.3 834.4,259.0C836.6,260.6 838.8,262.3 840.8,264.2C842.8,266.1 844.9,268.0 846.6,270.2C848.3,272.3 849.8,274.7 851.2,277.1C852.6,279.5 853.8,282.1 854.8,284.6C855.8,287.2 856.7,289.9 857.4,292.6C858.1,295.2 858.6,298.0 859.0,300.7C859.4,303.4 859.6,306.2 859.7,309.0Z" stroke-width="1.34"/>
<path d="M861.4,309.0C861.5,311.9 861.3,314.7 861.1,317.6C860.9,320.4 860.5,323.3 860.0,326.1C859.4,329.0 858.9,331.9 857.9,334.6C857.0,337.4 855.7,340.1 854.3,342.7C853.0,345.3 851.5,347.9 849.8,350.3C848.2,352.8 846.3,355.1 844.3,357.3C842.3,359.5 840.2,361.7 837.9,363.6C835.6,365.5 833.1,367.2 830.5,368.7C827.9,370.2 825.1,371.5 822.3,372.5C819.5,373.6 816.6,374.3 813.7,375.0C810.8,375.6 807.8,376.0 804.9,376.4C801.9,376.7 799.0,377.1 796.0,377.1C793.0,377.2 790.0,377.1 787.1,376.8C784.1,376.5 781.1,376.1 778.2,375.5C775.3,374.8 772.3,374.0 769.5,373.0C766.7,372.0 763.9,370.8 761.1,369.4C758.4,368.0 755.7,366.5 753.2,364.8C750.7,363.1 748.2,361.2 745.9,359.1C743.7,357.0 741.5,354.7 739.7,352.2C737.8,349.8 736.2,347.0 734.9,344.3C733.5,341.6 732.3,338.7 731.5,335.7C730.6,332.8 730.1,329.8 729.6,326.8C729.1,323.8 728.7,320.9 728.4,317.9C728.1,314.9 727.9,312.0 727.8,309.0C727.8,306.0 727.8,303.0 728.1,300.1C728.3,297.1 728.7,294.1 729.4,291.2C730.1,288.3 731.0,285.3 732.3,282.6C733.5,279.9 735.2,277.3 736.9,274.9C738.7,272.5 740.8,270.3 742.9,268.2C745.0,266.2 747.3,264.4 749.6,262.6C751.9,260.8 754.2,259.2 756.5,257.6C758.9,256.0 761.2,254.3 763.6,252.9C766.1,251.6 768.8,250.6 771.4,249.6C774.0,248.7 776.8,248.0 779.5,247.3C782.2,246.6 784.9,246.1 787.6,245.6C790.4,245.1 793.2,244.5 796.0,244.3C798.8,244.0 801.7,243.8 804.6,244.0C807.4,244.2 810.3,244.7 813.0,245.4C815.8,246.2 818.5,247.3 821.1,248.5C823.7,249.7 826.2,251.1 828.6,252.6C831.0,254.1 833.3,255.7 835.6,257.4C837.8,259.1 840.1,260.8 842.3,262.7C844.4,264.6 846.5,266.6 848.3,268.9C850.1,271.1 851.6,273.6 853.0,276.1C854.4,278.6 855.7,281.2 856.7,283.9C857.7,286.5 858.5,289.3 859.2,292.1C859.9,294.8 860.5,297.6 860.8,300.5C861.2,303.3 861.4,306.1 861.4,309.0Z" stroke-width="1.36"/>
<path d="M863.5,309.0C863.5,311.9 863.3,314.9 863.1,317.8C862.8,320.8 862.4,323.7 861.8,326.6C861.2,329.6 860.6,332.5 859.6,335.4C858.6,338.2 857.3,340.9 855.9,343.6C854.6,346.3 853.1,349.0 851.4,351.5C849.7,354.1 847.9,356.6 845.9,358.9C843.9,361.2 841.7,363.5 839.4,365.5C837.0,367.6 834.5,369.4 831.8,371.0C829.1,372.6 826.2,373.8 823.3,374.9C820.4,375.9 817.3,376.7 814.3,377.3C811.3,377.9 808.2,378.3 805.2,378.6C802.1,379.0 799.1,379.3 796.0,379.4C792.9,379.5 789.8,379.5 786.8,379.2C783.7,379.0 780.6,378.6 777.5,378.0C774.5,377.3 771.4,376.5 768.5,375.4C765.5,374.4 762.6,373.1 759.8,371.6C757.0,370.2 754.3,368.6 751.7,366.8C749.1,365.0 746.5,363.0 744.2,360.8C741.9,358.6 739.7,356.2 737.8,353.6C736.0,351.1 734.3,348.2 733.0,345.4C731.6,342.5 730.5,339.5 729.6,336.5C728.7,333.5 728.3,330.3 727.8,327.3C727.3,324.2 726.8,321.2 726.5,318.2C726.1,315.1 725.7,312.1 725.6,309.0C725.4,305.9 725.3,302.8 725.5,299.7C725.7,296.6 726.0,293.5 726.7,290.4C727.4,287.4 728.4,284.3 729.7,281.5C731.0,278.7 732.8,276.0 734.6,273.6C736.5,271.1 738.7,268.9 741.0,266.8C743.2,264.7 745.7,262.8 748.0,261.0C750.4,259.2 752.8,257.6 755.3,255.9C757.7,254.3 760.0,252.5 762.6,251.2C765.2,249.8 767.9,248.7 770.6,247.7C773.4,246.8 776.2,246.1 779.0,245.4C781.8,244.7 784.6,244.2 787.4,243.6C790.2,243.1 793.1,242.5 796.0,242.2C798.9,241.9 801.9,241.7 804.8,241.9C807.8,242.1 810.7,242.6 813.6,243.4C816.4,244.2 819.2,245.4 821.8,246.6C824.5,247.9 827.0,249.4 829.5,250.9C832.0,252.5 834.3,254.2 836.7,256.0C839.1,257.7 841.5,259.4 843.7,261.3C846.0,263.2 848.2,265.2 850.2,267.4C852.1,269.7 853.8,272.2 855.2,274.8C856.7,277.4 858.0,280.1 859.1,282.9C860.1,285.6 860.9,288.5 861.6,291.4C862.3,294.3 862.8,297.2 863.1,300.2C863.4,303.1 863.5,306.1 863.5,309.0Z" stroke-width="1.04"/>
<path d="M865.4,309.0C865.4,312.0 865.2,315.0 864.9,318.1C864.6,321.1 864.3,324.1 863.7,327.1C863.2,330.2 862.6,333.2 861.6,336.2C860.7,339.1 859.4,342.0 858.0,344.8C856.7,347.6 855.2,350.4 853.5,353.1C851.8,355.8 849.9,358.4 847.8,360.8C845.8,363.3 843.5,365.6 841.0,367.7C838.6,369.8 835.9,371.7 833.1,373.2C830.3,374.8 827.2,376.1 824.2,377.1C821.2,378.2 818.0,378.9 814.9,379.6C811.8,380.2 808.6,380.6 805.5,381.0C802.3,381.3 799.2,381.7 796.0,381.9C792.8,382.0 789.6,382.0 786.4,381.7C783.2,381.5 780.0,381.1 776.9,380.4C773.7,379.7 770.6,378.8 767.5,377.7C764.5,376.6 761.5,375.2 758.6,373.7C755.8,372.2 752.9,370.5 750.2,368.6C747.6,366.8 744.9,364.7 742.6,362.4C740.2,360.2 738.0,357.7 736.0,355.0C734.1,352.4 732.4,349.5 731.0,346.5C729.5,343.6 728.3,340.5 727.4,337.4C726.4,334.3 725.9,331.1 725.3,327.9C724.7,324.8 724.2,321.7 723.8,318.5C723.3,315.4 722.9,312.2 722.7,309.0C722.6,305.8 722.5,302.6 722.7,299.3C722.9,296.1 723.3,292.9 724.1,289.7C724.9,286.6 726.0,283.5 727.4,280.6C728.8,277.7 730.7,275.0 732.7,272.4C734.7,269.9 737.0,267.6 739.3,265.5C741.6,263.4 744.2,261.5 746.6,259.6C749.1,257.7 751.5,256.0 754.0,254.3C756.5,252.6 758.9,250.8 761.5,249.3C764.2,247.9 767.0,246.8 769.8,245.8C772.6,244.8 775.5,244.0 778.4,243.3C781.3,242.6 784.2,242.0 787.1,241.4C790.0,240.8 793.0,240.2 796.0,239.9C799.0,239.7 802.1,239.5 805.1,239.7C808.1,239.9 811.2,240.5 814.1,241.3C817.1,242.1 819.9,243.4 822.6,244.7C825.4,246.0 828.0,247.5 830.6,249.1C833.2,250.6 835.6,252.4 838.1,254.1C840.6,255.9 843.1,257.6 845.5,259.5C847.8,261.5 850.2,263.5 852.2,265.9C854.2,268.2 855.9,270.9 857.3,273.6C858.8,276.3 860.1,279.1 861.1,282.0C862.2,284.9 862.9,287.9 863.6,290.9C864.2,293.9 864.6,296.9 864.9,299.9C865.2,302.9 865.4,306.0 865.4,309.0Z" stroke-width="1.04"/>
<path d="M866.8,309.0C866.8,312.1 866.7,315.2 866.4,318.3C866.2,321.4 865.9,324.5 865.4,327.6C864.9,330.7 864.3,333.9 863.4,336.9C862.4,339.9 861.1,342.9 859.8,345.8C858.4,348.8 856.9,351.7 855.2,354.4C853.5,357.2 851.6,359.9 849.5,362.5C847.3,365.0 845.0,367.4 842.4,369.5C839.9,371.6 837.1,373.5 834.2,375.1C831.3,376.7 828.1,377.9 825.0,379.0C821.9,380.1 818.6,380.8 815.4,381.5C812.2,382.1 809.0,382.5 805.7,383.0C802.5,383.4 799.3,383.9 796.0,384.0C792.7,384.2 789.4,384.2 786.1,384.0C782.8,383.7 779.5,383.3 776.3,382.6C773.0,381.9 769.8,380.9 766.7,379.7C763.6,378.5 760.6,377.0 757.7,375.4C754.7,373.8 751.8,372.0 749.1,370.1C746.4,368.2 743.7,366.0 741.3,363.7C738.8,361.4 736.5,358.9 734.5,356.2C732.6,353.5 730.8,350.5 729.3,347.5C727.8,344.5 726.5,341.4 725.5,338.2C724.5,335.0 723.9,331.7 723.2,328.5C722.5,325.3 721.9,322.1 721.4,318.8C720.9,315.6 720.4,312.3 720.2,309.0C720.0,305.7 719.9,302.3 720.2,299.0C720.5,295.7 721.0,292.3 721.8,289.1C722.7,285.9 723.9,282.7 725.5,279.8C727.0,276.8 729.0,274.1 731.1,271.5C733.2,269.0 735.6,266.6 737.9,264.4C740.3,262.3 742.9,260.3 745.4,258.4C747.9,256.5 750.4,254.7 752.9,252.9C755.5,251.1 757.9,249.2 760.6,247.7C763.3,246.2 766.2,245.1 769.1,244.0C772.0,243.0 775.0,242.3 777.9,241.5C780.9,240.8 783.9,240.2 786.9,239.6C789.9,239.1 792.9,238.4 796.0,238.1C799.1,237.9 802.3,237.7 805.4,237.9C808.5,238.1 811.6,238.7 814.6,239.6C817.6,240.4 820.5,241.7 823.3,243.0C826.2,244.3 828.9,245.8 831.5,247.4C834.2,249.0 836.8,250.7 839.4,252.5C841.9,254.2 844.6,256.0 847.0,258.0C849.5,260.0 852.0,262.1 854.0,264.5C856.0,266.9 857.7,269.7 859.2,272.5C860.7,275.3 861.9,278.3 862.9,281.3C863.9,284.3 864.5,287.4 865.1,290.5C865.7,293.6 866.1,296.6 866.4,299.7C866.7,302.8 866.8,305.9 866.8,309.0Z" stroke-width="1.22"/>
<path d="M869.2,309.0C869.3,312.2 869.2,315.4 869.0,318.6C868.8,321.8 868.5,325.1 868.0,328.3C867.5,331.5 867.0,334.9 866.1,338.0C865.1,341.2 863.8,344.3 862.4,347.3C861.0,350.4 859.5,353.4 857.6,356.3C855.8,359.2 853.8,362.0 851.5,364.5C849.3,367.1 846.8,369.6 844.1,371.7C841.4,373.8 838.5,375.8 835.5,377.4C832.5,379.0 829.2,380.3 826.0,381.4C822.8,382.6 819.4,383.4 816.1,384.1C812.8,384.8 809.5,385.3 806.1,385.8C802.8,386.3 799.4,386.7 796.0,386.9C792.6,387.0 789.2,387.0 785.8,386.7C782.4,386.4 778.9,385.9 775.6,385.1C772.3,384.3 769.0,383.3 765.7,382.0C762.5,380.8 759.4,379.3 756.3,377.7C753.3,376.1 750.3,374.3 747.4,372.3C744.6,370.3 741.7,368.2 739.2,365.8C736.6,363.4 734.2,360.8 732.1,358.0C730.0,355.3 728.1,352.2 726.5,349.1C724.9,346.0 723.5,342.8 722.4,339.5C721.3,336.2 720.7,332.7 720.0,329.4C719.3,326.0 718.7,322.6 718.2,319.2C717.7,315.8 717.3,312.4 717.2,309.0C717.1,305.6 717.2,302.1 717.5,298.7C717.9,295.3 718.5,291.8 719.5,288.5C720.4,285.2 721.7,281.9 723.3,278.9C724.9,275.8 726.9,273.0 729.0,270.3C731.1,267.6 733.5,265.2 735.9,262.9C738.3,260.6 741.0,258.6 743.5,256.5C746.1,254.5 748.7,252.7 751.4,250.8C754.0,249.0 756.5,247.0 759.3,245.5C762.1,243.9 765.1,242.7 768.1,241.7C771.1,240.6 774.2,239.8 777.3,239.1C780.3,238.3 783.4,237.6 786.5,237.0C789.7,236.5 792.8,235.8 796.0,235.5C799.2,235.2 802.5,235.1 805.7,235.3C808.9,235.6 812.2,236.2 815.3,237.0C818.4,237.9 821.4,239.2 824.4,240.5C827.3,241.8 830.2,243.4 832.9,245.0C835.7,246.7 838.4,248.5 841.0,250.3C843.7,252.1 846.4,254.0 848.9,256.1C851.4,258.2 853.9,260.5 855.9,263.1C857.9,265.6 859.5,268.6 861.0,271.5C862.5,274.4 863.7,277.5 864.7,280.5C865.7,283.6 866.4,286.8 867.1,290.0C867.7,293.1 868.2,296.3 868.6,299.4C868.9,302.6 869.2,305.8 869.2,309.0Z" stroke-width="0.97"/>
<path d="M871.3,309.0C871.4,312.3 871.4,315.6 871.3,318.9C871.1,322.2 870.9,325.6 870.4,328.9C870.0,332.3 869.5,335.7 868.5,339.0C867.6,342.3 866.2,345.5 864.8,348.7C863.3,351.9 861.7,355.0 859.9,358.0C858.0,361.0 855.9,363.9 853.6,366.6C851.3,369.3 848.7,371.8 845.9,374.0C843.1,376.2 840.1,378.2 836.9,379.9C833.8,381.6 830.4,382.9 827.1,384.0C823.7,385.2 820.3,386.1 816.9,386.8C813.4,387.6 810.0,388.1 806.5,388.7C803.0,389.2 799.5,389.7 796.0,389.9C792.5,390.1 788.9,390.0 785.4,389.7C781.9,389.3 778.3,388.7 774.9,387.9C771.4,387.0 768.0,385.8 764.8,384.4C761.5,383.1 758.3,381.5 755.2,379.7C752.0,378.0 748.9,376.2 746.0,374.2C743.0,372.1 740.1,370.0 737.4,367.6C734.7,365.2 732.1,362.6 729.9,359.7C727.7,356.9 725.7,353.8 724.0,350.6C722.2,347.4 720.7,344.1 719.6,340.7C718.4,337.3 717.7,333.7 717.0,330.2C716.2,326.7 715.5,323.2 715.0,319.7C714.5,316.1 714.1,312.6 714.0,309.0C713.9,305.4 714.0,301.8 714.5,298.3C714.9,294.7 715.6,291.1 716.7,287.7C717.7,284.3 719.1,281.0 720.8,277.9C722.5,274.7 724.7,271.8 726.9,269.1C729.0,266.3 731.5,263.8 734.0,261.4C736.5,259.0 739.1,256.9 741.8,254.8C744.4,252.7 747.1,250.7 749.8,248.8C752.5,246.9 755.1,244.8 758.0,243.3C760.9,241.7 764.1,240.5 767.2,239.4C770.3,238.4 773.5,237.6 776.7,236.9C779.8,236.1 783.0,235.4 786.2,234.8C789.5,234.2 792.7,233.5 796.0,233.2C799.3,232.9 802.7,232.6 806.0,232.9C809.3,233.1 812.7,233.7 815.9,234.5C819.2,235.4 822.3,236.7 825.4,238.1C828.4,239.4 831.4,241.0 834.3,242.7C837.2,244.4 840.0,246.2 842.7,248.1C845.5,250.0 848.4,251.9 850.9,254.1C853.5,256.3 856.0,258.7 858.1,261.4C860.1,264.1 861.8,267.2 863.2,270.2C864.6,273.3 865.7,276.5 866.7,279.7C867.7,282.9 868.3,286.2 868.9,289.5C869.6,292.7 870.1,295.9 870.5,299.2C870.9,302.5 871.2,305.7 871.3,309.0Z" stroke-width="1.27"/>
<path d="M874.6,309.0C874.8,312.4 874.8,315.9 874.6,319.3C874.4,322.8 874.2,326.3 873.7,329.8C873.2,333.3 872.6,336.9 871.6,340.3C870.6,343.8 869.2,347.1 867.7,350.4C866.2,353.7 864.5,357.0 862.6,360.1C860.6,363.2 858.4,366.2 855.9,368.9C853.5,371.7 850.8,374.3 847.9,376.6C845.0,379.0 841.9,381.0 838.6,382.8C835.3,384.5 831.9,386.0 828.4,387.2C824.9,388.4 821.3,389.4 817.8,390.2C814.2,391.0 810.6,391.6 806.9,392.1C803.3,392.6 799.7,393.1 796.0,393.2C792.3,393.3 788.6,393.2 785.0,392.8C781.3,392.4 777.6,391.7 774.1,390.9C770.5,390.0 766.9,388.8 763.5,387.5C760.0,386.1 756.7,384.6 753.3,382.9C750.0,381.2 746.7,379.4 743.6,377.3C740.4,375.3 737.3,373.0 734.5,370.5C731.6,368.0 728.9,365.2 726.6,362.3C724.3,359.3 722.2,356.0 720.4,352.6C718.7,349.3 717.1,345.7 716.0,342.2C714.8,338.6 714.1,334.8 713.4,331.1C712.7,327.5 712.1,323.8 711.7,320.1C711.2,316.4 710.9,312.7 710.9,309.0C710.9,305.3 711.0,301.5 711.5,297.9C712.0,294.2 712.7,290.5 713.8,287.0C714.8,283.4 716.2,279.9 717.8,276.6C719.5,273.4 721.7,270.3 723.9,267.4C726.1,264.5 728.6,261.8 731.2,259.3C733.8,256.8 736.6,254.6 739.4,252.4C742.2,250.2 745.0,248.2 747.8,246.2C750.7,244.3 753.5,242.2 756.5,240.6C759.5,239.0 762.8,237.7 766.0,236.6C769.2,235.4 772.5,234.6 775.9,233.8C779.2,233.0 782.4,232.2 785.8,231.6C789.2,230.9 792.6,230.2 796.0,229.8C799.4,229.5 803.0,229.3 806.5,229.5C809.9,229.8 813.4,230.4 816.8,231.4C820.2,232.3 823.4,233.7 826.6,235.1C829.8,236.6 832.8,238.2 835.8,240.0C838.8,241.8 841.7,243.8 844.5,245.8C847.3,247.8 850.2,249.9 852.8,252.2C855.4,254.5 857.9,257.1 860.0,259.9C862.1,262.7 863.8,265.9 865.3,269.0C866.8,272.1 868.0,275.4 869.1,278.7C870.2,282.0 871.0,285.3 871.8,288.7C872.6,292.0 873.2,295.4 873.7,298.8C874.2,302.2 874.5,305.6 874.6,309.0Z" stroke-width="1.22"/>
<path d="M877.2,309.0C877.4,312.5 877.4,316.1 877.2,319.7C877.1,323.3 876.8,326.9 876.2,330.5C875.7,334.1 875.2,337.8 874.1,341.4C873.1,344.9 871.6,348.4 870.1,351.8C868.5,355.2 866.8,358.6 864.8,361.8C862.8,365.0 860.5,368.1 858.0,371.0C855.5,373.9 852.7,376.6 849.7,379.0C846.7,381.4 843.5,383.5 840.1,385.4C836.7,387.2 833.1,388.7 829.5,390.0C825.9,391.2 822.2,392.2 818.5,393.1C814.8,393.9 811.1,394.5 807.3,395.0C803.6,395.5 799.8,395.9 796.0,396.0C792.2,396.1 788.4,395.9 784.6,395.5C780.8,395.1 777.1,394.4 773.4,393.5C769.7,392.5 766.0,391.3 762.5,390.0C758.9,388.6 755.4,387.1 751.9,385.4C748.5,383.7 745.0,381.8 741.7,379.7C738.4,377.7 735.1,375.4 732.2,372.8C729.2,370.3 726.4,367.4 723.9,364.3C721.5,361.2 719.4,357.8 717.6,354.3C715.7,350.8 714.2,347.1 713.0,343.4C711.8,339.7 711.2,335.7 710.5,331.9C709.7,328.1 709.1,324.3 708.7,320.5C708.3,316.7 708.0,312.8 708.0,309.0C708.0,305.2 708.2,301.3 708.7,297.5C709.2,293.7 710.0,289.9 711.1,286.2C712.2,282.6 713.5,278.9 715.2,275.6C717.0,272.2 719.1,268.9 721.4,265.9C723.7,262.9 726.3,260.1 729.0,257.6C731.6,255.0 734.6,252.7 737.5,250.5C740.3,248.2 743.3,246.2 746.2,244.1C749.2,242.1 752.1,240.0 755.2,238.3C758.3,236.7 761.7,235.4 765.0,234.3C768.4,233.1 771.8,232.3 775.2,231.4C778.6,230.5 782.0,229.7 785.5,229.0C788.9,228.3 792.4,227.5 796.0,227.1C799.6,226.8 803.2,226.5 806.8,226.8C810.4,227.0 814.1,227.7 817.5,228.7C821.0,229.6 824.4,231.1 827.6,232.6C830.9,234.1 834.1,235.9 837.1,237.8C840.2,239.6 843.1,241.7 846.0,243.8C848.9,246.0 851.8,248.1 854.5,250.5C857.1,253.0 859.7,255.6 861.9,258.5C864.0,261.4 865.7,264.7 867.2,267.9C868.8,271.1 870.0,274.5 871.2,277.9C872.3,281.2 873.2,284.7 874.0,288.1C874.9,291.5 875.6,295.0 876.1,298.5C876.6,301.9 877.0,305.5 877.2,309.0Z" stroke-width="1.27"/>
<path d="M880.0,309.0C880.2,312.7 880.1,316.3 879.9,320.0C879.7,323.7 879.4,327.5 878.9,331.2C878.3,334.9 877.7,338.8 876.7,342.4C875.6,346.1 874.1,349.7 872.6,353.2C871.0,356.7 869.2,360.3 867.2,363.6C865.1,366.9 862.7,370.2 860.2,373.2C857.6,376.1 854.7,379.0 851.6,381.5C848.5,384.0 845.1,386.2 841.7,388.1C838.2,390.0 834.5,391.5 830.7,392.9C827.0,394.2 823.2,395.2 819.3,396.0C815.5,396.9 811.6,397.4 807.7,397.9C803.8,398.4 799.9,398.9 796.0,399.0C792.1,399.1 788.1,398.8 784.2,398.4C780.3,398.0 776.4,397.3 772.6,396.4C768.8,395.5 765.0,394.3 761.2,392.9C757.5,391.6 753.8,390.0 750.2,388.3C746.6,386.6 743.0,384.7 739.6,382.6C736.1,380.4 732.7,378.1 729.6,375.4C726.5,372.7 723.6,369.7 721.1,366.5C718.6,363.2 716.5,359.6 714.6,356.0C712.8,352.4 711.2,348.5 710.0,344.6C708.8,340.8 708.2,336.7 707.5,332.7C706.8,328.8 706.2,324.8 705.8,320.9C705.4,316.9 705.1,313.0 705.1,309.0C705.1,305.0 705.3,301.0 705.8,297.1C706.3,293.2 707.0,289.2 708.1,285.5C709.2,281.7 710.6,277.9 712.3,274.3C714.1,270.8 716.3,267.5 718.7,264.4C721.0,261.2 723.7,258.4 726.5,255.7C729.3,253.0 732.4,250.7 735.4,248.4C738.4,246.1 741.5,244.0 744.5,241.9C747.6,239.9 750.6,237.7 753.8,236.0C757.1,234.2 760.5,232.9 764.0,231.7C767.4,230.5 770.9,229.6 774.5,228.6C778.0,227.7 781.5,226.9 785.1,226.1C788.7,225.4 792.3,224.5 796.0,224.2C799.7,223.8 803.5,223.6 807.2,223.8C810.9,224.1 814.7,224.9 818.3,225.9C821.8,227.0 825.3,228.5 828.7,230.1C832.0,231.7 835.3,233.6 838.4,235.6C841.5,237.5 844.5,239.7 847.5,241.9C850.4,244.1 853.5,246.3 856.2,248.8C858.9,251.3 861.6,254.0 863.8,257.0C866.0,260.0 867.7,263.3 869.3,266.7C871.0,270.0 872.4,273.4 873.6,276.9C874.8,280.3 875.8,283.9 876.7,287.4C877.5,290.9 878.3,294.5 878.9,298.1C879.4,301.7 879.8,305.3 880.0,309.0Z" stroke-width="1.20"/>
<path d="M882.5,309.0C882.8,312.8 882.7,316.6 882.5,320.4C882.3,324.2 881.9,328.0 881.3,331.9C880.8,335.7 880.1,339.6 879.0,343.4C877.9,347.2 876.4,350.8 874.8,354.5C873.2,358.1 871.5,361.8 869.4,365.3C867.3,368.8 865.0,372.2 862.3,375.3C859.7,378.5 856.8,381.4 853.6,384.0C850.4,386.6 846.9,388.9 843.3,390.9C839.7,392.8 835.8,394.4 831.9,395.7C828.0,397.0 824.0,398.0 820.1,398.8C816.1,399.7 812.1,400.2 808.1,400.7C804.1,401.1 800.0,401.6 796.0,401.6C792.0,401.7 787.9,401.4 783.9,400.9C779.9,400.4 775.9,399.6 772.0,398.7C768.0,397.7 764.2,396.5 760.3,395.1C756.5,393.8 752.7,392.3 748.9,390.6C745.1,388.9 741.3,387.1 737.7,385.0C734.0,382.9 730.4,380.6 727.1,377.9C723.9,375.1 720.8,372.0 718.2,368.7C715.6,365.3 713.4,361.6 711.5,357.8C709.6,354.0 708.1,349.9 706.9,345.9C705.8,341.8 705.2,337.6 704.5,333.5C703.9,329.4 703.3,325.3 702.9,321.3C702.5,317.2 702.2,313.1 702.2,309.0C702.2,304.9 702.4,300.8 702.9,296.7C703.5,292.7 704.3,288.6 705.4,284.7C706.6,280.8 708.0,276.9 709.8,273.3C711.6,269.7 713.9,266.2 716.3,263.0C718.8,259.8 721.5,256.8 724.4,254.1C727.3,251.3 730.4,248.9 733.5,246.5C736.6,244.2 739.8,242.1 743.0,240.0C746.2,237.9 749.3,235.7 752.7,233.9C756.0,232.2 759.6,230.9 763.1,229.6C766.7,228.4 770.3,227.4 773.9,226.4C777.5,225.4 781.1,224.4 784.7,223.5C788.4,222.7 792.2,221.7 796.0,221.2C799.8,220.7 803.8,220.4 807.6,220.7C811.5,221.0 815.4,221.8 819.1,223.0C822.7,224.1 826.3,225.8 829.7,227.6C833.2,229.3 836.5,231.3 839.7,233.4C842.8,235.5 845.9,237.8 848.9,240.1C851.9,242.4 855.0,244.7 857.7,247.3C860.5,249.9 863.2,252.7 865.4,255.8C867.6,258.8 869.4,262.3 871.0,265.7C872.7,269.1 874.1,272.6 875.3,276.1C876.6,279.7 877.7,283.2 878.6,286.9C879.6,290.5 880.5,294.1 881.2,297.8C881.8,301.5 882.3,305.2 882.5,309.0Z" stroke-width="1.08"/>
<path d="M885.2,309.0C885.4,312.9 885.3,316.8 885.1,320.7C884.8,324.6 884.4,328.6 883.8,332.5C883.2,336.5 882.6,340.5 881.5,344.4C880.4,348.3 878.9,352.1 877.3,355.9C875.7,359.7 874.0,363.6 871.9,367.2C869.8,370.8 867.4,374.4 864.7,377.7C861.9,380.9 858.9,384.0 855.6,386.7C852.3,389.3 848.6,391.7 844.9,393.7C841.1,395.6 837.1,397.2 833.1,398.5C829.1,399.9 824.9,400.8 820.8,401.7C816.7,402.5 812.6,403.0 808.4,403.5C804.3,404.0 800.2,404.4 796.0,404.5C791.8,404.5 787.7,404.3 783.5,403.8C779.4,403.3 775.3,402.6 771.2,401.7C767.1,400.8 763.0,399.6 759.0,398.3C755.0,397.0 751.0,395.5 747.1,393.8C743.1,392.1 739.1,390.2 735.3,388.0C731.6,385.8 727.8,383.4 724.4,380.6C721.1,377.7 718.0,374.4 715.3,370.9C712.7,367.4 710.5,363.4 708.6,359.4C706.8,355.5 705.2,351.3 704.1,347.1C702.9,342.9 702.3,338.5 701.6,334.3C701.0,330.0 700.3,325.9 699.9,321.7C699.5,317.4 699.1,313.2 699.1,309.0C699.1,304.8 699.3,300.5 699.8,296.3C700.4,292.2 701.2,287.9 702.3,283.9C703.5,279.9 705.0,275.8 706.8,272.1C708.7,268.3 711.1,264.7 713.6,261.4C716.1,258.1 719.0,255.0 722.0,252.2C725.0,249.4 728.3,246.9 731.5,244.5C734.8,242.1 738.1,240.0 741.4,237.8C744.7,235.7 747.8,233.4 751.3,231.6C754.7,229.7 758.4,228.3 762.0,227.0C765.7,225.6 769.4,224.6 773.1,223.5C776.8,222.4 780.5,221.3 784.3,220.4C788.2,219.5 792.1,218.5 796.0,218.0C799.9,217.6 804.1,217.3 808.0,217.7C812.0,218.1 816.0,219.1 819.8,220.3C823.5,221.6 827.2,223.4 830.7,225.3C834.2,227.1 837.5,229.3 840.8,231.4C844.0,233.6 847.1,235.9 850.2,238.3C853.3,240.7 856.5,243.0 859.3,245.7C862.2,248.4 865.0,251.2 867.3,254.3C869.6,257.4 871.4,261.0 873.2,264.4C874.9,267.9 876.4,271.5 877.8,275.1C879.1,278.7 880.3,282.4 881.3,286.1C882.3,289.9 883.3,293.6 883.9,297.4C884.6,301.2 885.0,305.1 885.2,309.0Z" stroke-width="0.96"/>
<path d="M887.3,309.0C887.5,313.0 887.3,317.0 887.1,321.0C886.9,325.0 886.5,329.0 885.9,333.1C885.4,337.1 884.8,341.3 883.7,345.3C882.7,349.4 881.2,353.3 879.5,357.2C877.9,361.1 876.1,365.1 874.0,368.8C871.8,372.5 869.3,376.2 866.5,379.5C863.7,382.8 860.5,386.0 857.1,388.7C853.8,391.4 850.0,393.8 846.2,395.9C842.3,397.9 838.2,399.5 834.1,400.9C830.0,402.3 825.7,403.4 821.5,404.2C817.3,405.1 813.1,405.7 808.8,406.2C804.5,406.7 800.3,407.2 796.0,407.4C791.7,407.5 787.4,407.3 783.1,406.8C778.8,406.4 774.5,405.8 770.3,404.9C766.1,404.0 761.9,402.8 757.7,401.5C753.5,400.1 749.4,398.5 745.4,396.7C741.3,394.9 737.3,392.9 733.4,390.5C729.6,388.2 725.8,385.5 722.5,382.5C719.1,379.5 716.0,376.1 713.3,372.5C710.6,368.8 708.4,364.8 706.4,360.7C704.5,356.6 702.9,352.4 701.6,348.1C700.4,343.8 699.8,339.3 699.0,335.0C698.3,330.6 697.6,326.3 697.1,322.0C696.7,317.7 696.3,313.3 696.3,309.0C696.3,304.7 696.4,300.3 697.0,296.0C697.5,291.7 698.3,287.3 699.5,283.1C700.7,279.0 702.2,274.8 704.1,270.9C706.0,267.1 708.5,263.4 711.1,260.0C713.7,256.6 716.7,253.4 719.8,250.6C722.9,247.7 726.4,245.2 729.7,242.7C733.0,240.2 736.4,238.0 739.8,235.8C743.2,233.5 746.4,231.1 749.9,229.2C753.4,227.3 757.2,225.7 760.9,224.4C764.7,223.0 768.5,221.9 772.4,220.8C776.2,219.7 780.1,218.7 784.0,217.9C787.9,217.0 792.0,216.1 796.0,215.7C800.0,215.4 804.2,215.2 808.3,215.7C812.3,216.2 816.4,217.2 820.3,218.5C824.1,219.8 827.8,221.6 831.4,223.5C835.0,225.4 838.4,227.5 841.8,229.7C845.2,231.9 848.3,234.2 851.5,236.6C854.7,239.0 858.0,241.4 860.9,244.1C863.9,246.8 866.8,249.6 869.3,252.8C871.7,256.0 873.6,259.6 875.5,263.1C877.3,266.7 878.9,270.4 880.2,274.1C881.6,277.8 882.7,281.7 883.7,285.5C884.7,289.3 885.6,293.2 886.2,297.1C886.8,301.0 887.2,305.0 887.3,309.0Z" stroke-width="0.98"/>
<path d="M889.2,309.0C889.3,313.1 889.2,317.1 889.0,321.2C888.7,325.3 888.4,329.5 887.8,333.6C887.3,337.8 886.8,342.0 885.7,346.2C884.7,350.3 883.2,354.4 881.5,358.4C879.9,362.4 878.1,366.5 875.9,370.3C873.7,374.1 871.1,377.8 868.2,381.2C865.3,384.6 862.1,387.8 858.6,390.6C855.1,393.4 851.3,395.8 847.3,397.9C843.4,400.0 839.2,401.7 835.0,403.1C830.8,404.5 826.4,405.6 822.1,406.5C817.8,407.4 813.5,408.0 809.1,408.6C804.8,409.2 800.4,409.7 796.0,409.9C791.6,410.0 787.2,409.9 782.8,409.5C778.4,409.1 774.0,408.4 769.6,407.5C765.2,406.6 760.9,405.5 756.6,404.1C752.3,402.7 748.1,401.0 744.0,399.1C739.8,397.2 735.7,395.2 731.8,392.7C727.9,390.3 724.0,387.5 720.6,384.4C717.2,381.3 714.0,377.7 711.3,374.0C708.6,370.3 706.3,366.1 704.3,361.9C702.3,357.8 700.6,353.4 699.3,349.0C698.1,344.7 697.4,340.1 696.6,335.6C695.8,331.2 695.1,326.8 694.6,322.3C694.1,317.9 693.7,313.5 693.7,309.0C693.7,304.5 693.9,300.1 694.4,295.6C695.0,291.2 695.8,286.8 697.0,282.5C698.2,278.2 699.8,273.9 701.8,270.0C703.8,266.0 706.3,262.2 709.0,258.8C711.7,255.3 714.8,252.1 718.0,249.1C721.2,246.2 724.7,243.6 728.1,241.1C731.5,238.6 735.0,236.3 738.4,233.9C741.8,231.6 745.1,229.1 748.7,227.1C752.3,225.2 756.2,223.6 760.0,222.1C763.9,220.7 767.8,219.6 771.8,218.5C775.7,217.4 779.7,216.4 783.7,215.6C787.7,214.8 791.9,213.9 796.0,213.6C800.1,213.3 804.4,213.2 808.5,213.7C812.7,214.2 816.8,215.3 820.8,216.6C824.7,218.0 828.5,219.9 832.1,221.8C835.8,223.7 839.3,225.9 842.7,228.1C846.2,230.3 849.4,232.7 852.7,235.1C856.0,237.5 859.3,239.9 862.4,242.6C865.4,245.4 868.4,248.3 870.9,251.5C873.4,254.8 875.4,258.4 877.3,262.1C879.1,265.7 880.8,269.5 882.2,273.3C883.6,277.1 884.7,281.0 885.7,285.0C886.7,288.9 887.6,292.9 888.1,296.9C888.7,300.9 889.1,304.9 889.2,309.0Z" stroke-width="1.21"/>
<path d="M892.0,309.0C892.1,313.2 892.0,317.4 891.8,321.6C891.5,325.8 891.2,330.1 890.7,334.4C890.2,338.7 889.7,343.1 888.7,347.4C887.6,351.7 886.1,355.9 884.5,360.1C882.8,364.2 880.9,368.5 878.7,372.4C876.4,376.4 873.7,380.2 870.8,383.8C867.8,387.3 864.4,390.6 860.8,393.5C857.2,396.3 853.2,398.9 849.1,401.1C845.1,403.2 840.7,404.9 836.4,406.5C832.0,408.0 827.5,409.1 823.1,410.1C818.6,411.1 814.1,411.7 809.6,412.3C805.1,412.9 800.6,413.6 796.0,413.7C791.4,413.9 786.8,413.8 782.3,413.4C777.7,413.0 773.1,412.3 768.6,411.4C764.0,410.5 759.5,409.3 755.1,407.8C750.6,406.3 746.2,404.6 742.0,402.6C737.7,400.6 733.4,398.4 729.4,395.9C725.3,393.3 721.4,390.4 717.8,387.2C714.3,383.9 711.0,380.2 708.2,376.4C705.4,372.5 703.0,368.2 701.0,363.9C698.9,359.6 697.1,355.1 695.8,350.5C694.4,346.0 693.7,341.2 692.9,336.6C692.1,332.0 691.3,327.5 690.8,322.8C690.3,318.2 689.9,313.6 689.9,309.0C689.9,304.4 690.1,299.7 690.7,295.1C691.3,290.6 692.1,285.9 693.4,281.5C694.6,277.1 696.2,272.6 698.3,268.5C700.4,264.4 703.0,260.5 705.8,256.9C708.6,253.3 711.8,250.0 715.1,246.9C718.4,243.9 722.1,241.2 725.6,238.6C729.1,236.0 732.7,233.6 736.3,231.2C739.9,228.8 743.3,226.1 747.0,224.1C750.7,222.1 754.7,220.4 758.7,218.9C762.7,217.5 766.8,216.3 770.9,215.2C775.0,214.2 779.1,213.2 783.3,212.4C787.5,211.6 791.7,210.7 796.0,210.4C800.3,210.1 804.7,210.1 808.9,210.7C813.2,211.2 817.5,212.3 821.5,213.8C825.6,215.2 829.4,217.2 833.2,219.1C837.0,221.1 840.6,223.3 844.2,225.6C847.7,227.9 851.1,230.3 854.5,232.8C857.8,235.3 861.3,237.7 864.5,240.5C867.6,243.4 870.7,246.4 873.3,249.7C875.9,253.0 877.9,256.8 879.8,260.6C881.8,264.3 883.4,268.3 884.8,272.2C886.3,276.1 887.4,280.2 888.4,284.2C889.4,288.3 890.3,292.4 890.9,296.5C891.5,300.6 891.8,304.8 892.0,309.0Z" stroke-width="1.35"/>
</g>
<circle cx="796" cy="309" r="60" fill="url(#rg)" mask="url(#mb)"/>
<path d="M799.5,207.2C796.0,207.6 791.6,208.4 787.6,209.2C783.6,210.0 779.6,211.1 775.6,212.0C771.6,212.9 767.7,213.7 763.7,214.9C759.7,216.1 755.3,217.6 751.7,219.1C748.1,220.6 745.1,222.1 742.1,223.9C739.1,225.7 737.2,227.5 733.8,229.9C730.4,232.3 725.8,235.2 721.8,238.2C717.8,241.2 713.3,244.6 709.9,247.8C706.5,251.0 704.1,253.8 701.5,257.4C698.9,261.0 696.3,264.9 694.3,269.3C692.3,273.7 690.8,278.3 689.6,283.7C688.4,289.1 687.5,295.7 687.2,301.6C686.9,307.5 687.2,313.8 687.6,319.3C688.0,324.9 688.7,329.3 689.6,334.9C690.5,340.5 691.5,347.4 693.1,352.8C694.7,358.2 696.7,362.5 699.1,367.1C701.5,371.7 704.3,376.3 707.5,380.3C710.7,384.3 714.4,387.9 718.2,391.1C722.0,394.3 725.8,396.8 730.2,399.4C734.6,402.0 739.3,404.4 744.5,406.6C749.7,408.8 756.1,411.1 761.3,412.6C766.5,414.1 771.2,414.9 775.6,415.6C780.0,416.3 783.6,416.5 787.6,416.7C791.6,416.9 796.0,416.9 799.5,416.7C803.0,416.5 804.4,416.3 808.9,415.6C813.4,414.9 821.2,413.9 826.8,412.6C832.4,411.3 837.4,409.8 842.4,407.8C847.4,405.8 852.3,403.4 856.7,400.6C861.1,397.8 864.9,394.7 868.7,391.1C872.5,387.5 876.2,383.5 879.4,379.1C882.6,374.7 885.4,369.6 887.8,364.8C890.2,360.0 892.3,355.4 893.8,350.4C895.3,345.4 896.0,340.5 896.7,334.9C897.4,329.3 897.7,322.4 897.9,317.0C898.1,311.6 898.3,307.4 897.9,302.6C897.5,297.8 896.7,293.4 895.6,288.2C894.5,283.0 893.1,276.7 891.4,271.5C889.7,266.3 887.6,261.5 885.4,257.1C883.2,252.7 881.0,248.8 878.2,245.2C875.4,241.6 872.3,238.7 868.7,235.6C865.1,232.5 860.7,229.5 856.7,226.7C852.7,223.9 848.8,221.2 844.8,218.9C840.8,216.6 836.8,214.6 832.8,212.9C828.8,211.2 824.9,209.7 820.9,208.7C816.9,207.7 812.5,207.2 808.9,207.0C805.3,206.8 803.0,206.8 799.5,207.2Z" fill="none" stroke="#b8c16a" stroke-width="2.1" stroke-linejoin="round"/>
<path d="M799.5,207.2C796.0,207.6 791.6,208.4 787.6,209.2C783.6,210.0 779.6,211.1 775.6,212.0C771.6,212.9 767.7,213.7 763.7,214.9C759.7,216.1 755.3,217.6 751.7,219.1C748.1,220.6 745.1,222.1 742.1,223.9C739.1,225.7 737.2,227.5 733.8,229.9C730.4,232.3 725.8,235.2 721.8,238.2C717.8,241.2 713.3,244.6 709.9,247.8C706.5,251.0 704.1,253.8 701.5,257.4C698.9,261.0 696.3,264.9 694.3,269.3C692.3,273.7 690.8,278.3 689.6,283.7C688.4,289.1 687.5,295.7 687.2,301.6C686.9,307.5 687.2,313.8 687.6,319.3C688.0,324.9 688.7,329.3 689.6,334.9C690.5,340.5 691.5,347.4 693.1,352.8C694.7,358.2 696.7,362.5 699.1,367.1C701.5,371.7 704.3,376.3 707.5,380.3C710.7,384.3 714.4,387.9 718.2,391.1C722.0,394.3 725.8,396.8 730.2,399.4C734.6,402.0 739.3,404.4 744.5,406.6C749.7,408.8 756.1,411.1 761.3,412.6C766.5,414.1 771.2,414.9 775.6,415.6C780.0,416.3 783.6,416.5 787.6,416.7C791.6,416.9 796.0,416.9 799.5,416.7C803.0,416.5 804.4,416.3 808.9,415.6C813.4,414.9 821.2,413.9 826.8,412.6C832.4,411.3 837.4,409.8 842.4,407.8C847.4,405.8 852.3,403.4 856.7,400.6C861.1,397.8 864.9,394.7 868.7,391.1C872.5,387.5 876.2,383.5 879.4,379.1C882.6,374.7 885.4,369.6 887.8,364.8C890.2,360.0 892.3,355.4 893.8,350.4C895.3,345.4 896.0,340.5 896.7,334.9C897.4,329.3 897.7,322.4 897.9,317.0C898.1,311.6 898.3,307.4 897.9,302.6C897.5,297.8 896.7,293.4 895.6,288.2C894.5,283.0 893.1,276.7 891.4,271.5C889.7,266.3 887.6,261.5 885.4,257.1C883.2,252.7 881.0,248.8 878.2,245.2C875.4,241.6 872.3,238.7 868.7,235.6C865.1,232.5 860.7,229.5 856.7,226.7C852.7,223.9 848.8,221.2 844.8,218.9C840.8,216.6 836.8,214.6 832.8,212.9C828.8,211.2 824.9,209.7 820.9,208.7C816.9,207.7 812.5,207.2 808.9,207.0C805.3,206.8 803.0,206.8 799.5,207.2Z" fill="none" stroke="#b8c16a" stroke-width="3.4" stroke-linejoin="round" mask="url(#mo)"/>
</svg>
<div class="t" style="left:731.00px;top:268.99px;font-size:15.6px;line-height:15.6px;color:#3f3f3f;letter-spacing:0.009px;transform-origin:0 0;transform:scaleX(1.08);-webkit-text-stroke:0.35px #3f3f3f;">Carbon</div>
<div class="t" style="left:791.60px;top:268.99px;font-size:15.6px;line-height:15.6px;color:#3f3f3f;letter-spacing:0.326px;transform-origin:0 0;transform:scaleX(1.08);-webkit-text-stroke:0.35px #3f3f3f;">Capture</div>
<div class="t" style="left:728.25px;top:287.79px;font-size:15.6px;line-height:15.6px;color:#3f3f3f;letter-spacing:0.169px;transform-origin:0 0;transform:scaleX(1.08);-webkit-text-stroke:0.35px #3f3f3f;">Breakeven</div>
<div class="t" style="left:815.75px;top:287.79px;font-size:15.6px;line-height:15.6px;color:#3f3f3f;letter-spacing:0.481px;transform-origin:0 0;transform:scaleX(1.08);-webkit-text-stroke:0.35px #3f3f3f;">Point</div>
<div class="t" style="left:717.95px;top:306.09px;font-size:15.6px;line-height:15.6px;color:#3f3f3f;letter-spacing:0.770px;transform-origin:0 0;transform:scaleX(1.08);-webkit-text-stroke:0.35px #3f3f3f;">(from</div>
<div class="t" style="left:766.67px;top:306.09px;font-size:15.6px;line-height:15.6px;color:#3f3f3f;letter-spacing:0.400px;transform-origin:0 0;transform:scaleX(1.08);-webkit-text-stroke:0.35px #3f3f3f;">propagation)</div>
<div class="t" style="left:734.50px;top:335.74px;font-size:40px;line-height:40px;color:#3a3a3a;letter-spacing:-0.924px;-webkit-text-stroke:0.6px #3a3a3a;">1</div>
<div class="t" style="left:768.07px;top:335.74px;font-size:40px;line-height:40px;color:#3a3a3a;letter-spacing:0.404px;-webkit-text-stroke:0.6px #3a3a3a;">year</div>
<div class="t" style="left:111.80px;top:673.93px;font-size:15.8px;line-height:15.8px;color:#3f3f3f;letter-spacing:-0.295px;transform-origin:0 0;transform:scaleX(1.07);-webkit-text-stroke:0.2px #3f3f3f;">This</div>
<div class="t" style="left:147.56px;top:673.93px;font-size:15.8px;line-height:15.8px;color:#3f3f3f;letter-spacing:-0.011px;transform-origin:0 0;transform:scaleX(1.07);-webkit-text-stroke:0.2px #3f3f3f;">diagram</div>
<div class="t" style="left:213.64px;top:673.93px;font-size:15.8px;line-height:15.8px;color:#3f3f3f;letter-spacing:-0.635px;transform-origin:0 0;transform:scaleX(1.07);-webkit-text-stroke:0.2px #3f3f3f;">shows</div>
<div class="t" style="left:263.24px;top:673.93px;font-size:15.8px;line-height:15.8px;color:#3f3f3f;letter-spacing:0.500px;transform-origin:0 0;transform:scaleX(1.07);-webkit-text-stroke:0.2px #3f3f3f;">the</div>
<div class="t" style="left:293.43px;top:673.93px;font-size:15.8px;line-height:15.8px;color:#3f3f3f;letter-spacing:0.511px;transform-origin:0 0;transform:scaleX(1.07);-webkit-text-stroke:0.2px #3f3f3f;">rate</div>
<div class="t" style="left:329.83px;top:673.93px;font-size:15.8px;line-height:15.8px;color:#3f3f3f;letter-spacing:0.678px;transform-origin:0 0;transform:scaleX(1.07);-webkit-text-stroke:0.2px #3f3f3f;">at</div>
<div class="t" style="left:350.46px;top:673.93px;font-size:15.8px;line-height:15.8px;color:#3f3f3f;letter-spacing:0.176px;transform-origin:0 0;transform:scaleX(1.07);-webkit-text-stroke:0.2px #3f3f3f;">which</div>
<div class="t" style="left:399.71px;top:673.93px;font-size:15.8px;line-height:15.8px;color:#3f3f3f;letter-spacing:0.500px;transform-origin:0 0;transform:scaleX(1.07);-webkit-text-stroke:0.2px #3f3f3f;">the</div>
<div class="t" style="left:429.89px;top:673.93px;font-size:15.8px;line-height:15.8px;color:#3f3f3f;letter-spacing:0.590px;transform-origin:0 0;transform:scaleX(1.07);-webkit-text-stroke:0.2px #3f3f3f;">tree</div>
<div class="t" style="left:466.63px;top:673.93px;font-size:15.8px;line-height:15.8px;color:#3f3f3f;letter-spacing:0.901px;transform-origin:0 0;transform:scaleX(1.07);-webkit-text-stroke:0.2px #3f3f3f;">will</div>
<div class="t" style="left:499.05px;top:673.93px;font-size:15.8px;line-height:15.8px;color:#3f3f3f;letter-spacing:0.145px;transform-origin:0 0;transform:scaleX(1.07);-webkit-text-stroke:0.2px #3f3f3f;">store</div>
<div class="t" style="left:542.49px;top:673.93px;font-size:15.8px;line-height:15.8px;color:#3f3f3f;letter-spacing:-0.034px;transform-origin:0 0;transform:scaleX(1.07);-webkit-text-stroke:0.2px #3f3f3f;">carbon</div>
<div class="t" style="left:599.05px;top:673.93px;font-size:15.8px;line-height:15.8px;color:#3f3f3f;letter-spacing:-1.007px;transform-origin:0 0;transform:scaleX(1.07);-webkit-text-stroke:0.2px #3f3f3f;">as</div>
<div class="t" style="left:619.83px;top:673.93px;font-size:15.8px;line-height:15.8px;color:#3f3f3f;letter-spacing:-0.503px;transform-origin:0 0;transform:scaleX(1.07);-webkit-text-stroke:0.2px #3f3f3f;">a</div>
<div class="t" style="left:633.78px;top:673.93px;font-size:15.8px;line-height:15.8px;color:#3f3f3f;letter-spacing:0.252px;transform-origin:0 0;transform:scaleX(1.07);-webkit-text-stroke:0.2px #3f3f3f;">dry</div>
<div class="t" style="left:663.15px;top:673.93px;font-size:15.8px;line-height:15.8px;color:#3f3f3f;letter-spacing:0.325px;transform-origin:0 0;transform:scaleX(1.07);-webkit-text-stroke:0.2px #3f3f3f;">weight</div>
<div class="t" style="left:719.19px;top:673.93px;font-size:15.8px;line-height:15.8px;color:#3f3f3f;letter-spacing:0.051px;transform-origin:0 0;transform:scaleX(1.07);-webkit-text-stroke:0.2px #3f3f3f;">over</div>
<div class="t" style="left:757.38px;top:673.93px;font-size:15.8px;line-height:15.8px;color:#3f3f3f;letter-spacing:0.445px;transform-origin:0 0;transform:scaleX(1.07);-webkit-text-stroke:0.2px #3f3f3f;">its</div>
<div class="t" style="left:780.79px;top:673.93px;font-size:15.8px;line-height:15.8px;color:#3f3f3f;letter-spacing:0.385px;transform-origin:0 0;transform:scaleX(1.07);-webkit-text-stroke:0.2px #3f3f3f;">anticipated</div>
<div class="t" style="left:111.80px;top:695.93px;font-size:15.8px;line-height:15.8px;color:#3f3f3f;letter-spacing:0.118px;transform-origin:0 0;transform:scaleX(1.07);-webkit-text-stroke:0.2px #3f3f3f;">lifespan</div>
<div class="t" style="left:176.14px;top:695.93px;font-size:15.8px;line-height:15.8px;color:#3f3f3f;letter-spacing:-0.266px;transform-origin:0 0;transform:scaleX(1.07);-webkit-text-stroke:0.2px #3f3f3f;">and</div>
<div class="t" style="left:208.55px;top:695.93px;font-size:15.8px;line-height:15.8px;color:#3f3f3f;letter-spacing:0.462px;transform-origin:0 0;transform:scaleX(1.07);-webkit-text-stroke:0.2px #3f3f3f;">the</div>
<div class="t" style="left:238.59px;top:695.93px;font-size:15.8px;line-height:15.8px;color:#3f3f3f;letter-spacing:-0.559px;transform-origin:0 0;transform:scaleX(1.07);-webkit-text-stroke:0.2px #3f3f3f;">age</div>
<div class="t" style="left:270.06px;top:695.93px;font-size:15.8px;line-height:15.8px;color:#3f3f3f;letter-spacing:0.643px;transform-origin:0 0;transform:scaleX(1.07);-webkit-text-stroke:0.2px #3f3f3f;">at</div>
<div class="t" style="left:290.59px;top:695.93px;font-size:15.8px;line-height:15.8px;color:#3f3f3f;letter-spacing:0.137px;transform-origin:0 0;transform:scaleX(1.07);-webkit-text-stroke:0.2px #3f3f3f;">which</div>
<div class="t" style="left:339.61px;top:695.93px;font-size:15.8px;line-height:15.8px;color:#3f3f3f;letter-spacing:0.462px;transform-origin:0 0;transform:scaleX(1.07);-webkit-text-stroke:0.2px #3f3f3f;">the</div>
<div class="t" style="left:369.65px;top:695.93px;font-size:15.8px;line-height:15.8px;color:#3f3f3f;letter-spacing:0.554px;transform-origin:0 0;transform:scaleX(1.07);-webkit-text-stroke:0.2px #3f3f3f;">tree</div>
<div class="t" style="left:406.21px;top:695.93px;font-size:15.8px;line-height:15.8px;color:#3f3f3f;letter-spacing:0.871px;transform-origin:0 0;transform:scaleX(1.07);-webkit-text-stroke:0.2px #3f3f3f;">will</div>
<div class="t" style="left:438.47px;top:695.93px;font-size:15.8px;line-height:15.8px;color:#3f3f3f;letter-spacing:0.472px;transform-origin:0 0;transform:scaleX(1.07);-webkit-text-stroke:0.2px #3f3f3f;">offset</div>
<div class="t" style="left:487.60px;top:695.93px;font-size:15.8px;line-height:15.8px;color:#3f3f3f;letter-spacing:0.462px;transform-origin:0 0;transform:scaleX(1.07);-webkit-text-stroke:0.2px #3f3f3f;">the</div>
<div class="t" style="left:517.64px;top:695.93px;font-size:15.8px;line-height:15.8px;color:#3f3f3f;letter-spacing:-0.072px;transform-origin:0 0;transform:scaleX(1.07);-webkit-text-stroke:0.2px #3f3f3f;">carbon</div>
<div class="t" style="left:573.93px;top:695.93px;font-size:15.8px;line-height:15.8px;color:#3f3f3f;letter-spacing:1.397px;transform-origin:0 0;transform:scaleX(1.07);-webkit-text-stroke:0.2px #3f3f3f;">it</div>
<div class="t" style="left:590.43px;top:695.93px;font-size:15.8px;line-height:15.8px;color:#3f3f3f;letter-spacing:0.283px;transform-origin:0 0;transform:scaleX(1.07);-webkit-text-stroke:0.2px #3f3f3f;">took</div>
<div class="t" style="left:628.66px;top:695.93px;font-size:15.8px;line-height:15.8px;color:#3f3f3f;letter-spacing:0.737px;transform-origin:0 0;transform:scaleX(1.07);-webkit-text-stroke:0.2px #3f3f3f;">to</div>
<div class="t" style="left:649.39px;top:695.93px;font-size:15.8px;line-height:15.8px;color:#3f3f3f;letter-spacing:0.421px;transform-origin:0 0;transform:scaleX(1.07);-webkit-text-stroke:0.2px #3f3f3f;">grow,</div>
<div class="t" style="left:697.11px;top:695.93px;font-size:15.8px;line-height:15.8px;color:#3f3f3f;letter-spacing:0.319px;transform-origin:0 0;transform:scaleX(1.07);-webkit-text-stroke:0.2px #3f3f3f;">deliver</div>
<div class="t" style="left:754.36px;top:695.93px;font-size:15.8px;line-height:15.8px;color:#3f3f3f;letter-spacing:-0.266px;transform-origin:0 0;transform:scaleX(1.07);-webkit-text-stroke:0.2px #3f3f3f;">and</div>
<div class="t" style="left:786.77px;top:695.93px;font-size:15.8px;line-height:15.8px;color:#3f3f3f;letter-spacing:0.431px;transform-origin:0 0;transform:scaleX(1.07);-webkit-text-stroke:0.2px #3f3f3f;">plant</div>
<div class="t" style="left:830.79px;top:695.93px;font-size:15.8px;line-height:15.8px;color:#3f3f3f;letter-spacing:1.389px;transform-origin:0 0;transform:scaleX(1.07);-webkit-text-stroke:0.2px #3f3f3f;">it.</div>
<div class="t" style="left:559.90px;top:752.04px;font-size:22.4px;line-height:22.4px;color:#000;transform-origin:0 0;transform:scaleX(0.9728);">Barcham</div>
<div class="t" style="left:560.60px;top:778.54px;font-size:22.4px;line-height:22.4px;color:#000;transform-origin:0 0;transform:scaleX(0.9792);">Species Ranking</div>
<div class="t" style="left:791.30px;top:782.50px;font-size:28.0px;line-height:28.0px;color:#000;transform-origin:0 0;transform:scaleX(1.0319);">311/553</div>
<div class="t" style="left:111.60px;top:943.35px;font-size:16.6px;line-height:16.6px;color:#404040;letter-spacing:-0.273px;transform-origin:0 0;transform:scaleX(1.03);">Over</div>
<div class="t" style="left:152.63px;top:943.35px;font-size:16.6px;line-height:16.6px;color:#404040;letter-spacing:0.363px;transform-origin:0 0;transform:scaleX(1.03);">the</div>
<div class="t" style="left:182.63px;top:943.35px;font-size:16.6px;line-height:16.6px;color:#404040;letter-spacing:-0.145px;transform-origin:0 0;transform:scaleX(1.03);">past</div>
<div class="t" style="left:219.46px;top:943.35px;font-size:16.6px;line-height:16.6px;color:#404040;letter-spacing:-0.212px;transform-origin:0 0;transform:scaleX(1.03);">10</div>
<div class="t" style="left:243.14px;top:943.35px;font-size:16.6px;line-height:16.6px;color:#404040;letter-spacing:-0.361px;transform-origin:0 0;transform:scaleX(1.03);">years,</div>
<div class="t" style="left:292.58px;top:943.35px;font-size:16.6px;line-height:16.6px;color:#404040;letter-spacing:-0.124px;transform-origin:0 0;transform:scaleX(1.03);">measurements</div>
<div class="t" style="left:409.24px;top:943.35px;font-size:16.6px;line-height:16.6px;color:#404040;letter-spacing:0.509px;transform-origin:0 0;transform:scaleX(1.03);">from</div>
<div class="t" style="left:450.64px;top:943.35px;font-size:16.6px;line-height:16.6px;color:#404040;letter-spacing:-0.157px;transform-origin:0 0;transform:scaleX(1.03);">thousands</div>
<div class="t" style="left:533.19px;top:943.35px;font-size:16.6px;line-height:16.6px;color:#404040;letter-spacing:0.486px;transform-origin:0 0;transform:scaleX(1.03);">of</div>
<div class="t" style="left:553.56px;top:943.35px;font-size:16.6px;line-height:16.6px;color:#404040;letter-spacing:0.064px;transform-origin:0 0;transform:scaleX(1.03);">urban</div>
<div class="t" style="left:602.73px;top:943.35px;font-size:16.6px;line-height:16.6px;color:#404040;letter-spacing:-0.014px;transform-origin:0 0;transform:scaleX(1.03);">trees</div>
<div class="t" style="left:645.78px;top:943.35px;font-size:16.6px;line-height:16.6px;color:#404040;letter-spacing:-0.307px;transform-origin:0 0;transform:scaleX(1.03);">have</div>
<div class="t" style="left:686.69px;top:943.35px;font-size:16.6px;line-height:16.6px;color:#404040;letter-spacing:-0.130px;transform-origin:0 0;transform:scaleX(1.03);">been</div>
<div class="t" style="left:729.30px;top:943.35px;font-size:16.6px;line-height:16.6px;color:#404040;letter-spacing:0.012px;transform-origin:0 0;transform:scaleX(1.03);">collected</div>
<div class="t" style="left:802.00px;top:943.35px;font-size:16.6px;line-height:16.6px;color:#404040;letter-spacing:0.257px;transform-origin:0 0;transform:scaleX(1.03);">in</div>
<div class="t" style="left:820.94px;top:943.35px;font-size:16.6px;line-height:16.6px;color:#404040;letter-spacing:0.203px;transform-origin:0 0;transform:scaleX(1.03);">towns</div>
<div class="t" style="left:871.76px;top:943.35px;font-size:16.6px;line-height:16.6px;color:#404040;letter-spacing:-0.157px;transform-origin:0 0;transform:scaleX(1.03);">and</div>
<div class="t" style="left:111.60px;top:970.48px;font-size:16.6px;line-height:16.6px;color:#404040;letter-spacing:-0.059px;transform-origin:0 0;transform:scaleX(1.03);">cities</div>
<div class="t" style="left:154.88px;top:970.48px;font-size:16.6px;line-height:16.6px;color:#404040;letter-spacing:-0.556px;transform-origin:0 0;transform:scaleX(1.03);">across</div>
<div class="t" style="left:206.49px;top:970.48px;font-size:16.6px;line-height:16.6px;color:#404040;letter-spacing:0.363px;transform-origin:0 0;transform:scaleX(1.03);">the</div>
<div class="t" style="left:236.06px;top:970.48px;font-size:16.6px;line-height:16.6px;color:#404040;letter-spacing:-1.198px;transform-origin:0 0;transform:scaleX(1.03);">UK</div>
<div class="t" style="left:262.03px;top:970.48px;font-size:16.6px;line-height:16.6px;color:#404040;letter-spacing:-0.064px;transform-origin:0 0;transform:scaleX(1.03);">by</div>
<div class="t" style="left:284.64px;top:970.48px;font-size:16.6px;line-height:16.6px;color:#404040;letter-spacing:-0.218px;transform-origin:0 0;transform:scaleX(1.03);">Treeconomics</div>
<div class="t" style="left:393.37px;top:970.48px;font-size:16.6px;line-height:16.6px;color:#404040;letter-spacing:-0.157px;transform-origin:0 0;transform:scaleX(1.03);">and</div>
<div class="t" style="left:426.10px;top:970.48px;font-size:16.6px;line-height:16.6px;color:#404040;letter-spacing:0.135px;transform-origin:0 0;transform:scaleX(1.03);">its</div>
<div class="t" style="left:448.29px;top:970.48px;font-size:16.6px;line-height:16.6px;color:#404040;letter-spacing:0.245px;transform-origin:0 0;transform:scaleX(1.03);">project</div>
<div class="t" style="left:506.06px;top:970.48px;font-size:16.6px;line-height:16.6px;color:#404040;letter-spacing:0.044px;transform-origin:0 0;transform:scaleX(1.03);">partners.</div>
<div class="t" style="left:578.62px;top:970.48px;font-size:16.6px;line-height:16.6px;color:#404040;letter-spacing:-0.573px;transform-origin:0 0;transform:scaleX(1.03);">This</div>
<div class="t" style="left:613.25px;top:970.48px;font-size:16.6px;line-height:16.6px;color:#404040;letter-spacing:0.114px;transform-origin:0 0;transform:scaleX(1.03);">detailed</div>
<div class="t" style="left:678.77px;top:970.48px;font-size:16.6px;line-height:16.6px;color:#404040;letter-spacing:0.351px;transform-origin:0 0;transform:scaleX(1.03);">information</div>
<div class="t" style="left:772.00px;top:970.48px;font-size:16.6px;line-height:16.6px;color:#404040;letter-spacing:0.135px;transform-origin:0 0;transform:scaleX(1.03);">on</div>
<div class="t" style="left:795.98px;top:970.48px;font-size:16.6px;line-height:16.6px;color:#404040;letter-spacing:0.318px;transform-origin:0 0;transform:scaleX(1.03);">tree</div>
<div class="t" style="left:831.44px;top:970.48px;font-size:16.6px;line-height:16.6px;color:#404040;letter-spacing:0.199px;transform-origin:0 0;transform:scaleX(1.03);">structure</div>
<div class="t" style="left:111.60px;top:997.61px;font-size:16.6px;line-height:16.6px;color:#404040;letter-spacing:0.055px;transform-origin:0 0;transform:scaleX(1.03);">(height,</div>
<div class="t" style="left:174.44px;top:997.61px;font-size:16.6px;line-height:16.6px;color:#404040;letter-spacing:0.410px;transform-origin:0 0;transform:scaleX(1.03);">trunk</div>
<div class="t" style="left:219.92px;top:997.61px;font-size:16.6px;line-height:16.6px;color:#404040;letter-spacing:0.245px;transform-origin:0 0;transform:scaleX(1.03);">diameter,</div>
<div class="t" style="left:297.88px;top:997.61px;font-size:16.6px;line-height:16.6px;color:#404040;letter-spacing:-0.483px;transform-origin:0 0;transform:scaleX(1.03);">species,</div>
<div class="t" style="left:361.98px;top:997.61px;font-size:16.6px;line-height:16.6px;color:#404040;letter-spacing:0.181px;transform-origin:0 0;transform:scaleX(1.03);">crown</div>
<div class="t" style="left:413.87px;top:997.61px;font-size:16.6px;line-height:16.6px;color:#404040;letter-spacing:-0.137px;transform-origin:0 0;transform:scaleX(1.03);">dimensions</div>
<div class="t" style="left:504.30px;top:997.61px;font-size:16.6px;line-height:16.6px;color:#404040;letter-spacing:0.016px;transform-origin:0 0;transform:scaleX(1.03);">etc)</div>
<div class="t" style="left:538.23px;top:997.61px;font-size:16.6px;line-height:16.6px;color:#404040;letter-spacing:-0.643px;transform-origin:0 0;transform:scaleX(1.03);">has</div>
<div class="t" style="left:569.16px;top:997.61px;font-size:16.6px;line-height:16.6px;color:#404040;letter-spacing:-0.130px;transform-origin:0 0;transform:scaleX(1.03);">been</div>
<div class="t" style="left:612.02px;top:997.61px;font-size:16.6px;line-height:16.6px;color:#404040;letter-spacing:0.304px;transform-origin:0 0;transform:scaleX(1.03);">run</div>
<div class="t" style="left:643.03px;top:997.61px;font-size:16.6px;line-height:16.6px;color:#404040;letter-spacing:0.239px;transform-origin:0 0;transform:scaleX(1.03);">through</div>
<div class="t" style="left:708.10px;top:997.61px;font-size:16.6px;line-height:16.6px;color:#404040;letter-spacing:-0.708px;transform-origin:0 0;transform:scaleX(1.03);">a</div>
<div class="t" style="left:722.23px;top:997.61px;font-size:16.6px;line-height:16.6px;color:#404040;letter-spacing:-0.042px;transform-origin:0 0;transform:scaleX(1.03);">sophisticated</div>
<div class="t" style="left:826.83px;top:997.61px;font-size:16.6px;line-height:16.6px;color:#404040;letter-spacing:0.206px;transform-origin:0 0;transform:scaleX(1.03);">computer</div>
<div class="t" style="left:111.60px;top:1024.74px;font-size:16.6px;line-height:16.6px;color:#404040;letter-spacing:0.135px;transform-origin:0 0;transform:scaleX(1.03);">model</div>
<div class="t" style="left:164.73px;top:1024.74px;font-size:16.6px;line-height:16.6px;color:#404040;letter-spacing:-0.158px;transform-origin:0 0;transform:scaleX(1.03);">called</div>
<div class="t" style="left:214.29px;top:1024.74px;font-size:16.6px;line-height:16.6px;color:#404040;letter-spacing:-0.102px;transform-origin:0 0;transform:scaleX(1.03);">i-Tree</div>
<div class="t" style="left:263.53px;top:1024.74px;font-size:16.6px;line-height:16.6px;color:#404040;letter-spacing:-0.781px;transform-origin:0 0;transform:scaleX(1.03);">Eco.</div>
<div class="t" style="left:300.39px;top:1024.74px;font-size:16.6px;line-height:16.6px;color:#404040;letter-spacing:-0.102px;transform-origin:0 0;transform:scaleX(1.03);">i-Tree</div>
<div class="t" style="left:349.64px;top:1024.74px;font-size:16.6px;line-height:16.6px;color:#404040;letter-spacing:-1.002px;transform-origin:0 0;transform:scaleX(1.03);">Eco</div>
<div class="t" style="left:381.87px;top:1024.74px;font-size:16.6px;line-height:16.6px;color:#404040;letter-spacing:-0.472px;transform-origin:0 0;transform:scaleX(1.03);">is</div>
<div class="t" style="left:399.11px;top:1024.74px;font-size:16.6px;line-height:16.6px;color:#404040;letter-spacing:-0.708px;transform-origin:0 0;transform:scaleX(1.03);">a</div>
<div class="t" style="left:413.75px;top:1024.74px;font-size:16.6px;line-height:16.6px;color:#404040;letter-spacing:0.010px;transform-origin:0 0;transform:scaleX(1.03);">peer</div>
<div class="t" style="left:453.88px;top:1024.74px;font-size:16.6px;line-height:16.6px;color:#404040;letter-spacing:0.040px;transform-origin:0 0;transform:scaleX(1.03);">reviewed,</div>
<div class="t" style="left:533.28px;top:1024.74px;font-size:16.6px;line-height:16.6px;color:#404040;letter-spacing:0.003px;transform-origin:0 0;transform:scaleX(1.03);">open</div>
<div class="t" style="left:577.19px;top:1024.74px;font-size:16.6px;line-height:16.6px;color:#404040;letter-spacing:-0.258px;transform-origin:0 0;transform:scaleX(1.03);">source</div>
<div class="t" style="left:632.78px;top:1024.74px;font-size:16.6px;line-height:16.6px;color:#404040;letter-spacing:-0.157px;transform-origin:0 0;transform:scaleX(1.03);">and</div>
<div class="t" style="left:666.69px;top:1024.74px;font-size:16.6px;line-height:16.6px;color:#404040;letter-spacing:0.149px;transform-origin:0 0;transform:scaleX(1.03);">freely</div>
<div class="t" style="left:715.28px;top:1024.74px;font-size:16.6px;line-height:16.6px;color:#404040;letter-spacing:-0.162px;transform-origin:0 0;transform:scaleX(1.03);">available</div>
<div class="t" style="left:787.13px;top:1024.74px;font-size:16.6px;line-height:16.6px;color:#404040;letter-spacing:0.163px;transform-origin:0 0;transform:scaleX(1.03);">software</div>
<div class="t" style="left:858.96px;top:1024.74px;font-size:16.6px;line-height:16.6px;color:#404040;letter-spacing:-0.004px;transform-origin:0 0;transform:scaleX(1.03);">suite,</div>
<div class="t" style="left:111.60px;top:1051.87px;font-size:16.6px;line-height:16.6px;color:#404040;letter-spacing:-0.319px;transform-origin:0 0;transform:scaleX(1.03);">used</div>
<div class="t" style="left:151.53px;top:1051.87px;font-size:16.6px;line-height:16.6px;color:#404040;letter-spacing:0.270px;transform-origin:0 0;transform:scaleX(1.03);">internationally</div>
<div class="t" style="left:265.38px;top:1051.87px;font-size:16.6px;line-height:16.6px;color:#404040;letter-spacing:0.796px;transform-origin:0 0;transform:scaleX(1.03);">to</div>
<div class="t" style="left:285.45px;top:1051.87px;font-size:16.6px;line-height:16.6px;color:#404040;letter-spacing:-1.029px;transform-origin:0 0;transform:scaleX(1.03);">assess</div>
<div class="t" style="left:336.47px;top:1051.87px;font-size:16.6px;line-height:16.6px;color:#404040;letter-spacing:0.115px;transform-origin:0 0;transform:scaleX(1.03);">urban</div>
<div class="t" style="left:384.97px;top:1051.87px;font-size:16.6px;line-height:16.6px;color:#404040;letter-spacing:0.030px;transform-origin:0 0;transform:scaleX(1.03);">trees</div>
<div class="t" style="left:427.30px;top:1051.87px;font-size:16.6px;line-height:16.6px;color:#404040;letter-spacing:-0.103px;transform-origin:0 0;transform:scaleX(1.03);">and</div>
<div class="t" style="left:459.68px;top:1051.87px;font-size:16.6px;line-height:16.6px;color:#404040;letter-spacing:-0.078px;transform-origin:0 0;transform:scaleX(1.03);">calculate</div>
<div class="t" style="left:530.61px;top:1051.87px;font-size:16.6px;line-height:16.6px;color:#404040;letter-spacing:0.473px;transform-origin:0 0;transform:scaleX(1.03);">their</div>
<div class="t" style="left:570.47px;top:1051.87px;font-size:16.6px;line-height:16.6px;color:#404040;letter-spacing:0.132px;transform-origin:0 0;transform:scaleX(1.03);">benefits</div>
<div class="t" style="left:635.61px;top:1051.87px;font-size:16.6px;line-height:16.6px;color:#404040;letter-spacing:0.796px;transform-origin:0 0;transform:scaleX(1.03);">to</div>
<div class="t" style="left:655.68px;top:1051.87px;font-size:16.6px;line-height:16.6px;color:#404040;letter-spacing:0.075px;transform-origin:0 0;transform:scaleX(1.03);">society.</div>
<div class="t" style="left:111.60px;top:1106.13px;font-size:16.6px;line-height:16.6px;color:#404040;letter-spacing:-0.399px;transform-origin:0 0;transform:scaleX(1.03);">For</div>
<div class="t" style="left:140.15px;top:1106.13px;font-size:16.6px;line-height:16.6px;color:#404040;letter-spacing:0.463px;transform-origin:0 0;transform:scaleX(1.03);">further</div>
<div class="t" style="left:197.04px;top:1106.13px;font-size:16.6px;line-height:16.6px;color:#404040;letter-spacing:0.330px;transform-origin:0 0;transform:scaleX(1.03);">information</div>
<div class="t" style="left:289.49px;top:1106.13px;font-size:16.6px;line-height:16.6px;color:#404040;letter-spacing:-0.181px;transform-origin:0 0;transform:scaleX(1.03);">and</div>
<div class="t" style="left:321.60px;top:1106.13px;font-size:16.6px;line-height:16.6px;color:#404040;letter-spacing:0.095px;transform-origin:0 0;transform:scaleX(1.03);">detailed</div>
<div class="t" style="left:386.40px;top:1106.13px;font-size:16.6px;line-height:16.6px;color:#404040;letter-spacing:0.100px;transform-origin:0 0;transform:scaleX(1.03);">methodology</div>
<div class="t" style="left:489.57px;top:1106.13px;font-size:16.6px;line-height:16.6px;color:#404040;letter-spacing:-0.375px;transform-origin:0 0;transform:scaleX(1.03);">go</div>
<div class="t" style="left:511.95px;top:1106.13px;font-size:16.6px;line-height:16.6px;color:#404040;letter-spacing:0.533px;transform-origin:0 0;transform:scaleX(1.03);">to:</div>
<div class="t" style="left:536.74px;top:1106.13px;font-size:16.6px;line-height:16.6px;color:#404040;letter-spacing:0.179px;transform-origin:0 0;transform:scaleX(1.03);">www.treeconomics.co.uk/treecarboncertificate/</div>
</body></html>
